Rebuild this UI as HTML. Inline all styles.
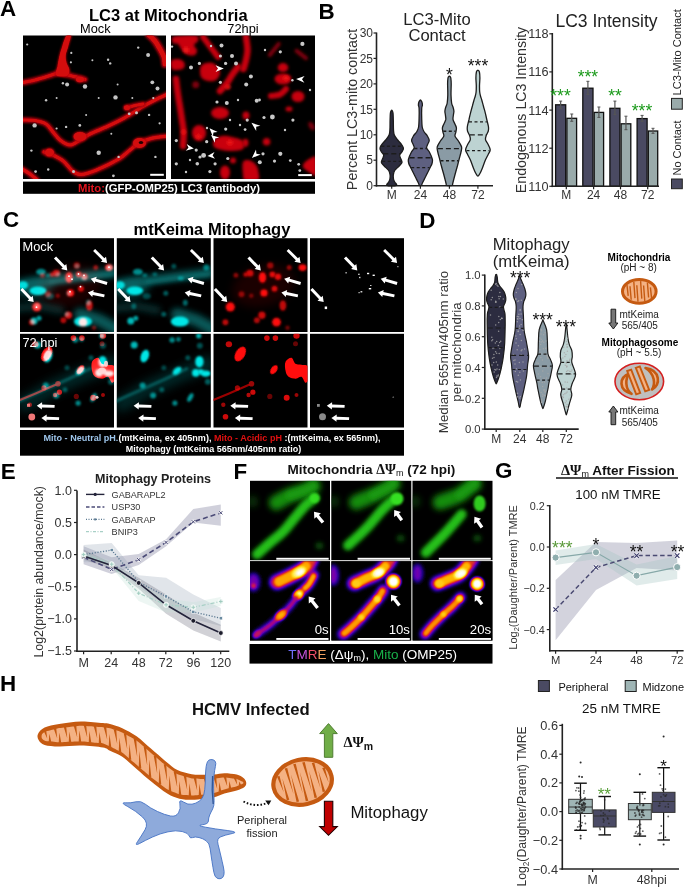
<!DOCTYPE html>
<html><head><meta charset="utf-8">
<style>
html,body{margin:0;padding:0;background:#fff;width:685px;height:888px;overflow:hidden}
svg{display:block;font-family:"Liberation Sans",sans-serif;will-change:transform}
</style></head><body>
<svg width="685" height="888" viewBox="0 0 685 888">
<defs>
<filter id="bl05" filterUnits="userSpaceOnUse" x="0" y="0" width="685" height="888"><feGaussianBlur stdDeviation="0.5"/></filter>
<filter id="bl1" filterUnits="userSpaceOnUse" x="0" y="0" width="685" height="888"><feGaussianBlur stdDeviation="1"/></filter>
<filter id="bl15" filterUnits="userSpaceOnUse" x="0" y="0" width="685" height="888"><feGaussianBlur stdDeviation="1.4"/></filter>
<filter id="bl2" filterUnits="userSpaceOnUse" x="0" y="0" width="685" height="888"><feGaussianBlur stdDeviation="2"/></filter>
<filter id="bl3" filterUnits="userSpaceOnUse" x="0" y="0" width="685" height="888"><feGaussianBlur stdDeviation="3"/></filter>
<filter id="bl5" filterUnits="userSpaceOnUse" x="0" y="0" width="685" height="888"><feGaussianBlur stdDeviation="5"/></filter>
<clipPath id="cA1"><rect x="23" y="35.5" width="143" height="143.5"/></clipPath>
<clipPath id="cA2"><rect x="171" y="35.5" width="144" height="143.5"/></clipPath>
</defs>
<text x="0" y="15.8" font-size="22.4" text-anchor="start" fill="#000" font-weight="bold">A</text>
<text x="89" y="20.5" font-size="16.5" text-anchor="start" fill="#000" font-weight="bold">LC3 at Mitochondria</text>
<text x="95.3" y="33.4" font-size="12.8" text-anchor="middle" fill="#000">Mock</text>
<text x="243" y="33.4" font-size="12.8" text-anchor="middle" fill="#000">72hpi</text>
<rect x="23" y="35.5" width="143" height="143.5" fill="#000"/>
<rect x="171" y="35.5" width="144" height="143.5" fill="#000"/>
<g clip-path="url(#cA1)">
<path d="M23.0,82.5 C25.0,82.1 31.0,81.0 35.0,80.0 C39.0,79.0 43.5,77.6 47.0,76.5 C50.5,75.4 54.5,74.0 56.0,73.5" fill="none" stroke="#a0000a" stroke-width="6.0" stroke-linecap="round" filter="url(#bl1)"/>
<path d="M23.0,82.5 C25.0,82.1 31.0,81.0 35.0,80.0 C39.0,79.0 43.5,77.6 47.0,76.5 C50.5,75.4 54.5,74.0 56.0,73.5" fill="none" stroke="#d40c0c" stroke-width="3.3" stroke-linecap="round" filter="url(#bl05)"/>
<path d="M64.0,74.0 C65.3,74.3 69.3,75.3 72.0,76.0 C74.7,76.7 77.8,77.4 80.0,78.0 C82.2,78.6 84.2,79.2 85.0,79.5" fill="none" stroke="#a0000a" stroke-width="6.0" stroke-linecap="round" filter="url(#bl1)"/>
<path d="M64.0,74.0 C65.3,74.3 69.3,75.3 72.0,76.0 C74.7,76.7 77.8,77.4 80.0,78.0 C82.2,78.6 84.2,79.2 85.0,79.5" fill="none" stroke="#d40c0c" stroke-width="3.3" stroke-linecap="round" filter="url(#bl05)"/>
<path d="M149.0,35.0 C150.0,36.0 153.2,38.7 155.0,41.0 C156.8,43.3 158.5,46.3 160.0,49.0 C161.5,51.7 163.2,54.5 164.0,57.0 C164.8,59.5 164.8,62.8 165.0,64.0" fill="none" stroke="#a0000a" stroke-width="7.9" stroke-linecap="round" filter="url(#bl1)"/>
<path d="M149.0,35.0 C150.0,36.0 153.2,38.7 155.0,41.0 C156.8,43.3 158.5,46.3 160.0,49.0 C161.5,51.7 163.2,54.5 164.0,57.0 C164.8,59.5 164.8,62.8 165.0,64.0" fill="none" stroke="#d40c0c" stroke-width="4.7" stroke-linecap="round" filter="url(#bl05)"/>
<path d="M22.0,120.0 C24.2,120.1 31.0,119.8 35.0,120.5 C39.0,121.2 43.0,122.1 46.0,124.0 C49.0,125.9 50.7,129.3 53.0,132.0 C55.3,134.7 57.2,137.8 60.0,140.0 C62.8,142.2 66.7,145.0 70.0,145.0 C73.3,145.0 76.7,141.8 80.0,140.0 C83.3,138.2 85.4,136.3 90.0,134.0 C94.6,131.7 101.8,129.0 107.6,126.3 C113.4,123.6 119.2,120.9 125.0,117.6 C130.8,114.3 137.6,109.5 142.6,106.6 C147.6,103.7 150.8,102.1 155.0,100.0 C159.2,97.9 165.8,95.0 168.0,94.0" fill="none" stroke="#a0000a" stroke-width="5.8" stroke-linecap="round" filter="url(#bl1)"/>
<path d="M22.0,120.0 C24.2,120.1 31.0,119.8 35.0,120.5 C39.0,121.2 43.0,122.1 46.0,124.0 C49.0,125.9 50.7,129.3 53.0,132.0 C55.3,134.7 57.2,137.8 60.0,140.0 C62.8,142.2 66.7,145.0 70.0,145.0 C73.3,145.0 76.7,141.8 80.0,140.0 C83.3,138.2 85.4,136.3 90.0,134.0 C94.6,131.7 101.8,129.0 107.6,126.3 C113.4,123.6 119.2,120.9 125.0,117.6 C130.8,114.3 137.6,109.5 142.6,106.6 C147.6,103.7 150.8,102.1 155.0,100.0 C159.2,97.9 165.8,95.0 168.0,94.0" fill="none" stroke="#d40c0c" stroke-width="3.2" stroke-linecap="round" filter="url(#bl05)"/>
<path d="M127.0,107.7 C128.3,107.3 132.3,106.1 135.0,105.5 C137.7,104.9 141.7,104.2 143.0,104.0" fill="none" stroke="#a0000a" stroke-width="5.4" stroke-linecap="round" filter="url(#bl1)"/>
<path d="M127.0,107.7 C128.3,107.3 132.3,106.1 135.0,105.5 C137.7,104.9 141.7,104.2 143.0,104.0" fill="none" stroke="#d40c0c" stroke-width="2.9" stroke-linecap="round" filter="url(#bl05)"/>
<path d="M44.0,152.0 C45.5,152.5 49.7,153.4 53.0,155.0 C56.3,156.6 60.5,158.7 63.8,161.4 C67.0,164.1 69.6,168.8 72.5,171.0 C75.4,173.2 77.3,174.7 81.3,174.5 C85.3,174.3 90.4,172.7 96.6,170.1 C102.8,167.5 112.9,162.5 118.5,159.2 C124.1,155.8 126.6,152.7 130.0,150.0 C133.4,147.3 135.4,144.9 139.0,143.0 C142.6,141.1 146.6,139.6 151.4,138.4 C156.2,137.2 165.2,136.4 168.0,136.0" fill="none" stroke="#a0000a" stroke-width="5.8" stroke-linecap="round" filter="url(#bl1)"/>
<path d="M44.0,152.0 C45.5,152.5 49.7,153.4 53.0,155.0 C56.3,156.6 60.5,158.7 63.8,161.4 C67.0,164.1 69.6,168.8 72.5,171.0 C75.4,173.2 77.3,174.7 81.3,174.5 C85.3,174.3 90.4,172.7 96.6,170.1 C102.8,167.5 112.9,162.5 118.5,159.2 C124.1,155.8 126.6,152.7 130.0,150.0 C133.4,147.3 135.4,144.9 139.0,143.0 C142.6,141.1 146.6,139.6 151.4,138.4 C156.2,137.2 165.2,136.4 168.0,136.0" fill="none" stroke="#d40c0c" stroke-width="3.2" stroke-linecap="round" filter="url(#bl05)"/>
<path d="M22.0,169.0 C23.3,169.8 27.5,172.2 30.0,174.0 C32.5,175.8 35.8,179.0 37.0,180.0" fill="none" stroke="#a0000a" stroke-width="6.0" stroke-linecap="round" filter="url(#bl1)"/>
<path d="M22.0,169.0 C23.3,169.8 27.5,172.2 30.0,174.0 C32.5,175.8 35.8,179.0 37.0,180.0" fill="none" stroke="#d40c0c" stroke-width="3.3" stroke-linecap="round" filter="url(#bl05)"/>
<path d="M66.5,35.0 C68.1,33.2 71.1,33.3 71.5,35.0 C71.9,36.7 69.9,41.7 69.0,45.0 C68.1,48.3 66.3,52.0 66.0,55.0 C65.7,58.0 66.3,60.5 67.0,63.0 C67.7,65.5 69.8,67.8 70.0,70.0 C70.2,72.2 69.7,74.8 68.0,76.0 C66.3,77.2 62.2,77.2 60.0,77.0 C57.8,76.8 55.5,76.8 55.0,75.0 C54.5,73.2 56.3,69.2 57.0,66.0 C57.7,62.8 58.2,59.3 59.0,56.0 C59.8,52.7 60.8,49.5 62.0,46.0 C63.2,42.5 64.9,36.8 66.5,35.0Z" fill="#b8000c" filter="url(#bl1)"/>
<path d="M66.2,36.1 C67.6,34.3 70.3,34.5 70.7,36.1 C71.0,37.7 69.2,42.5 68.4,45.7 C67.6,48.9 66.0,52.4 65.7,55.3 C65.4,58.2 66.0,60.6 66.6,63.0 C67.2,65.4 69.2,67.6 69.3,69.7 C69.4,71.8 69.0,74.3 67.5,75.5 C66.0,76.6 62.2,76.6 60.3,76.4 C58.3,76.3 56.2,76.3 55.8,74.5 C55.3,72.7 57.0,68.9 57.6,65.9 C58.2,62.8 58.6,59.5 59.4,56.3 C60.1,53.1 61.0,50.0 62.1,46.7 C63.2,43.3 64.7,37.9 66.2,36.1Z" fill="#d40c0c" filter="url(#bl05)"/>
<ellipse cx="80" cy="79.5" rx="4.8" ry="3.5999999999999996" fill="#b0000c" filter="url(#bl1)"/>
<ellipse cx="80" cy="79.5" rx="4" ry="2.8" fill="#d40c0c" filter="url(#bl05)"/>
<ellipse cx="49.5" cy="152.5" rx="5.3" ry="4.8" fill="#b0000c" filter="url(#bl1)"/>
<ellipse cx="49.5" cy="152.5" rx="4.5" ry="4" fill="#d40c0c" filter="url(#bl05)"/>
<ellipse cx="80" cy="136.5" rx="7.3" ry="5.3" fill="#b0000c" filter="url(#bl1)"/>
<ellipse cx="80" cy="136.5" rx="6.5" ry="4.5" fill="#d40c0c" filter="url(#bl05)"/>
<ellipse cx="139.5" cy="143" rx="7.3" ry="5.8" fill="#b0000c" filter="url(#bl1)"/>
<ellipse cx="139.5" cy="143" rx="6.5" ry="5" fill="#d40c0c" filter="url(#bl05)"/>
<ellipse cx="127" cy="107.7" rx="3.8" ry="3.2" fill="#b0000c" filter="url(#bl1)"/>
<ellipse cx="127" cy="107.7" rx="3" ry="2.4" fill="#d40c0c" filter="url(#bl05)"/>
<ellipse cx="141" cy="142.5" rx="2.2" ry="1.6" fill="#200" filter="url(#bl05)"/>
<circle cx="148.1" cy="55.0" r="2.0" fill="#c4c4c4" filter="url(#bl05)"/>
<circle cx="115.5" cy="97.4" r="2.2" fill="#c4c4c4" filter="url(#bl05)"/>
<circle cx="34.6" cy="125.4" r="2.2" fill="#c4c4c4" filter="url(#bl05)"/>
<circle cx="98.7" cy="152.7" r="2.2" fill="#c4c4c4" filter="url(#bl05)"/>
<circle cx="67.1" cy="84.4" r="2.0" fill="#c4c4c4" filter="url(#bl05)"/>
<circle cx="85.0" cy="86.5" r="2.2" fill="#c4c4c4" filter="url(#bl05)"/>
<circle cx="152.3" cy="82.3" r="1.9" fill="#c4c4c4" filter="url(#bl05)"/>
<circle cx="157.5" cy="88.6" r="2.0" fill="#c4c4c4" filter="url(#bl05)"/>
<circle cx="108.1" cy="59.8" r="1.2" fill="#c4c4c4" filter="url(#bl05)"/>
<circle cx="110.2" cy="63.4" r="1.2" fill="#c4c4c4" filter="url(#bl05)"/>
<circle cx="71.3" cy="52.9" r="1.1" fill="#c4c4c4" filter="url(#bl05)"/>
<circle cx="70.9" cy="62.3" r="1.1" fill="#c4c4c4" filter="url(#bl05)"/>
<circle cx="117.6" cy="84.4" r="1.0" fill="#c4c4c4" filter="url(#bl05)"/>
<circle cx="46.1" cy="100.2" r="1.2" fill="#c4c4c4" filter="url(#bl05)"/>
<circle cx="56.6" cy="98.1" r="1.0" fill="#c4c4c4" filter="url(#bl05)"/>
<circle cx="79.8" cy="125.4" r="1.4" fill="#c4c4c4" filter="url(#bl05)"/>
<circle cx="66.1" cy="126.9" r="1.2" fill="#c4c4c4" filter="url(#bl05)"/>
<circle cx="149.1" cy="114.9" r="1.2" fill="#c4c4c4" filter="url(#bl05)"/>
<circle cx="129.2" cy="113.8" r="1.4" fill="#c4c4c4" filter="url(#bl05)"/>
<circle cx="136.5" cy="112.8" r="1.5" fill="#c4c4c4" filter="url(#bl05)"/>
<circle cx="56.6" cy="128.5" r="1.1" fill="#c4c4c4" filter="url(#bl05)"/>
<circle cx="31.4" cy="150.6" r="1.2" fill="#c4c4c4" filter="url(#bl05)"/>
<circle cx="118.6" cy="156.9" r="1.2" fill="#c4c4c4" filter="url(#bl05)"/>
<circle cx="155.4" cy="156.9" r="1.2" fill="#c4c4c4" filter="url(#bl05)"/>
<circle cx="35.6" cy="171.6" r="1.4" fill="#c4c4c4" filter="url(#bl05)"/>
<circle cx="48.2" cy="169.5" r="1.2" fill="#c4c4c4" filter="url(#bl05)"/>
<circle cx="73.5" cy="171.6" r="1.5" fill="#c4c4c4" filter="url(#bl05)"/>
<circle cx="113.4" cy="175.8" r="1.4" fill="#c4c4c4" filter="url(#bl05)"/>
<circle cx="138.2" cy="47.6" r="1.2" fill="#c4c4c4" filter="url(#bl05)"/>
<circle cx="27.2" cy="44.5" r="1.1" fill="#c4c4c4" filter="url(#bl05)"/>
<circle cx="92.4" cy="60.2" r="1.0" fill="#c4c4c4" filter="url(#bl05)"/>
<circle cx="98.7" cy="98.1" r="1.0" fill="#c4c4c4" filter="url(#bl05)"/>
<circle cx="153.3" cy="98.1" r="1.1" fill="#c4c4c4" filter="url(#bl05)"/>
<circle cx="159.6" cy="123.3" r="1.1" fill="#c4c4c4" filter="url(#bl05)"/>
<circle cx="86.1" cy="114.9" r="1.0" fill="#c4c4c4" filter="url(#bl05)"/>
<circle cx="62.9" cy="83.3" r="1.2" fill="#c4c4c4" filter="url(#bl05)"/>
<circle cx="111.3" cy="133.8" r="1.0" fill="#c4c4c4" filter="url(#bl05)"/>
<circle cx="132.3" cy="98.1" r="1.0" fill="#c4c4c4" filter="url(#bl05)"/>
<rect x="150.2" y="173.8" width="13.6" height="2" fill="#fff"/>
</g>
<g clip-path="url(#cA2)">
<path d="M173.0,37.0 C175.0,35.8 181.0,35.7 185.0,35.5 C189.0,35.3 194.8,35.1 197.0,36.0 C199.2,36.9 198.5,39.5 198.0,41.0 C197.5,42.5 194.2,43.5 194.0,45.0 C193.8,46.5 196.8,48.3 197.0,50.0 C197.2,51.7 196.5,54.2 195.0,55.0 C193.5,55.8 190.2,55.8 188.0,55.0 C185.8,54.2 183.7,51.8 182.0,50.0 C180.3,48.2 179.5,45.2 178.0,44.0 C176.5,42.8 173.8,44.2 173.0,43.0 C172.2,41.8 171.0,38.2 173.0,37.0Z" fill="#c8000e" filter="url(#bl15)"/>
<path d="M171.0,61.0 C172.0,59.3 175.8,58.8 178.0,59.0 C180.2,59.2 183.0,60.5 184.0,62.0 C185.0,63.5 185.0,66.7 184.0,68.0 C183.0,69.3 180.0,69.8 178.0,70.0 C176.0,70.2 173.2,70.5 172.0,69.0 C170.8,67.5 170.0,62.7 171.0,61.0Z" fill="#c8000e" filter="url(#bl15)"/>
<path d="M214.0,140.0 C215.3,138.2 219.0,136.5 222.0,136.0 C225.0,135.5 228.5,136.2 232.0,137.0 C235.5,137.8 241.2,139.0 243.0,141.0 C244.8,143.0 244.8,147.3 243.0,149.0 C241.2,150.7 235.5,150.8 232.0,151.0 C228.5,151.2 225.0,150.7 222.0,150.0 C219.0,149.3 215.3,148.7 214.0,147.0 C212.7,145.3 212.7,141.8 214.0,140.0Z" fill="#c8000e" filter="url(#bl15)"/>
<path d="M243.0,162.0 C244.2,159.6 247.8,160.0 250.0,160.5 C252.2,161.0 254.6,163.1 256.0,165.0 C257.4,166.9 258.2,169.5 258.5,172.0 C258.8,174.5 260.2,178.7 258.0,180.0 C255.8,181.3 247.5,180.8 245.0,180.0 C242.5,179.2 243.3,178.0 243.0,175.0 C242.7,172.0 241.8,164.4 243.0,162.0Z" fill="#c8000e" filter="url(#bl15)"/>
<path d="M305.0,162.0 C306.5,160.4 310.2,158.2 312.0,157.5 C313.8,156.8 315.3,155.1 316.0,158.0 C316.7,160.9 317.2,172.7 316.0,175.0 C314.8,177.3 311.2,173.3 309.0,172.0 C306.8,170.7 303.7,168.7 303.0,167.0 C302.3,165.3 303.5,163.6 305.0,162.0Z" fill="#c8000e" filter="url(#bl15)"/>
<path d="M201.0,66.0 C202.5,63.6 207.3,62.5 210.0,62.5 C212.7,62.5 215.3,64.2 217.0,66.0 C218.7,67.8 220.2,70.7 220.0,73.0 C219.8,75.3 218.0,78.7 216.0,80.0 C214.0,81.3 210.5,81.5 208.0,81.0 C205.5,80.5 202.2,79.5 201.0,77.0 C199.8,74.5 199.5,68.4 201.0,66.0Z" fill="#c8000e" filter="url(#bl15)"/>
<path d="M203.0,37.0 C204.0,38.3 207.0,42.3 209.0,45.0 C211.0,47.7 213.5,51.0 215.0,53.0 C216.5,55.0 217.5,56.3 218.0,57.0" fill="none" stroke="#c8000e" stroke-width="6" stroke-linecap="round" stroke-linejoin="round" filter="url(#bl15)"/>
<path d="M176.0,79.0 C176.3,81.7 177.3,90.3 178.0,95.0 C178.7,99.7 179.3,102.8 180.0,107.0 C180.7,111.2 181.4,115.8 182.0,120.0 C182.6,124.2 183.4,127.7 183.6,132.0 C183.8,136.3 183.1,143.7 183.0,146.0" fill="none" stroke="#c8000e" stroke-width="6.5" stroke-linecap="round" stroke-linejoin="round" filter="url(#bl15)"/>
<path d="M238.0,67.0 C237.0,68.3 233.8,72.3 232.0,75.0 C230.2,77.7 229.0,80.3 227.0,83.0 C225.0,85.7 221.2,89.7 220.0,91.0" fill="none" stroke="#c8000e" stroke-width="6.5" stroke-linecap="round" stroke-linejoin="round" filter="url(#bl15)"/>
<path d="M246.0,37.0 C246.2,39.2 247.5,46.2 247.5,50.0 C247.5,53.8 246.7,56.8 246.0,60.0 C245.3,63.2 243.9,67.5 243.5,69.0" fill="none" stroke="#c8000e" stroke-width="6.5" stroke-linecap="round" stroke-linejoin="round" filter="url(#bl15)"/>
<path d="M278.7,43.9 L269.8,55" fill="none" stroke="#80000a" stroke-width="4" stroke-linecap="round" stroke-linejoin="round" filter="url(#bl15)"/>
<path d="M296.6,50.8 L306,58.1" fill="none" stroke="#80000a" stroke-width="4" stroke-linecap="round" stroke-linejoin="round" filter="url(#bl15)"/>
<path d="M271.0,96.0 C272.5,95.8 277.5,95.7 280.0,94.5 C282.5,93.3 285.0,89.9 286.0,89.0" fill="none" stroke="#c8000e" stroke-width="6" stroke-linecap="round" stroke-linejoin="round" filter="url(#bl15)"/>
<ellipse cx="220" cy="113" rx="9" ry="6" fill="#c8000e" filter="url(#bl15)"/>
<ellipse cx="199" cy="133" rx="7" ry="8" fill="#c8000e" filter="url(#bl15)"/>
<ellipse cx="233" cy="160.5" rx="3" ry="3" fill="#c8000e" filter="url(#bl15)"/>
<ellipse cx="225" cy="172.5" rx="5" ry="7" fill="#c8000e" filter="url(#bl15)"/>
<ellipse cx="246" cy="115.4" rx="3.5" ry="4" fill="#c8000e" filter="url(#bl15)"/>
<ellipse cx="245.5" cy="142.7" rx="3" ry="4" fill="#c8000e" filter="url(#bl15)"/>
<ellipse cx="266.6" cy="141.7" rx="3.8" ry="3.8" fill="#c8000e" filter="url(#bl15)"/>
<ellipse cx="289" cy="109" rx="3.5" ry="2.5" fill="#c8000e" filter="url(#bl15)"/>
<ellipse cx="311.5" cy="126" rx="2.5" ry="4.5" fill="#80000a" transform="rotate(-30 311.5 126)" filter="url(#bl15)"/>
<ellipse cx="283" cy="67.6" rx="5.3" ry="4.5" fill="#c8000e" filter="url(#bl15)"/>
<ellipse cx="283" cy="79" rx="8.5" ry="5.5" fill="#c8000e" filter="url(#bl15)"/>
<ellipse cx="298" cy="96.5" rx="6.5" ry="5.5" fill="#c8000e" filter="url(#bl15)"/>
<ellipse cx="195.7" cy="84.8" rx="3.5" ry="3.5" fill="#80000a" filter="url(#bl15)"/>
<ellipse cx="228" cy="87" rx="2.5" ry="2.5" fill="#f01212" filter="url(#bl15)"/>
<ellipse cx="286" cy="78" rx="3" ry="2.5" fill="#f01212" filter="url(#bl15)"/>
<ellipse cx="198.3" cy="136.4" rx="2.5" ry="2.5" fill="#f01212" filter="url(#bl15)"/>
<ellipse cx="229.9" cy="142.7" rx="3" ry="2.5" fill="#f01212" filter="url(#bl15)"/>
<ellipse cx="183.6" cy="132" rx="2" ry="3" fill="#f01212" filter="url(#bl15)"/>
<ellipse cx="186" cy="50" rx="3" ry="3" fill="#f01212" filter="url(#bl15)"/>
<circle cx="221.5" cy="45.5" r="2.0" fill="#c8c8c8" filter="url(#bl05)"/>
<circle cx="220.4" cy="56" r="1.6" fill="#c8c8c8" filter="url(#bl05)"/>
<circle cx="232" cy="56" r="2.0" fill="#c8c8c8" filter="url(#bl05)"/>
<circle cx="236" cy="63.4" r="2.0" fill="#c8c8c8" filter="url(#bl05)"/>
<circle cx="225.6" cy="63.4" r="1.6" fill="#c8c8c8" filter="url(#bl05)"/>
<circle cx="199.4" cy="63.4" r="1.6" fill="#c8c8c8" filter="url(#bl05)"/>
<circle cx="191" cy="67.6" r="2.0" fill="#c8c8c8" filter="url(#bl05)"/>
<circle cx="220.4" cy="82.3" r="1.6" fill="#c8c8c8" filter="url(#bl05)"/>
<circle cx="217" cy="102" r="1.6" fill="#c8c8c8" filter="url(#bl05)"/>
<circle cx="226.8" cy="103" r="2.0" fill="#c8c8c8" filter="url(#bl05)"/>
<circle cx="172" cy="46.6" r="1.2" fill="#c8c8c8" filter="url(#bl05)"/>
<circle cx="302.4" cy="43.9" r="2.1" fill="#c8c8c8" filter="url(#bl05)"/>
<circle cx="280.3" cy="51.8" r="1.6" fill="#c8c8c8" filter="url(#bl05)"/>
<circle cx="250.9" cy="76.5" r="2.0" fill="#c8c8c8" filter="url(#bl05)"/>
<circle cx="246.2" cy="84.4" r="2.0" fill="#c8c8c8" filter="url(#bl05)"/>
<circle cx="256.7" cy="100.7" r="2.0" fill="#c8c8c8" filter="url(#bl05)"/>
<circle cx="259.5" cy="100" r="1.4" fill="#c8c8c8" filter="url(#bl05)"/>
<circle cx="292.4" cy="80.2" r="1.2" fill="#c8c8c8" filter="url(#bl05)"/>
<circle cx="176.3" cy="140.6" r="1.6" fill="#c8c8c8" filter="url(#bl05)"/>
<circle cx="196.2" cy="150.1" r="1.6" fill="#c8c8c8" filter="url(#bl05)"/>
<circle cx="203.6" cy="155.4" r="2.4" fill="#c8c8c8" filter="url(#bl05)"/>
<circle cx="197.3" cy="163.8" r="1.8" fill="#c8c8c8" filter="url(#bl05)"/>
<circle cx="176.3" cy="163.8" r="1.6" fill="#c8c8c8" filter="url(#bl05)"/>
<circle cx="209.9" cy="171.6" r="1.6" fill="#c8c8c8" filter="url(#bl05)"/>
<circle cx="215.1" cy="163.8" r="1.6" fill="#c8c8c8" filter="url(#bl05)"/>
<circle cx="225.7" cy="129.1" r="1.6" fill="#c8c8c8" filter="url(#bl05)"/>
<circle cx="206.7" cy="141.7" r="1.6" fill="#c8c8c8" filter="url(#bl05)"/>
<circle cx="227.8" cy="158.5" r="1.6" fill="#c8c8c8" filter="url(#bl05)"/>
<circle cx="247.2" cy="120.1" r="1.6" fill="#c8c8c8" filter="url(#bl05)"/>
<circle cx="272.4" cy="117" r="2.4" fill="#c8c8c8" filter="url(#bl05)"/>
<circle cx="264" cy="117.5" r="1.6" fill="#c8c8c8" filter="url(#bl05)"/>
<circle cx="292.9" cy="120.1" r="1.6" fill="#c8c8c8" filter="url(#bl05)"/>
<circle cx="280.3" cy="153.8" r="2.1" fill="#c8c8c8" filter="url(#bl05)"/>
<circle cx="259.8" cy="162.2" r="2.0" fill="#c8c8c8" filter="url(#bl05)"/>
<circle cx="263" cy="153.8" r="1.6" fill="#c8c8c8" filter="url(#bl05)"/>
<circle cx="274.5" cy="161.1" r="1.6" fill="#c8c8c8" filter="url(#bl05)"/>
<circle cx="290.3" cy="160.6" r="1.4" fill="#c8c8c8" filter="url(#bl05)"/>
<circle cx="298.7" cy="164.3" r="1.4" fill="#c8c8c8" filter="url(#bl05)"/>
<circle cx="299.8" cy="170.6" r="1.4" fill="#c8c8c8" filter="url(#bl05)"/>
<circle cx="245.1" cy="129.6" r="1.4" fill="#c8c8c8" filter="url(#bl05)"/>
<circle cx="186" cy="172" r="1.2" fill="#c8c8c8" filter="url(#bl05)"/>
<circle cx="230" cy="120" r="1.2" fill="#c8c8c8" filter="url(#bl05)"/>
<circle cx="211" cy="46" r="1.2" fill="#c8c8c8" filter="url(#bl05)"/>
<circle cx="207" cy="128" r="1.2" fill="#c8c8c8" filter="url(#bl05)"/>
<circle cx="200" cy="157" r="1.6" fill="#c8c8c8" filter="url(#bl05)"/>
<circle cx="190" cy="160" r="1.2" fill="#c8c8c8" filter="url(#bl05)"/>
<circle cx="238" cy="100" r="1.2" fill="#c8c8c8" filter="url(#bl05)"/>
<circle cx="265" cy="50" r="1.2" fill="#c8c8c8" filter="url(#bl05)"/>
<circle cx="310" cy="90" r="1.2" fill="#c8c8c8" filter="url(#bl05)"/>
<circle cx="285" cy="130" r="1.2" fill="#c8c8c8" filter="url(#bl05)"/>
<circle cx="240" cy="125" r="1.2" fill="#c8c8c8" filter="url(#bl05)"/>
<path d="M223.8,68.6 L215.5,72.0 L218.0,68.6 L215.5,65.2Z" fill="#fff"/>
<path d="M296.1,79.1 L304.6,76.0 L302.0,79.3 L304.4,82.8Z" fill="#fff"/>
<path d="M193.8,148.5 L185.7,150.7 L188.5,147.7 L186.7,144.0Z" fill="#fff"/>
<path d="M209.5,128.3 L217.7,131.9 L213.5,132.5 L212.8,136.6Z" fill="#fff"/>
<path d="M211.0,135.0 L219.2,137.6 L215.2,138.6 L214.8,142.7Z" fill="#fff"/>
<path d="M207.5,155.9 L214.5,152.0 L212.6,155.6 L215.0,158.8Z" fill="#fff"/>
<path d="M251.4,122.8 L260.4,125.7 L256.2,126.7 L256.2,131.0Z" fill="#fff"/>
<path d="M251.9,158.0 L256.0,149.5 L256.4,153.8 L260.7,154.5Z" fill="#fff"/>
<rect x="298.2" y="174.1" width="13.6" height="2" fill="#fff"/>
</g>
<rect x="23" y="181.6" width="292" height="12.2" fill="#000"/>
<text x="169" y="191.6" font-size="11.3" font-weight="bold" text-anchor="middle" fill="#fff"><tspan fill="#e0141e">Mito:</tspan>(GFP-OMP25) LC3 (antibody)</text>
<text x="318.4" y="19.3" font-size="22.4" text-anchor="start" fill="#000" font-weight="bold">B</text>
<text x="437" y="24.8" font-size="16.6" text-anchor="middle" fill="#222">LC3-Mito</text>
<text x="437" y="40.9" font-size="16.6" text-anchor="middle" fill="#222">Contact</text>
<line x1="376.5" y1="32.5" x2="376.5" y2="186.5" stroke="#222" stroke-width="1.6"/>
<line x1="375.7" y1="185.7" x2="493" y2="185.7" stroke="#222" stroke-width="1.6"/>
<line x1="373.5" y1="185.7" x2="376.5" y2="185.7" stroke="#222" stroke-width="1.2"/>
<text x="373" y="189.9" font-size="12" text-anchor="end" fill="#333">0</text>
<line x1="373.5" y1="160.2" x2="376.5" y2="160.2" stroke="#222" stroke-width="1.2"/>
<text x="373" y="164.4" font-size="12" text-anchor="end" fill="#333">5</text>
<line x1="373.5" y1="134.8" x2="376.5" y2="134.8" stroke="#222" stroke-width="1.2"/>
<text x="373" y="139.0" font-size="12" text-anchor="end" fill="#333">10</text>
<line x1="373.5" y1="109.3" x2="376.5" y2="109.3" stroke="#222" stroke-width="1.2"/>
<text x="373" y="113.5" font-size="12" text-anchor="end" fill="#333">15</text>
<line x1="373.5" y1="83.9" x2="376.5" y2="83.9" stroke="#222" stroke-width="1.2"/>
<text x="373" y="88.1" font-size="12" text-anchor="end" fill="#333">20</text>
<line x1="373.5" y1="58.4" x2="376.5" y2="58.4" stroke="#222" stroke-width="1.2"/>
<text x="373" y="62.6" font-size="12" text-anchor="end" fill="#333">25</text>
<line x1="373.5" y1="33.0" x2="376.5" y2="33.0" stroke="#222" stroke-width="1.2"/>
<text x="373" y="37.2" font-size="12" text-anchor="end" fill="#333">30</text>
<line x1="391.7" y1="185.7" x2="391.7" y2="188.7" stroke="#222" stroke-width="1.2"/>
<text x="391.7" y="198.5" font-size="12" text-anchor="middle" fill="#333">M</text>
<line x1="420.4" y1="185.7" x2="420.4" y2="188.7" stroke="#222" stroke-width="1.2"/>
<text x="420.4" y="198.5" font-size="12" text-anchor="middle" fill="#333">24</text>
<line x1="449.4" y1="185.7" x2="449.4" y2="188.7" stroke="#222" stroke-width="1.2"/>
<text x="449.4" y="198.5" font-size="12" text-anchor="middle" fill="#333">48</text>
<line x1="477.9" y1="185.7" x2="477.9" y2="188.7" stroke="#222" stroke-width="1.2"/>
<text x="477.9" y="198.5" font-size="12" text-anchor="middle" fill="#333">72</text>
<text transform="translate(357.4,109.5) rotate(-90)" font-size="14.3" text-anchor="middle" fill="#333">Percent LC3-mito contact</text>
<path d="M392.1,110.5 C392.4,110.9 392.8,111.4 393.0,113.0 C393.2,114.6 393.2,117.2 393.3,120.0 C393.4,122.8 393.3,127.5 393.5,130.0 C393.7,132.5 393.6,133.3 394.3,135.0 C395.0,136.7 396.6,138.5 397.7,140.0 C398.8,141.5 400.2,142.7 401.2,144.0 C402.1,145.3 403.2,146.8 403.4,148.0 C403.6,149.2 402.8,150.3 402.2,151.5 C401.6,152.7 399.9,153.8 399.7,155.0 C399.4,156.2 400.3,157.3 400.7,158.5 C401.1,159.7 402.2,161.2 402.0,162.4 C401.8,163.7 400.4,164.7 399.2,166.0 C398.0,167.3 395.7,169.0 394.7,170.5 C393.7,172.0 393.5,173.6 393.3,175.0 C393.1,176.4 393.3,177.8 393.5,179.0 C393.7,180.2 394.2,180.9 394.7,182.0 C395.2,183.1 397.6,184.8 396.3,185.3 C395.0,185.9 388.4,185.9 387.1,185.3 C385.8,184.8 388.2,183.1 388.7,182.0 C389.2,180.9 389.7,180.2 389.9,179.0 C390.1,177.8 390.3,176.4 390.1,175.0 C389.9,173.6 389.7,172.0 388.7,170.5 C387.7,169.0 385.4,167.3 384.2,166.0 C383.0,164.7 381.6,163.7 381.4,162.4 C381.1,161.2 382.3,159.7 382.7,158.5 C383.1,157.3 383.9,156.2 383.7,155.0 C383.4,153.8 381.8,152.7 381.2,151.5 C380.6,150.3 379.8,149.2 380.0,148.0 C380.2,146.8 381.2,145.3 382.2,144.0 C383.1,142.7 384.6,141.5 385.7,140.0 C386.8,138.5 388.4,136.7 389.1,135.0 C389.8,133.3 389.7,132.5 389.9,130.0 C390.1,127.5 390.0,122.8 390.1,120.0 C390.2,117.2 390.2,114.6 390.4,113.0 C390.6,111.4 391.0,110.9 391.3,110.5 C391.6,110.1 391.8,110.1 392.1,110.5Z" fill="#2c2c3e" stroke="#1c1c1c" stroke-width="1.3"/>
<line x1="381.4" y1="146.3" x2="402.0" y2="146.3" stroke="#1c1c1c" stroke-width="1.4" stroke-dasharray="3,2.5"/>
<line x1="383.3" y1="153.7" x2="400.1" y2="153.7" stroke="#1c1c1c" stroke-width="1.4" stroke-dasharray="5,3"/>
<line x1="382.2" y1="161.4" x2="401.2" y2="161.4" stroke="#1c1c1c" stroke-width="1.4" stroke-dasharray="3,2.5"/>
<path d="M420.8,100.2 C421.1,100.5 421.6,101.2 421.9,102.0 C422.2,102.8 422.4,103.9 422.4,105.0 C422.4,106.1 421.8,106.3 421.7,108.5 C421.6,110.7 421.6,114.9 421.7,118.0 C421.8,121.1 421.8,124.8 422.2,127.0 C422.6,129.2 423.0,130.0 423.9,131.5 C424.8,133.0 426.5,134.5 427.4,136.0 C428.3,137.5 429.2,139.1 429.2,140.5 C429.2,141.9 428.0,143.2 427.6,144.5 C427.2,145.8 426.3,146.7 426.6,148.0 C426.9,149.3 428.6,150.6 429.6,152.5 C430.6,154.4 432.0,157.7 432.4,159.5 C432.8,161.3 432.3,162.2 432.0,163.5 C431.7,164.8 431.1,165.6 430.4,167.0 C429.7,168.4 428.8,170.2 427.9,172.0 C427.0,173.8 425.8,176.2 424.9,178.0 C424.0,179.8 423.0,181.8 422.4,183.0 C421.8,184.2 421.9,184.9 421.4,185.3 C420.9,185.7 419.9,185.7 419.4,185.3 C418.9,184.9 419.0,184.2 418.4,183.0 C417.8,181.8 416.8,179.8 415.9,178.0 C415.0,176.2 413.8,173.8 412.9,172.0 C412.0,170.2 411.1,168.4 410.4,167.0 C409.7,165.6 409.1,164.8 408.8,163.5 C408.5,162.2 408.0,161.3 408.4,159.5 C408.8,157.7 410.2,154.4 411.2,152.5 C412.2,150.6 413.9,149.3 414.2,148.0 C414.5,146.7 413.6,145.8 413.2,144.5 C412.8,143.2 411.6,141.9 411.6,140.5 C411.6,139.1 412.5,137.5 413.4,136.0 C414.3,134.5 416.0,133.0 416.9,131.5 C417.8,130.0 418.2,129.2 418.6,127.0 C419.0,124.8 419.0,121.1 419.1,118.0 C419.2,114.9 419.2,110.7 419.1,108.5 C419.0,106.3 418.4,106.1 418.4,105.0 C418.4,103.9 418.6,102.8 418.9,102.0 C419.2,101.2 419.7,100.5 420.0,100.2 C420.3,99.9 420.5,99.9 420.8,100.2Z" fill="#5e6080" stroke="#1c1c1c" stroke-width="1.3"/>
<line x1="414.4" y1="148.5" x2="426.4" y2="148.5" stroke="#1c1c1c" stroke-width="1.4" stroke-dasharray="3,2.5"/>
<line x1="409.6" y1="157.8" x2="431.2" y2="157.8" stroke="#1c1c1c" stroke-width="1.4" stroke-dasharray="5,3"/>
<line x1="411.2" y1="167.6" x2="429.6" y2="167.6" stroke="#1c1c1c" stroke-width="1.4" stroke-dasharray="3,2.5"/>
<path d="M449.8,76.3 C450.1,76.6 450.6,76.7 450.8,78.0 C451.0,79.3 451.2,81.2 451.2,84.0 C451.2,86.8 450.9,91.8 451.0,95.0 C451.1,98.2 451.3,101.0 451.6,103.0 C451.9,105.0 452.6,105.7 453.0,107.0 C453.4,108.3 453.8,109.7 453.9,111.0 C454.0,112.3 453.5,113.6 453.4,115.0 C453.2,116.4 452.8,117.9 453.0,119.4 C453.2,120.9 454.3,122.6 454.9,124.0 C455.5,125.4 456.2,126.5 456.4,127.8 C456.6,129.1 456.1,130.6 455.9,132.0 C455.7,133.4 454.6,134.7 455.0,136.2 C455.4,137.7 457.3,139.2 458.4,141.0 C459.5,142.8 461.2,145.2 461.6,147.0 C462.0,148.8 461.4,150.1 461.0,152.0 C460.6,153.9 460.0,155.9 459.4,158.2 C458.8,160.5 458.1,163.2 457.4,166.0 C456.6,168.8 455.7,172.0 454.9,175.0 C454.1,178.0 453.0,182.3 452.6,184.0 C452.2,185.7 453.4,185.1 452.4,185.3 C451.4,185.5 447.4,185.5 446.4,185.3 C445.4,185.1 446.6,185.7 446.2,184.0 C445.8,182.3 444.7,178.0 443.9,175.0 C443.1,172.0 442.1,168.8 441.4,166.0 C440.6,163.2 440.0,160.5 439.4,158.2 C438.8,155.9 438.2,153.9 437.8,152.0 C437.4,150.1 436.8,148.8 437.2,147.0 C437.6,145.2 439.3,142.8 440.4,141.0 C441.5,139.2 443.4,137.7 443.8,136.2 C444.2,134.7 443.1,133.4 442.9,132.0 C442.7,130.6 442.2,129.1 442.4,127.8 C442.6,126.5 443.3,125.4 443.9,124.0 C444.5,122.6 445.5,120.9 445.8,119.4 C446.0,117.9 445.5,116.4 445.4,115.0 C445.2,113.6 444.8,112.3 444.9,111.0 C445.0,109.7 445.4,108.3 445.8,107.0 C446.2,105.7 446.9,105.0 447.2,103.0 C447.5,101.0 447.7,98.2 447.8,95.0 C447.9,91.8 447.6,86.8 447.6,84.0 C447.6,81.2 447.8,79.3 448.0,78.0 C448.2,76.7 448.7,76.6 449.0,76.3 C449.3,76.0 449.5,76.0 449.8,76.3Z" fill="#8a9ba5" stroke="#1c1c1c" stroke-width="1.3"/>
<line x1="443.3" y1="131.2" x2="455.5" y2="131.2" stroke="#1c1c1c" stroke-width="1.4" stroke-dasharray="3,2.5"/>
<line x1="437.9" y1="148.6" x2="460.9" y2="148.6" stroke="#1c1c1c" stroke-width="1.4" stroke-dasharray="5,3"/>
<line x1="440.5" y1="160.7" x2="458.3" y2="160.7" stroke="#1c1c1c" stroke-width="1.4" stroke-dasharray="3,2.5"/>
<path d="M478.3,70.4 C478.6,70.7 479.1,70.7 479.4,72.0 C479.7,73.3 479.9,75.7 479.9,78.0 C479.9,80.3 479.5,83.7 479.5,86.0 C479.5,88.3 479.5,90.3 479.7,92.0 C479.9,93.7 480.1,94.6 480.5,96.0 C480.9,97.4 481.4,98.8 481.9,100.5 C482.4,102.2 482.8,104.0 483.4,106.0 C483.9,108.0 484.6,110.3 485.2,112.6 C485.8,114.9 486.3,117.6 486.9,120.0 C487.4,122.4 488.3,125.2 488.5,127.0 C488.7,128.8 488.7,129.6 488.3,131.0 C487.9,132.4 486.7,134.1 486.2,135.5 C485.7,136.9 485.2,138.2 485.5,139.6 C485.8,141.0 487.1,142.3 487.9,144.0 C488.7,145.7 490.1,148.0 490.2,149.7 C490.3,151.4 489.2,152.3 488.4,154.0 C487.6,155.7 486.4,157.7 485.4,160.0 C484.4,162.3 483.3,165.8 482.4,168.0 C481.5,170.2 480.9,171.7 480.2,173.0 C479.5,174.3 478.9,175.4 478.4,175.9 C477.9,176.4 477.9,176.4 477.4,175.9 C476.9,175.4 476.3,174.3 475.6,173.0 C474.9,171.7 474.3,170.2 473.4,168.0 C472.5,165.8 471.4,162.3 470.4,160.0 C469.4,157.7 468.2,155.7 467.4,154.0 C466.6,152.3 465.5,151.4 465.6,149.7 C465.7,148.0 467.1,145.7 467.9,144.0 C468.7,142.3 470.0,141.0 470.3,139.6 C470.6,138.2 470.1,136.9 469.6,135.5 C469.1,134.1 467.9,132.4 467.5,131.0 C467.1,129.6 467.1,128.8 467.3,127.0 C467.5,125.2 468.3,122.4 468.9,120.0 C469.4,117.6 470.0,114.9 470.6,112.6 C471.2,110.3 471.8,108.0 472.4,106.0 C472.9,104.0 473.4,102.2 473.9,100.5 C474.4,98.8 474.9,97.4 475.3,96.0 C475.7,94.6 475.9,93.7 476.1,92.0 C476.3,90.3 476.3,88.3 476.3,86.0 C476.3,83.7 475.9,80.3 475.9,78.0 C475.9,75.7 476.1,73.3 476.4,72.0 C476.7,70.7 477.2,70.7 477.5,70.4 C477.8,70.1 478.0,70.1 478.3,70.4Z" fill="#bdd3d2" stroke="#1c1c1c" stroke-width="1.3"/>
<line x1="469.0" y1="121.9" x2="486.8" y2="121.9" stroke="#1c1c1c" stroke-width="1.4" stroke-dasharray="3,2.5"/>
<line x1="469.8" y1="134.9" x2="486.0" y2="134.9" stroke="#1c1c1c" stroke-width="1.4" stroke-dasharray="5,3"/>
<line x1="466.5" y1="150.6" x2="489.3" y2="150.6" stroke="#1c1c1c" stroke-width="1.4" stroke-dasharray="3,2.5"/>
<text x="449.4" y="80.5" font-size="17.5" text-anchor="middle" fill="#111">*</text>
<text x="478" y="71.8" font-size="17.5" text-anchor="middle" fill="#111">***</text>
<text x="606.5" y="27" font-size="17.5" text-anchor="middle" fill="#222">LC3 Intensity</text>
<line x1="552.3" y1="33" x2="552.3" y2="187.10000000000002" stroke="#222" stroke-width="1.6"/>
<line x1="549.3" y1="186.3" x2="552.3" y2="186.3" stroke="#222" stroke-width="1.2"/>
<text x="548.6" y="190.7" font-size="12.7" text-anchor="end" fill="#333">110</text>
<line x1="549.3" y1="148.2" x2="552.3" y2="148.2" stroke="#222" stroke-width="1.2"/>
<text x="548.6" y="152.6" font-size="12.7" text-anchor="end" fill="#333">112</text>
<line x1="549.3" y1="110.1" x2="552.3" y2="110.1" stroke="#222" stroke-width="1.2"/>
<text x="548.6" y="114.5" font-size="12.7" text-anchor="end" fill="#333">114</text>
<line x1="549.3" y1="71.9" x2="552.3" y2="71.9" stroke="#222" stroke-width="1.2"/>
<text x="548.6" y="76.3" font-size="12.7" text-anchor="end" fill="#333">116</text>
<line x1="549.3" y1="33.8" x2="552.3" y2="33.8" stroke="#222" stroke-width="1.2"/>
<text x="548.6" y="38.2" font-size="12.7" text-anchor="end" fill="#333">118</text>
<rect x="555.6" y="104.8" width="10.099999999999955" height="81.50000000000001" fill="#4a4a62" stroke="#111" stroke-width="1.3"/>
<line x1="560.65" y1="101.1" x2="560.65" y2="108.7" stroke="#555" stroke-width="1.2"/>
<line x1="559.15" y1="101.1" x2="562.15" y2="101.1" stroke="#555" stroke-width="1"/>
<line x1="559.15" y1="108.7" x2="562.15" y2="108.7" stroke="#555" stroke-width="1"/>
<rect x="566.9" y="118.3" width="9.700000000000092" height="68.00000000000001" fill="#9aabab" stroke="#111" stroke-width="1.3"/>
<line x1="571.75" y1="114" x2="571.75" y2="121.3" stroke="#555" stroke-width="1.2"/>
<line x1="570.25" y1="114" x2="573.25" y2="114" stroke="#555" stroke-width="1"/>
<line x1="570.25" y1="121.3" x2="573.25" y2="121.3" stroke="#555" stroke-width="1"/>
<rect x="582.8000000000001" y="88.2" width="10.199999999999978" height="98.10000000000001" fill="#4a4a62" stroke="#111" stroke-width="1.3"/>
<line x1="587.9000000000001" y1="81.3" x2="587.9000000000001" y2="94.4" stroke="#555" stroke-width="1.2"/>
<line x1="586.4000000000001" y1="81.3" x2="589.4000000000001" y2="81.3" stroke="#555" stroke-width="1"/>
<line x1="586.4000000000001" y1="94.4" x2="589.4000000000001" y2="94.4" stroke="#555" stroke-width="1"/>
<rect x="594.2" y="112.4" width="9.400000000000023" height="73.9" fill="#9aabab" stroke="#111" stroke-width="1.3"/>
<line x1="598.9000000000001" y1="107" x2="598.9000000000001" y2="117.4" stroke="#555" stroke-width="1.2"/>
<line x1="597.4000000000001" y1="107" x2="600.4000000000001" y2="107" stroke="#555" stroke-width="1"/>
<line x1="597.4000000000001" y1="117.4" x2="600.4000000000001" y2="117.4" stroke="#555" stroke-width="1"/>
<rect x="609.9" y="108.3" width="10.000000000000046" height="78.00000000000001" fill="#4a4a62" stroke="#111" stroke-width="1.3"/>
<line x1="614.9" y1="101.1" x2="614.9" y2="114.6" stroke="#555" stroke-width="1.2"/>
<line x1="613.4" y1="101.1" x2="616.4" y2="101.1" stroke="#555" stroke-width="1"/>
<line x1="613.4" y1="114.6" x2="616.4" y2="114.6" stroke="#555" stroke-width="1"/>
<rect x="621.1" y="123.8" width="9.699999999999978" height="62.500000000000014" fill="#9aabab" stroke="#111" stroke-width="1.3"/>
<line x1="625.95" y1="116.2" x2="625.95" y2="129.7" stroke="#555" stroke-width="1.2"/>
<line x1="624.45" y1="116.2" x2="627.45" y2="116.2" stroke="#555" stroke-width="1"/>
<line x1="624.45" y1="129.7" x2="627.45" y2="129.7" stroke="#555" stroke-width="1"/>
<rect x="637.1" y="118.6" width="10.000000000000046" height="67.70000000000002" fill="#4a4a62" stroke="#111" stroke-width="1.3"/>
<line x1="642.1" y1="115.4" x2="642.1" y2="121.3" stroke="#555" stroke-width="1.2"/>
<line x1="640.6" y1="115.4" x2="643.6" y2="115.4" stroke="#555" stroke-width="1"/>
<line x1="640.6" y1="121.3" x2="643.6" y2="121.3" stroke="#555" stroke-width="1"/>
<rect x="648.3000000000001" y="131" width="9.39999999999991" height="55.30000000000001" fill="#9aabab" stroke="#111" stroke-width="1.3"/>
<line x1="653.0" y1="128.3" x2="653.0" y2="133.4" stroke="#555" stroke-width="1.2"/>
<line x1="651.5" y1="128.3" x2="654.5" y2="128.3" stroke="#555" stroke-width="1"/>
<line x1="651.5" y1="133.4" x2="654.5" y2="133.4" stroke="#555" stroke-width="1"/>
<line x1="551.5" y1="186.3" x2="659" y2="186.3" stroke="#222" stroke-width="1.6"/>
<line x1="566.3" y1="186.3" x2="566.3" y2="189.3" stroke="#222" stroke-width="1.2"/>
<text x="566.3" y="198.5" font-size="12" text-anchor="middle" fill="#333">M</text>
<line x1="593.6" y1="186.3" x2="593.6" y2="189.3" stroke="#222" stroke-width="1.2"/>
<text x="593.6" y="198.5" font-size="12" text-anchor="middle" fill="#333">24</text>
<line x1="620.5" y1="186.3" x2="620.5" y2="189.3" stroke="#222" stroke-width="1.2"/>
<text x="620.5" y="198.5" font-size="12" text-anchor="middle" fill="#333">48</text>
<line x1="647.7" y1="186.3" x2="647.7" y2="189.3" stroke="#222" stroke-width="1.2"/>
<text x="647.7" y="198.5" font-size="12" text-anchor="middle" fill="#333">72</text>
<text x="560.5" y="102.4" font-size="17.5" text-anchor="middle" fill="#1a9a1a">***</text>
<text x="587.9" y="82.6" font-size="17.5" text-anchor="middle" fill="#1a9a1a">***</text>
<text x="615.0" y="102.4" font-size="17.5" text-anchor="middle" fill="#1a9a1a">**</text>
<text x="642.0" y="116.7" font-size="17.5" text-anchor="middle" fill="#1a9a1a">***</text>
<text transform="translate(526.3,110) rotate(-90)" font-size="14.2" text-anchor="middle" fill="#333">Endogenous LC3 Intensity</text>
<rect x="671.5" y="98.4" width="10.8" height="10.8" fill="#9aabab" stroke="#222" stroke-width="1"/>
<rect x="671.5" y="179" width="10.8" height="9.7" fill="#4a4a62" stroke="#222" stroke-width="1"/>
<text transform="translate(681,52.3) rotate(-90)" font-size="11.1" text-anchor="middle" fill="#222">LC3-Mito Contact</text>
<text transform="translate(681,148) rotate(-90)" font-size="11" text-anchor="middle" fill="#222">No Contact</text>
<text x="2.9" y="227.3" font-size="22.4" text-anchor="start" fill="#000" font-weight="bold">C</text>
<text x="212" y="234.5" font-size="16.5" text-anchor="middle" fill="#000" font-weight="bold">mtKeima Mitophagy</text>
<rect x="20" y="238.2" width="94" height="93.8" fill="#000"/>
<rect x="116.8" y="238.2" width="94" height="93.8" fill="#000"/>
<rect x="213.5" y="238.2" width="94" height="93.8" fill="#000"/>
<rect x="310" y="238.2" width="94" height="93.8" fill="#000"/>
<rect x="20" y="333.8" width="94" height="93.7" fill="#000"/>
<rect x="116.8" y="333.8" width="94" height="93.7" fill="#000"/>
<rect x="213.5" y="333.8" width="94" height="93.7" fill="#000"/>
<rect x="310" y="333.8" width="94" height="93.7" fill="#000"/>
<defs><clipPath id="cC00"><rect x="20" y="238.2" width="94" height="93.7"/></clipPath><clipPath id="cC01"><rect x="20" y="333.8" width="94" height="93.7"/></clipPath><clipPath id="cC10"><rect x="116.8" y="238.2" width="94" height="93.7"/></clipPath><clipPath id="cC11"><rect x="116.8" y="333.8" width="94" height="93.7"/></clipPath><clipPath id="cC20"><rect x="213.5" y="238.2" width="94" height="93.7"/></clipPath><clipPath id="cC21"><rect x="213.5" y="333.8" width="94" height="93.7"/></clipPath><clipPath id="cC30"><rect x="310" y="238.2" width="94" height="93.7"/></clipPath><clipPath id="cC31"><rect x="310" y="333.8" width="94" height="93.7"/></clipPath></defs>
<g clip-path="url(#cC00)"><ellipse cx="34.0" cy="288.2" rx="18" ry="9" fill="#0a8a8a" opacity="0.55" transform="rotate(-8 34.0 288.2)" filter="url(#bl5)"/><path d="M15.0,285.2 L50.0,280.2 L80.0,276.2 L116.0,272.2" fill="none" stroke="#0b8080" stroke-width="9" stroke-linecap="round" opacity="0.65" filter="url(#bl3)"/><path d="M50.0,282.2 L80.0,278.2 L112.0,274.2" fill="none" stroke="#10a0a0" stroke-width="4" stroke-linecap="round" opacity="0.5" filter="url(#bl2)"/><path d="M80.0,314.2 L100.0,320.2 L118.0,330.2" fill="none" stroke="#0a8080" stroke-width="12" stroke-linecap="round" opacity="0.7" filter="url(#bl3)"/><path d="M15.0,308.2 L40.0,306.2 L60.0,310.2" fill="none" stroke="#084848" stroke-width="8" stroke-linecap="round" opacity="0.6" filter="url(#bl3)"/><ellipse cx="38.0" cy="290.7" rx="8.4" ry="4.2" fill="#00e6e6" opacity="1" filter="url(#bl1)"/><ellipse cx="23.0" cy="285.2" rx="5" ry="4" fill="#00e6e6" opacity="0.95" filter="url(#bl1)"/><ellipse cx="41.0" cy="271.8" rx="5" ry="3" fill="#00e6e6" opacity="0.6" filter="url(#bl1)"/><ellipse cx="83.0" cy="321.6" rx="9" ry="5" fill="#00e6e6" opacity="1" filter="url(#bl1)"/><ellipse cx="34.0" cy="320.9" rx="3.5" ry="3.5" fill="#00e6e6" opacity="0.8" filter="url(#bl1)"/><ellipse cx="39.0" cy="318.2" rx="2.5" ry="2.5" fill="#00e6e6" opacity="0.7" filter="url(#bl1)"/><ellipse cx="109.5" cy="267.6" rx="3" ry="3" fill="#00e6e6" opacity="0.5" filter="url(#bl1)"/><ellipse cx="88.5" cy="302.7" rx="2.5" ry="3" fill="#00e6e6" opacity="0.45" filter="url(#bl1)"/><ellipse cx="69.0" cy="293.2" rx="2.5" ry="2.5" fill="#00e6e6" opacity="0.4" filter="url(#bl1)"/><ellipse cx="67.0" cy="314.2" rx="2.5" ry="2.5" fill="#00e6e6" opacity="0.4" filter="url(#bl1)"/><ellipse cx="77.0" cy="266.2" rx="2.5" ry="2.5" fill="#00e6e6" opacity="0.35" filter="url(#bl1)"/><ellipse cx="48.0" cy="275.2" rx="2.5" ry="2" fill="#00e6e6" opacity="0.4" filter="url(#bl1)"/><ellipse cx="58.0" cy="274.2" rx="2.5" ry="2" fill="#00e6e6" opacity="0.35" filter="url(#bl1)"/><ellipse cx="84.0" cy="278.2" rx="3" ry="2" fill="#00e6e6" opacity="0.45" filter="url(#bl1)"/><ellipse cx="37.0" cy="306.2" rx="2.5" ry="3" fill="#00e6e6" opacity="0.35" filter="url(#bl1)"/><ellipse cx="50.0" cy="296.2" rx="4" ry="3" fill="#00e6e6" opacity="0.3" filter="url(#bl1)"/><g style="mix-blend-mode:screen"><ellipse cx="70.0" cy="286.2" rx="32" ry="20" fill="#500000" opacity="0.35" transform="rotate(-15 70.0 286.2)" filter="url(#bl5)"/><ellipse cx="109.0" cy="267.6" rx="4.0" ry="3.4" fill="#ff0a0a" opacity="1" filter="url(#bl1)"/><ellipse cx="95.7" cy="267.6" rx="2.5" ry="2.5" fill="#ff0a0a" opacity="0.6" filter="url(#bl1)"/><ellipse cx="76.8" cy="265.5" rx="3.2" ry="3.2" fill="#ff0a0a" opacity="0.6" filter="url(#bl1)"/><ellipse cx="69.0" cy="277.4" rx="3.7" ry="5.5" fill="#ff0a0a" opacity="1" filter="url(#bl1)"/><ellipse cx="78.9" cy="274.6" rx="3.0" ry="3.0" fill="#ff0a0a" opacity="0.9" filter="url(#bl1)"/><ellipse cx="84.5" cy="276.7" rx="3.2" ry="3.2" fill="#ff0a0a" opacity="0.9" filter="url(#bl1)"/><ellipse cx="56.4" cy="273.2" rx="3.7" ry="3.4" fill="#ff0a0a" opacity="0.8" filter="url(#bl1)"/><ellipse cx="52.0" cy="274.6" rx="2.3" ry="2.3" fill="#ff0a0a" opacity="0.7" filter="url(#bl1)"/><ellipse cx="42.4" cy="275.3" rx="2.5" ry="2.5" fill="#ff0a0a" opacity="0.55" filter="url(#bl1)"/><ellipse cx="81.0" cy="288.7" rx="3.0" ry="3.0" fill="#ff0a0a" opacity="0.85" filter="url(#bl1)"/><ellipse cx="70.5" cy="292.9" rx="3.7" ry="3.7" fill="#ff0a0a" opacity="1" filter="url(#bl1)"/><ellipse cx="48.0" cy="294.2" rx="3.0" ry="3.0" fill="#ff0a0a" opacity="0.55" filter="url(#bl1)"/><ellipse cx="57.8" cy="295.7" rx="2.3" ry="2.3" fill="#ff0a0a" opacity="0.45" filter="url(#bl1)"/><ellipse cx="36.8" cy="306.9" rx="4.6" ry="4.6" fill="#ff0a0a" opacity="1" filter="url(#bl1)"/><ellipse cx="89.4" cy="305.5" rx="3.4" ry="5.2" fill="#ff0a0a" opacity="0.75" filter="url(#bl1)"/><ellipse cx="68.4" cy="315.2" rx="3.7" ry="3.7" fill="#ff0a0a" opacity="0.8" filter="url(#bl1)"/><ellipse cx="63.4" cy="320.2" rx="3.0" ry="3.0" fill="#ff0a0a" opacity="0.7" filter="url(#bl1)"/><ellipse cx="83.0" cy="322.2" rx="4.4" ry="4.4" fill="#ff0a0a" opacity="1" filter="url(#bl1)"/><ellipse cx="31.9" cy="322.2" rx="3.0" ry="3.0" fill="#ff0a0a" opacity="0.75" filter="url(#bl1)"/><ellipse cx="94.0" cy="327.7" rx="2.3" ry="2.3" fill="#ff0a0a" opacity="0.45" filter="url(#bl1)"/></g>
<circle cx="69" cy="276.2" r="0.9" fill="#fff"/>
<circle cx="72" cy="279.2" r="0.9" fill="#fff"/>
<circle cx="78.5" cy="274.0" r="0.9" fill="#fff"/>
<circle cx="84" cy="275.4" r="0.9" fill="#fff"/>
<circle cx="80.5" cy="286.7" r="0.9" fill="#fff"/>
<circle cx="70" cy="291.7" r="0.9" fill="#fff"/>
<circle cx="36.5" cy="307.2" r="0.9" fill="#fff"/>
<circle cx="109" cy="267.2" r="0.9" fill="#fff"/>
</g>
<g clip-path="url(#cC10)"><ellipse cx="130.8" cy="288.2" rx="18" ry="9" fill="#0a8a8a" opacity="0.55" transform="rotate(-8 130.8 288.2)" filter="url(#bl5)"/><path d="M111.8,285.2 L146.8,280.2 L176.8,276.2 L212.8,272.2" fill="none" stroke="#0b8080" stroke-width="9" stroke-linecap="round" opacity="0.65" filter="url(#bl3)"/><path d="M146.8,282.2 L176.8,278.2 L208.8,274.2" fill="none" stroke="#10a0a0" stroke-width="4" stroke-linecap="round" opacity="0.5" filter="url(#bl2)"/><path d="M176.8,314.2 L196.8,320.2 L214.8,330.2" fill="none" stroke="#0a8080" stroke-width="12" stroke-linecap="round" opacity="0.7" filter="url(#bl3)"/><path d="M111.8,308.2 L136.8,306.2 L156.8,310.2" fill="none" stroke="#084848" stroke-width="8" stroke-linecap="round" opacity="0.6" filter="url(#bl3)"/><ellipse cx="134.8" cy="290.7" rx="8.4" ry="4.2" fill="#00e6e6" opacity="1" filter="url(#bl1)"/><ellipse cx="119.8" cy="285.2" rx="5" ry="4" fill="#00e6e6" opacity="0.95" filter="url(#bl1)"/><ellipse cx="137.8" cy="271.8" rx="5" ry="3" fill="#00e6e6" opacity="0.6" filter="url(#bl1)"/><ellipse cx="179.8" cy="321.6" rx="9" ry="5" fill="#00e6e6" opacity="1" filter="url(#bl1)"/><ellipse cx="130.8" cy="320.9" rx="3.5" ry="3.5" fill="#00e6e6" opacity="0.8" filter="url(#bl1)"/><ellipse cx="135.8" cy="318.2" rx="2.5" ry="2.5" fill="#00e6e6" opacity="0.7" filter="url(#bl1)"/><ellipse cx="206.3" cy="267.6" rx="3" ry="3" fill="#00e6e6" opacity="0.5" filter="url(#bl1)"/><ellipse cx="185.3" cy="302.7" rx="2.5" ry="3" fill="#00e6e6" opacity="0.45" filter="url(#bl1)"/><ellipse cx="165.8" cy="293.2" rx="2.5" ry="2.5" fill="#00e6e6" opacity="0.4" filter="url(#bl1)"/><ellipse cx="163.8" cy="314.2" rx="2.5" ry="2.5" fill="#00e6e6" opacity="0.4" filter="url(#bl1)"/><ellipse cx="173.8" cy="266.2" rx="2.5" ry="2.5" fill="#00e6e6" opacity="0.35" filter="url(#bl1)"/><ellipse cx="144.8" cy="275.2" rx="2.5" ry="2" fill="#00e6e6" opacity="0.4" filter="url(#bl1)"/><ellipse cx="154.8" cy="274.2" rx="2.5" ry="2" fill="#00e6e6" opacity="0.35" filter="url(#bl1)"/><ellipse cx="180.8" cy="278.2" rx="3" ry="2" fill="#00e6e6" opacity="0.45" filter="url(#bl1)"/><ellipse cx="133.8" cy="306.2" rx="2.5" ry="3" fill="#00e6e6" opacity="0.35" filter="url(#bl1)"/><ellipse cx="146.8" cy="296.2" rx="4" ry="3" fill="#00e6e6" opacity="0.3" filter="url(#bl1)"/></g>
<g clip-path="url(#cC20)"><ellipse cx="263.5" cy="286.2" rx="32" ry="20" fill="#500000" opacity="0.35" transform="rotate(-15 263.5 286.2)" filter="url(#bl5)"/><ellipse cx="302.5" cy="267.6" rx="4.0" ry="3.4" fill="#ff0a0a" opacity="1" filter="url(#bl1)"/><ellipse cx="289.2" cy="267.6" rx="2.5" ry="2.5" fill="#ff0a0a" opacity="0.6" filter="url(#bl1)"/><ellipse cx="270.3" cy="265.5" rx="3.2" ry="3.2" fill="#ff0a0a" opacity="0.6" filter="url(#bl1)"/><ellipse cx="262.5" cy="277.4" rx="3.7" ry="5.5" fill="#ff0a0a" opacity="1" filter="url(#bl1)"/><ellipse cx="272.4" cy="274.6" rx="3.0" ry="3.0" fill="#ff0a0a" opacity="0.9" filter="url(#bl1)"/><ellipse cx="278.0" cy="276.7" rx="3.2" ry="3.2" fill="#ff0a0a" opacity="0.9" filter="url(#bl1)"/><ellipse cx="249.9" cy="273.2" rx="3.7" ry="3.4" fill="#ff0a0a" opacity="0.8" filter="url(#bl1)"/><ellipse cx="245.5" cy="274.6" rx="2.3" ry="2.3" fill="#ff0a0a" opacity="0.7" filter="url(#bl1)"/><ellipse cx="235.9" cy="275.3" rx="2.5" ry="2.5" fill="#ff0a0a" opacity="0.55" filter="url(#bl1)"/><ellipse cx="274.5" cy="288.7" rx="3.0" ry="3.0" fill="#ff0a0a" opacity="0.85" filter="url(#bl1)"/><ellipse cx="264.0" cy="292.9" rx="3.7" ry="3.7" fill="#ff0a0a" opacity="1" filter="url(#bl1)"/><ellipse cx="241.5" cy="294.2" rx="3.0" ry="3.0" fill="#ff0a0a" opacity="0.55" filter="url(#bl1)"/><ellipse cx="251.3" cy="295.7" rx="2.3" ry="2.3" fill="#ff0a0a" opacity="0.45" filter="url(#bl1)"/><ellipse cx="230.3" cy="306.9" rx="4.6" ry="4.6" fill="#ff0a0a" opacity="1" filter="url(#bl1)"/><ellipse cx="282.9" cy="305.5" rx="3.4" ry="5.2" fill="#ff0a0a" opacity="0.75" filter="url(#bl1)"/><ellipse cx="261.9" cy="315.2" rx="3.7" ry="3.7" fill="#ff0a0a" opacity="0.8" filter="url(#bl1)"/><ellipse cx="256.9" cy="320.2" rx="3.0" ry="3.0" fill="#ff0a0a" opacity="0.7" filter="url(#bl1)"/><ellipse cx="276.5" cy="322.2" rx="4.4" ry="4.4" fill="#ff0a0a" opacity="1" filter="url(#bl1)"/><ellipse cx="225.4" cy="322.2" rx="3.0" ry="3.0" fill="#ff0a0a" opacity="0.75" filter="url(#bl1)"/><ellipse cx="287.5" cy="327.7" rx="2.3" ry="2.3" fill="#ff0a0a" opacity="0.45" filter="url(#bl1)"/></g>
<rect x="345.5" y="272.2" width="1.2" height="1.2" fill="#fff"/>
<rect x="358.2" y="273.7" width="1.4" height="1.2" fill="#fff"/>
<rect x="359.2" y="276.8" width="1.2" height="1.4" fill="#fff"/>
<rect x="367" y="272.8" width="2.2" height="1.4" fill="#fff"/>
<rect x="372.6" y="274.59999999999997" width="2.2" height="1.4" fill="#fff"/>
<rect x="370.2" y="285.0" width="1.2" height="1" fill="#fff"/>
<rect x="368.8" y="288.0" width="2.4" height="1.4" fill="#fff"/>
<rect x="360.5" y="291.2" width="1.8" height="1.2" fill="#fff"/>
<rect x="358.5" y="292.2" width="1.2" height="1" fill="#fff"/>
<rect x="324.7" y="306.5" width="2.4" height="2.6" fill="#fff"/>
<rect x="397.4" y="266.2" width="1" height="1" fill="#fff"/>
<path d="M53.9,258.4 L62.7,267.6 L61.1,269.1 L67.3,270.4 L66.3,264.1 L64.8,265.6 L56.1,256.4Z" fill="#fff"/>
<path d="M93.1,250.9 L102.4,260.2 L100.9,261.8 L107.1,262.9 L106.0,256.7 L104.4,258.2 L95.1,248.9Z" fill="#fff"/>
<path d="M107.5,282.1 L96.1,278.8 L96.7,276.7 L90.7,278.7 L94.7,283.6 L95.3,281.6 L106.7,284.9Z" fill="#fff"/>
<path d="M104.7,294.4 L93.3,292.0 L93.7,289.9 L87.9,292.4 L92.3,297.0 L92.7,294.9 L104.1,297.2Z" fill="#fff"/>
<path d="M20.3,290.0 L29.1,299.2 L27.5,300.7 L33.7,302.0 L32.7,295.7 L31.2,297.2 L22.5,288.0Z" fill="#fff"/>
<path d="M150.7,258.4 L159.5,267.6 L157.9,269.1 L164.1,270.4 L163.1,264.1 L161.6,265.6 L152.9,256.4Z" fill="#fff"/>
<path d="M189.9,250.9 L199.2,260.2 L197.7,261.8 L203.9,262.9 L202.8,256.7 L201.2,258.2 L191.9,248.9Z" fill="#fff"/>
<path d="M204.3,282.1 L192.9,278.8 L193.5,276.7 L187.5,278.7 L191.5,283.6 L192.1,281.6 L203.5,284.9Z" fill="#fff"/>
<path d="M201.5,294.4 L190.1,292.0 L190.5,289.9 L184.7,292.4 L189.1,297.0 L189.5,294.9 L200.9,297.2Z" fill="#fff"/>
<path d="M117.1,290.0 L125.9,299.2 L124.3,300.7 L130.5,302.0 L129.5,295.7 L128.0,297.2 L119.3,288.0Z" fill="#fff"/>
<path d="M247.4,258.4 L256.2,267.6 L254.6,269.1 L260.8,270.4 L259.8,264.1 L258.3,265.6 L249.6,256.4Z" fill="#fff"/>
<path d="M286.6,250.9 L295.9,260.2 L294.4,261.8 L300.6,262.9 L299.5,256.7 L297.9,258.2 L288.6,248.9Z" fill="#fff"/>
<path d="M301.0,282.1 L289.6,278.8 L290.2,276.7 L284.2,278.7 L288.2,283.6 L288.8,281.6 L300.2,284.9Z" fill="#fff"/>
<path d="M298.2,294.4 L286.8,292.0 L287.2,289.9 L281.4,292.4 L285.8,297.0 L286.2,294.9 L297.6,297.2Z" fill="#fff"/>
<path d="M213.8,290.0 L222.6,299.2 L221.0,300.7 L227.2,302.0 L226.2,295.7 L224.7,297.2 L216.0,288.0Z" fill="#fff"/>
<path d="M343.9,258.4 L352.7,267.6 L351.1,269.1 L357.3,270.4 L356.3,264.1 L354.8,265.6 L346.1,256.4Z" fill="#fff"/>
<path d="M383.1,250.9 L392.4,260.2 L390.9,261.8 L397.1,262.9 L396.0,256.7 L394.4,258.2 L385.1,248.9Z" fill="#fff"/>
<path d="M397.5,282.1 L386.1,278.8 L386.7,276.7 L380.7,278.7 L384.7,283.6 L385.3,281.6 L396.7,284.9Z" fill="#fff"/>
<path d="M394.7,294.4 L383.3,292.0 L383.7,289.9 L377.9,292.4 L382.3,297.0 L382.7,294.9 L394.1,297.2Z" fill="#fff"/>
<path d="M310.3,290.0 L319.1,299.2 L317.5,300.7 L323.7,302.0 L322.7,295.7 L321.2,297.2 L312.5,288.0Z" fill="#fff"/>
<g clip-path="url(#cC01)"><path d="M18.0,401.8 L40.0,391.8 L68.0,379.3 L90.0,368.8" fill="none" stroke="#0a8a8a" stroke-width="3.2" stroke-linecap="round" opacity="0.7" filter="url(#bl1)"/><path d="M25.0,403.8 L50.0,388.8 L80.0,375.8 L112.0,363.8" fill="none" stroke="#064848" stroke-width="16" stroke-linecap="round" opacity="0.5" filter="url(#bl5)"/><ellipse cx="37.4" cy="344.9" rx="3.5" ry="3.5" fill="#00e6e6" opacity="0.8" filter="url(#bl1)"/><ellipse cx="48.0" cy="356.1" rx="3.8" ry="6.5" fill="#00e6e6" opacity="1" transform="rotate(20 48.0 356.1)" filter="url(#bl1)"/><ellipse cx="48.0" cy="356.1" rx="2.5" ry="4.5" fill="#00e6e6" opacity="1" transform="rotate(20 48.0 356.1)" filter="url(#bl1)"/><ellipse cx="75.3" cy="340.0" rx="2.8" ry="2.8" fill="#00e6e6" opacity="0.6" filter="url(#bl1)"/><ellipse cx="81.6" cy="339.3" rx="2.4" ry="2.4" fill="#00e6e6" opacity="0.55" filter="url(#bl1)"/><ellipse cx="101.9" cy="335.8" rx="2.6" ry="2.6" fill="#00e6e6" opacity="0.8" filter="url(#bl1)"/><ellipse cx="103.0" cy="345.8" rx="3" ry="3" fill="#00e6e6" opacity="0.35" filter="url(#bl1)"/><ellipse cx="91.0" cy="357.8" rx="2.5" ry="2.5" fill="#00e6e6" opacity="0.35" filter="url(#bl1)"/><ellipse cx="102.6" cy="361.7" rx="4.2" ry="5.8" fill="#00e6e6" opacity="1" filter="url(#bl1)"/><ellipse cx="80.2" cy="370.8" rx="5.2" ry="3" fill="#00e6e6" opacity="1" transform="rotate(-40 80.2 370.8)" filter="url(#bl1)"/><ellipse cx="99.0" cy="372.9" rx="3.8" ry="3.8" fill="#00e6e6" opacity="1" filter="url(#bl1)"/><ellipse cx="108.9" cy="373.6" rx="5" ry="3.2" fill="#00e6e6" opacity="1" filter="url(#bl1)"/><ellipse cx="104.0" cy="371.8" rx="3" ry="2.5" fill="#00e6e6" opacity="1" filter="url(#bl1)"/><ellipse cx="111.0" cy="381.8" rx="3" ry="3" fill="#00e6e6" opacity="0.4" filter="url(#bl1)"/><ellipse cx="45.8" cy="385.6" rx="3" ry="3" fill="#00e6e6" opacity="0.6" filter="url(#bl1)"/><ellipse cx="56.3" cy="395.4" rx="3" ry="3" fill="#00e6e6" opacity="0.6" filter="url(#bl1)"/><ellipse cx="65.0" cy="389.8" rx="2.5" ry="2.5" fill="#00e6e6" opacity="0.35" filter="url(#bl1)"/><ellipse cx="93.5" cy="397.5" rx="2.2" ry="4.8" fill="#00e6e6" opacity="0.7" transform="rotate(30 93.5 397.5)" filter="url(#bl1)"/><ellipse cx="78.1" cy="403.1" rx="2.6" ry="2.6" fill="#00e6e6" opacity="0.6" filter="url(#bl1)"/><ellipse cx="67.0" cy="367.8" rx="2.5" ry="2.5" fill="#00e6e6" opacity="0.3" filter="url(#bl1)"/><g style="mix-blend-mode:screen"><path d="M18.0,400.8 L35.0,393.8 L55.0,385.1" fill="none" stroke="#c00000" stroke-width="2.2" stroke-linecap="round" opacity="0.8" filter="url(#bl05)"/><ellipse cx="46.7" cy="354.1" rx="4.8" ry="8" fill="#ff0a0a" opacity="1" transform="rotate(30 46.7 354.1)" filter="url(#bl05)"/><ellipse cx="35.4" cy="344.3" rx="3.2" ry="3" fill="#ff0a0a" opacity="0.75" filter="url(#bl05)"/><ellipse cx="73.4" cy="338.1" rx="2.8" ry="2.8" fill="#ff0a0a" opacity="0.8" filter="url(#bl05)"/><ellipse cx="81.9" cy="338.1" rx="2.8" ry="2.8" fill="#ff0a0a" opacity="0.8" filter="url(#bl05)"/><ellipse cx="103.0" cy="335.8" rx="3.2" ry="3" fill="#ff0a0a" opacity="0.8" filter="url(#bl05)"/><ellipse cx="102.0" cy="343.8" rx="2.5" ry="2.5" fill="#ff0a0a" opacity="0.4" filter="url(#bl05)"/><ellipse cx="80.5" cy="369.6" rx="3" ry="5.2" fill="#ff0a0a" opacity="1" transform="rotate(35 80.5 369.6)" filter="url(#bl05)"/><ellipse cx="58.0" cy="383.7" rx="2.8" ry="2.8" fill="#ff0a0a" opacity="0.6" filter="url(#bl05)"/><ellipse cx="43.9" cy="387.9" rx="2.6" ry="2.6" fill="#ff0a0a" opacity="0.6" filter="url(#bl05)"/><ellipse cx="59.4" cy="392.2" rx="2.6" ry="2.6" fill="#ff0a0a" opacity="0.8" filter="url(#bl05)"/><ellipse cx="55.1" cy="395.0" rx="2.2" ry="2.2" fill="#ff0a0a" opacity="0.7" filter="url(#bl05)"/><ellipse cx="76.3" cy="396.4" rx="2.6" ry="2.6" fill="#ff0a0a" opacity="0.4" filter="url(#bl05)"/><ellipse cx="93.2" cy="397.8" rx="3" ry="3" fill="#ff0a0a" opacity="0.85" filter="url(#bl05)"/><ellipse cx="103.0" cy="395.0" rx="2" ry="2" fill="#ff0a0a" opacity="0.6" filter="url(#bl05)"/><ellipse cx="29.8" cy="404.8" rx="2.2" ry="2.2" fill="#ff0a0a" opacity="0.6" filter="url(#bl05)"/><ellipse cx="32.0" cy="416.7" rx="2.8" ry="2.8" fill="#ff0a0a" opacity="0.8" filter="url(#bl05)"/><path d="M92.0,361.8 C93.0,359.6 96.3,357.5 98.0,357.8 C99.7,358.1 100.3,362.6 102.0,363.8 C103.7,365.0 105.8,364.3 108.0,364.8 C110.2,365.3 113.7,364.6 115.0,366.8 C116.3,369.0 116.5,375.1 116.0,377.8 C115.5,380.5 113.3,383.0 112.0,382.8 C110.7,382.6 109.7,377.5 108.0,376.8 C106.3,376.1 104.2,378.8 102.0,378.8 C99.8,378.8 96.7,378.1 95.0,376.8 C93.3,375.5 92.5,373.3 92.0,370.8 C91.5,368.3 91.0,364.0 92.0,361.8Z" fill="#ff0a0a" filter="url(#bl05)"/></g>
<ellipse cx="46.7" cy="354.8" rx="2" ry="4.5" fill="#ffd8d8" opacity="0.9" transform="rotate(30 46.7 354.8)" filter="url(#bl05)"/>
<ellipse cx="102.0" cy="370.8" rx="4" ry="3" fill="#ffd8d8" opacity="0.9" filter="url(#bl05)"/>
<ellipse cx="106.0" cy="363.8" rx="2" ry="3" fill="#ffd8d8" opacity="0.9" filter="url(#bl05)"/>
<ellipse cx="80.5" cy="369.8" rx="1.5" ry="3" fill="#ffd8d8" opacity="0.9" transform="rotate(35 80.5 369.8)" filter="url(#bl05)"/>
<ellipse cx="97.0" cy="397.3" rx="1.5" ry="1.5" fill="#ffd8d8" opacity="0.9" filter="url(#bl05)"/>
</g>
<g clip-path="url(#cC11)"><path d="M114.8,401.8 L136.8,391.8 L164.8,379.3 L186.8,368.8" fill="none" stroke="#0a8a8a" stroke-width="3.2" stroke-linecap="round" opacity="0.7" filter="url(#bl1)"/><path d="M121.8,403.8 L146.8,388.8 L176.8,375.8 L208.8,363.8" fill="none" stroke="#064848" stroke-width="16" stroke-linecap="round" opacity="0.5" filter="url(#bl5)"/><ellipse cx="134.2" cy="344.9" rx="3.5" ry="3.5" fill="#00e6e6" opacity="0.8" filter="url(#bl1)"/><ellipse cx="144.8" cy="356.1" rx="3.8" ry="6.5" fill="#00e6e6" opacity="1" transform="rotate(20 144.8 356.1)" filter="url(#bl1)"/><ellipse cx="144.8" cy="356.1" rx="2.5" ry="4.5" fill="#00e6e6" opacity="1" transform="rotate(20 144.8 356.1)" filter="url(#bl1)"/><ellipse cx="172.1" cy="340.0" rx="2.8" ry="2.8" fill="#00e6e6" opacity="0.6" filter="url(#bl1)"/><ellipse cx="178.4" cy="339.3" rx="2.4" ry="2.4" fill="#00e6e6" opacity="0.55" filter="url(#bl1)"/><ellipse cx="198.7" cy="335.8" rx="2.6" ry="2.6" fill="#00e6e6" opacity="0.8" filter="url(#bl1)"/><ellipse cx="199.8" cy="345.8" rx="3" ry="3" fill="#00e6e6" opacity="0.35" filter="url(#bl1)"/><ellipse cx="187.8" cy="357.8" rx="2.5" ry="2.5" fill="#00e6e6" opacity="0.35" filter="url(#bl1)"/><ellipse cx="199.4" cy="361.7" rx="4.2" ry="5.8" fill="#00e6e6" opacity="1" filter="url(#bl1)"/><ellipse cx="177.0" cy="370.8" rx="5.2" ry="3" fill="#00e6e6" opacity="1" transform="rotate(-40 177.0 370.8)" filter="url(#bl1)"/><ellipse cx="195.8" cy="372.9" rx="3.8" ry="3.8" fill="#00e6e6" opacity="1" filter="url(#bl1)"/><ellipse cx="205.7" cy="373.6" rx="5" ry="3.2" fill="#00e6e6" opacity="1" filter="url(#bl1)"/><ellipse cx="200.8" cy="371.8" rx="3" ry="2.5" fill="#00e6e6" opacity="1" filter="url(#bl1)"/><ellipse cx="207.8" cy="381.8" rx="3" ry="3" fill="#00e6e6" opacity="0.4" filter="url(#bl1)"/><ellipse cx="142.6" cy="385.6" rx="3" ry="3" fill="#00e6e6" opacity="0.6" filter="url(#bl1)"/><ellipse cx="153.1" cy="395.4" rx="3" ry="3" fill="#00e6e6" opacity="0.6" filter="url(#bl1)"/><ellipse cx="161.8" cy="389.8" rx="2.5" ry="2.5" fill="#00e6e6" opacity="0.35" filter="url(#bl1)"/><ellipse cx="190.3" cy="397.5" rx="2.2" ry="4.8" fill="#00e6e6" opacity="0.7" transform="rotate(30 190.3 397.5)" filter="url(#bl1)"/><ellipse cx="174.9" cy="403.1" rx="2.6" ry="2.6" fill="#00e6e6" opacity="0.6" filter="url(#bl1)"/><ellipse cx="163.8" cy="367.8" rx="2.5" ry="2.5" fill="#00e6e6" opacity="0.3" filter="url(#bl1)"/></g>
<g clip-path="url(#cC21)"><path d="M211.5,400.8 L228.5,393.8 L248.5,385.1" fill="none" stroke="#c00000" stroke-width="2.2" stroke-linecap="round" opacity="0.8" filter="url(#bl05)"/><ellipse cx="240.2" cy="354.1" rx="4.8" ry="8" fill="#ff0a0a" opacity="1" transform="rotate(30 240.2 354.1)" filter="url(#bl05)"/><ellipse cx="228.9" cy="344.3" rx="3.2" ry="3" fill="#ff0a0a" opacity="0.75" filter="url(#bl05)"/><ellipse cx="266.9" cy="338.1" rx="2.8" ry="2.8" fill="#ff0a0a" opacity="0.8" filter="url(#bl05)"/><ellipse cx="275.4" cy="338.1" rx="2.8" ry="2.8" fill="#ff0a0a" opacity="0.8" filter="url(#bl05)"/><ellipse cx="296.5" cy="335.8" rx="3.2" ry="3" fill="#ff0a0a" opacity="0.8" filter="url(#bl05)"/><ellipse cx="295.5" cy="343.8" rx="2.5" ry="2.5" fill="#ff0a0a" opacity="0.4" filter="url(#bl05)"/><ellipse cx="274.0" cy="369.6" rx="3" ry="5.2" fill="#ff0a0a" opacity="1" transform="rotate(35 274.0 369.6)" filter="url(#bl05)"/><ellipse cx="251.5" cy="383.7" rx="2.8" ry="2.8" fill="#ff0a0a" opacity="0.6" filter="url(#bl05)"/><ellipse cx="237.4" cy="387.9" rx="2.6" ry="2.6" fill="#ff0a0a" opacity="0.6" filter="url(#bl05)"/><ellipse cx="252.9" cy="392.2" rx="2.6" ry="2.6" fill="#ff0a0a" opacity="0.8" filter="url(#bl05)"/><ellipse cx="248.6" cy="395.0" rx="2.2" ry="2.2" fill="#ff0a0a" opacity="0.7" filter="url(#bl05)"/><ellipse cx="269.8" cy="396.4" rx="2.6" ry="2.6" fill="#ff0a0a" opacity="0.4" filter="url(#bl05)"/><ellipse cx="286.7" cy="397.8" rx="3" ry="3" fill="#ff0a0a" opacity="0.85" filter="url(#bl05)"/><ellipse cx="296.5" cy="395.0" rx="2" ry="2" fill="#ff0a0a" opacity="0.6" filter="url(#bl05)"/><ellipse cx="223.3" cy="404.8" rx="2.2" ry="2.2" fill="#ff0a0a" opacity="0.6" filter="url(#bl05)"/><ellipse cx="225.5" cy="416.7" rx="2.8" ry="2.8" fill="#ff0a0a" opacity="0.8" filter="url(#bl05)"/><path d="M285.5,361.8 C286.5,359.6 289.8,357.5 291.5,357.8 C293.2,358.1 293.8,362.6 295.5,363.8 C297.2,365.0 299.3,364.3 301.5,364.8 C303.7,365.3 307.2,364.6 308.5,366.8 C309.8,369.0 310.0,375.1 309.5,377.8 C309.0,380.5 306.8,383.0 305.5,382.8 C304.2,382.6 303.2,377.5 301.5,376.8 C299.8,376.1 297.7,378.8 295.5,378.8 C293.3,378.8 290.2,378.1 288.5,376.8 C286.8,375.5 286.0,373.3 285.5,370.8 C285.0,368.3 284.5,364.0 285.5,361.8Z" fill="#ff0a0a" filter="url(#bl05)"/></g>
<rect x="27" y="403.8" width="3" height="3" fill="#f07878"/>
<circle cx="31.8" cy="417.0" r="3.4" fill="#f07878"/>
<rect x="317" y="404.0" width="2.8" height="2.8" fill="#8a8a8a"/>
<circle cx="322.5" cy="416.8" r="3.5" fill="#8a8a8a"/>
<path d="M392.2,397.8 l1,-1.8 l1,1.8z" fill="#777"/>
<path d="M54.7,405.0 L42.1,404.5 L42.1,402.3 L36.8,405.7 L41.9,409.5 L41.9,407.4 L54.5,407.8Z" fill="#fff"/>
<path d="M59.2,417.3 L46.7,416.8 L46.7,414.6 L41.4,418.0 L46.5,421.8 L46.5,419.7 L59.0,420.1Z" fill="#fff"/>
<path d="M151.5,405.0 L138.9,404.5 L138.9,402.3 L133.6,405.7 L138.7,409.5 L138.7,407.4 L151.3,407.8Z" fill="#fff"/>
<path d="M156.0,417.3 L143.5,416.8 L143.5,414.6 L138.2,418.0 L143.3,421.8 L143.3,419.7 L155.8,420.1Z" fill="#fff"/>
<path d="M248.2,405.0 L235.6,404.5 L235.6,402.3 L230.3,405.7 L235.4,409.5 L235.4,407.4 L248.0,407.8Z" fill="#fff"/>
<path d="M252.7,417.3 L240.2,416.8 L240.2,414.6 L234.9,418.0 L240.0,421.8 L240.0,419.7 L252.5,420.1Z" fill="#fff"/>
<path d="M344.7,405.0 L332.1,404.5 L332.1,402.3 L326.8,405.7 L331.9,409.5 L331.9,407.4 L344.5,407.8Z" fill="#fff"/>
<path d="M349.2,417.3 L336.7,416.8 L336.7,414.6 L331.4,418.0 L336.5,421.8 L336.5,419.7 L349.0,420.1Z" fill="#fff"/>
<text x="22.5" y="251.3" font-size="12.8" text-anchor="start" fill="#fff">Mock</text>
<text x="22.5" y="347" font-size="12.8" text-anchor="start" fill="#fff">72 hpi</text>
<rect x="20" y="430" width="384" height="25.7" fill="#000"/>
<text x="212" y="441" font-size="9.05" font-weight="bold" text-anchor="middle" fill="#fff"><tspan fill="#9cc4ea">Mito - Neutral pH.</tspan>(mtKeima, ex 405nm), <tspan fill="#e01010">Mito - Acidic pH </tspan>:(mtKeima, ex 565nm),</text>
<text x="213.5" y="451.5" font-size="9" font-weight="bold" text-anchor="middle" fill="#fff">Mitophagy (mtKeima 565nm/405nm ratio)</text>
<text x="419.3" y="227.6" font-size="22.4" text-anchor="start" fill="#000" font-weight="bold">D</text>
<text x="531.2" y="250.3" font-size="16.7" text-anchor="middle" fill="#222">Mitophagy</text>
<text x="531.2" y="267.3" font-size="16.7" text-anchor="middle" fill="#222">(mtKeima)</text>
<line x1="484.8" y1="274.5" x2="484.8" y2="429.90000000000003" stroke="#222" stroke-width="1.6"/>
<line x1="484" y1="429.1" x2="578.7" y2="429.1" stroke="#222" stroke-width="1.6"/>
<line x1="481.8" y1="429.1" x2="484.8" y2="429.1" stroke="#222" stroke-width="1.2"/>
<text x="480.6" y="433.3" font-size="11.3" text-anchor="end" fill="#333">0.0</text>
<line x1="481.8" y1="398.3" x2="484.8" y2="398.3" stroke="#222" stroke-width="1.2"/>
<text x="480.6" y="402.5" font-size="11.3" text-anchor="end" fill="#333">0.2</text>
<line x1="481.8" y1="367.5" x2="484.8" y2="367.5" stroke="#222" stroke-width="1.2"/>
<text x="480.6" y="371.7" font-size="11.3" text-anchor="end" fill="#333">0.4</text>
<line x1="481.8" y1="336.7" x2="484.8" y2="336.7" stroke="#222" stroke-width="1.2"/>
<text x="480.6" y="340.9" font-size="11.3" text-anchor="end" fill="#333">0.6</text>
<line x1="481.8" y1="305.9" x2="484.8" y2="305.9" stroke="#222" stroke-width="1.2"/>
<text x="480.6" y="310.1" font-size="11.3" text-anchor="end" fill="#333">0.8</text>
<line x1="481.8" y1="275.1" x2="484.8" y2="275.1" stroke="#222" stroke-width="1.2"/>
<text x="480.6" y="279.3" font-size="11.3" text-anchor="end" fill="#333">1.0</text>
<line x1="496.2" y1="429.1" x2="496.2" y2="432.1" stroke="#222" stroke-width="1.2"/>
<text x="496.2" y="442.5" font-size="12" text-anchor="middle" fill="#333">M</text>
<line x1="519.8" y1="429.1" x2="519.8" y2="432.1" stroke="#222" stroke-width="1.2"/>
<text x="519.8" y="442.5" font-size="12" text-anchor="middle" fill="#333">24</text>
<line x1="542.8" y1="429.1" x2="542.8" y2="432.1" stroke="#222" stroke-width="1.2"/>
<text x="542.8" y="442.5" font-size="12" text-anchor="middle" fill="#333">48</text>
<line x1="566.3" y1="429.1" x2="566.3" y2="432.1" stroke="#222" stroke-width="1.2"/>
<text x="566.3" y="442.5" font-size="12" text-anchor="middle" fill="#333">72</text>
<text transform="translate(448,352) rotate(-90)" font-size="13.35" text-anchor="middle" fill="#333">Median 565nm/405nm ratio</text>
<text transform="translate(461.3,352) rotate(-90)" font-size="13.35" text-anchor="middle" fill="#333">per mitochondria</text>
<path d="M496.6,274.6 C496.8,275.0 497.0,276.1 497.2,277.0 C497.4,277.9 497.4,279.0 497.5,280.0 C497.6,281.0 497.6,282.0 498.0,283.0 C498.4,284.0 499.0,285.0 499.7,286.0 C500.4,287.0 501.4,288.0 502.2,289.0 C502.9,290.0 503.6,290.8 504.2,292.0 C504.8,293.2 505.2,294.7 505.5,296.0 C505.8,297.3 505.9,298.8 505.8,300.0 C505.7,301.2 505.4,301.9 505.0,303.0 C504.6,304.1 503.7,305.3 503.5,306.5 C503.3,307.7 503.8,308.8 504.0,310.0 C504.2,311.2 504.8,311.6 505.0,314.0 C505.2,316.4 505.2,319.9 505.2,324.7 C505.1,329.5 505.0,337.5 504.7,343.0 C504.4,348.5 503.8,353.4 503.2,357.6 C502.6,361.9 501.9,365.1 501.2,368.5 C500.4,371.9 499.5,375.3 498.7,377.7 C497.9,380.1 497.1,382.2 496.6,383.1 C496.1,384.0 496.3,384.0 495.8,383.1 C495.3,382.2 494.5,380.1 493.7,377.7 C492.9,375.3 491.9,371.9 491.2,368.5 C490.4,365.1 489.8,361.9 489.2,357.6 C488.6,353.4 488.0,348.5 487.7,343.0 C487.4,337.5 487.2,329.5 487.2,324.7 C487.1,319.9 487.2,316.4 487.4,314.0 C487.6,311.6 488.1,311.2 488.4,310.0 C488.6,308.8 489.1,307.7 488.9,306.5 C488.7,305.3 487.8,304.1 487.4,303.0 C487.0,301.9 486.7,301.2 486.6,300.0 C486.5,298.8 486.6,297.3 486.9,296.0 C487.2,294.7 487.6,293.2 488.2,292.0 C488.8,290.8 489.4,290.0 490.2,289.0 C490.9,288.0 492.0,287.0 492.7,286.0 C493.4,285.0 494.0,284.0 494.4,283.0 C494.8,282.0 494.8,281.0 494.9,280.0 C495.0,279.0 495.0,277.9 495.2,277.0 C495.4,276.1 495.6,275.0 495.8,274.6 C496.0,274.2 496.4,274.2 496.6,274.6Z" fill="#2c2c40" stroke="#1c1c1c" stroke-width="1.2"/>
<circle cx="495.6" cy="351.8" r="0.75" fill="#a8a8a8" fill-opacity="0.8"/><circle cx="499.8" cy="292.4" r="0.75" fill="#a8a8a8" fill-opacity="0.8"/><circle cx="499.6" cy="342.6" r="0.75" fill="#a8a8a8" fill-opacity="0.8"/><circle cx="494.2" cy="371.9" r="0.75" fill="#a8a8a8" fill-opacity="0.8"/><circle cx="492.6" cy="339.7" r="0.75" fill="#a8a8a8" fill-opacity="0.8"/><circle cx="496.3" cy="362.0" r="0.75" fill="#a8a8a8" fill-opacity="0.8"/><circle cx="494.9" cy="369.4" r="0.75" fill="#a8a8a8" fill-opacity="0.8"/><circle cx="498.7" cy="322.5" r="0.75" fill="#a8a8a8" fill-opacity="0.8"/><circle cx="493.7" cy="362.6" r="0.75" fill="#a8a8a8" fill-opacity="0.8"/><circle cx="493.9" cy="354.6" r="0.75" fill="#a8a8a8" fill-opacity="0.8"/><circle cx="492.3" cy="297.6" r="0.75" fill="#a8a8a8" fill-opacity="0.8"/><circle cx="500.4" cy="296.4" r="0.75" fill="#a8a8a8" fill-opacity="0.8"/><circle cx="499.9" cy="348.5" r="0.75" fill="#a8a8a8" fill-opacity="0.8"/><circle cx="496.6" cy="353.3" r="0.75" fill="#a8a8a8" fill-opacity="0.8"/><circle cx="503.3" cy="298.9" r="0.75" fill="#a8a8a8" fill-opacity="0.8"/><circle cx="495.6" cy="302.2" r="0.75" fill="#a8a8a8" fill-opacity="0.8"/><circle cx="501.8" cy="318.6" r="0.75" fill="#a8a8a8" fill-opacity="0.8"/><circle cx="500.3" cy="319.6" r="0.75" fill="#a8a8a8" fill-opacity="0.8"/><circle cx="496.1" cy="302.0" r="0.75" fill="#a8a8a8" fill-opacity="0.8"/><circle cx="492.5" cy="358.2" r="0.75" fill="#a8a8a8" fill-opacity="0.8"/><circle cx="498.0" cy="376.0" r="0.75" fill="#a8a8a8" fill-opacity="0.8"/><circle cx="496.7" cy="341.5" r="0.75" fill="#a8a8a8" fill-opacity="0.8"/><circle cx="495.3" cy="343.1" r="0.75" fill="#a8a8a8" fill-opacity="0.8"/><circle cx="497.7" cy="365.0" r="0.75" fill="#a8a8a8" fill-opacity="0.8"/><circle cx="495.7" cy="301.2" r="0.75" fill="#a8a8a8" fill-opacity="0.8"/><circle cx="499.2" cy="353.4" r="0.75" fill="#a8a8a8" fill-opacity="0.8"/><circle cx="498.8" cy="316.6" r="0.75" fill="#a8a8a8" fill-opacity="0.8"/><circle cx="501.9" cy="318.3" r="0.75" fill="#a8a8a8" fill-opacity="0.8"/><circle cx="499.3" cy="369.5" r="0.75" fill="#a8a8a8" fill-opacity="0.8"/><circle cx="496.9" cy="376.0" r="0.75" fill="#a8a8a8" fill-opacity="0.8"/><circle cx="495.7" cy="284.2" r="0.75" fill="#a8a8a8" fill-opacity="0.8"/><circle cx="490.5" cy="314.9" r="0.75" fill="#a8a8a8" fill-opacity="0.8"/><circle cx="494.5" cy="347.7" r="0.75" fill="#a8a8a8" fill-opacity="0.8"/><circle cx="498.8" cy="296.6" r="0.75" fill="#a8a8a8" fill-opacity="0.8"/><circle cx="495.7" cy="325.1" r="0.75" fill="#a8a8a8" fill-opacity="0.8"/><circle cx="499.1" cy="298.8" r="0.75" fill="#a8a8a8" fill-opacity="0.8"/><circle cx="492.0" cy="365.1" r="0.75" fill="#a8a8a8" fill-opacity="0.8"/><circle cx="495.8" cy="370.0" r="0.75" fill="#a8a8a8" fill-opacity="0.8"/><circle cx="498.3" cy="375.0" r="0.75" fill="#a8a8a8" fill-opacity="0.8"/><circle cx="498.6" cy="331.2" r="0.75" fill="#a8a8a8" fill-opacity="0.8"/><circle cx="497.1" cy="285.3" r="0.75" fill="#a8a8a8" fill-opacity="0.8"/><circle cx="497.0" cy="368.9" r="0.75" fill="#a8a8a8" fill-opacity="0.8"/><circle cx="491.8" cy="337.3" r="0.75" fill="#a8a8a8" fill-opacity="0.8"/><circle cx="498.0" cy="286.3" r="0.75" fill="#a8a8a8" fill-opacity="0.8"/><circle cx="500.7" cy="341.2" r="0.75" fill="#a8a8a8" fill-opacity="0.8"/><circle cx="496.2" cy="283.6" r="0.75" fill="#a8a8a8" fill-opacity="0.8"/><circle cx="491.8" cy="340.8" r="0.75" fill="#a8a8a8" fill-opacity="0.8"/><circle cx="493.0" cy="348.6" r="0.75" fill="#a8a8a8" fill-opacity="0.8"/><circle cx="491.2" cy="299.7" r="0.75" fill="#a8a8a8" fill-opacity="0.8"/><circle cx="498.4" cy="345.6" r="0.75" fill="#a8a8a8" fill-opacity="0.8"/><circle cx="501.8" cy="318.3" r="0.75" fill="#a8a8a8" fill-opacity="0.8"/><circle cx="491.2" cy="290.2" r="0.75" fill="#a8a8a8" fill-opacity="0.8"/><circle cx="500.0" cy="306.8" r="0.75" fill="#a8a8a8" fill-opacity="0.8"/><circle cx="496.5" cy="377.4" r="0.75" fill="#a8a8a8" fill-opacity="0.8"/><circle cx="494.0" cy="357.5" r="0.75" fill="#a8a8a8" fill-opacity="0.8"/>
<line x1="489.2" y1="307.4" x2="503.2" y2="307.4" stroke="#1c1c1c" stroke-width="1.2" stroke-dasharray="3,2.5"/>
<line x1="487.7" y1="328.0" x2="504.7" y2="328.0" stroke="#1c1c1c" stroke-width="1.2" stroke-dasharray="5,3"/>
<line x1="488.6" y1="347.6" x2="503.8" y2="347.6" stroke="#1c1c1c" stroke-width="1.2" stroke-dasharray="3,2.5"/>
<path d="M520.0,276.2 C520.3,276.7 520.5,278.0 520.8,279.0 C521.2,280.0 521.7,281.0 522.1,282.0 C522.5,283.0 522.9,283.8 523.4,285.0 C523.9,286.2 524.5,287.5 524.9,289.0 C525.3,290.5 525.8,292.5 525.9,294.0 C526.0,295.5 525.6,296.8 525.2,298.0 C524.9,299.2 524.2,300.0 523.8,301.4 C523.4,302.8 523.1,304.1 523.0,306.5 C522.9,308.9 523.2,311.7 523.4,315.6 C523.6,319.6 523.6,325.6 524.1,330.2 C524.6,334.8 525.9,338.7 526.6,343.0 C527.4,347.3 528.4,352.2 528.6,355.8 C528.8,359.4 527.9,361.6 527.6,364.9 C527.3,368.2 527.2,371.9 526.6,375.8 C526.0,379.8 525.0,384.3 524.1,388.6 C523.2,392.9 521.8,398.3 521.1,401.4 C520.4,404.4 520.3,406.0 520.0,406.9 C519.7,407.8 519.5,407.8 519.2,406.9 C518.9,406.0 518.8,404.4 518.1,401.4 C517.4,398.3 516.0,392.9 515.1,388.6 C514.2,384.3 513.2,379.8 512.6,375.8 C512.0,371.9 511.9,368.2 511.6,364.9 C511.3,361.6 510.4,359.4 510.6,355.8 C510.8,352.2 511.9,347.3 512.6,343.0 C513.4,338.7 514.6,334.8 515.1,330.2 C515.6,325.6 515.6,319.6 515.8,315.6 C516.0,311.7 516.3,308.9 516.2,306.5 C516.1,304.1 515.8,302.8 515.4,301.4 C515.0,300.0 514.4,299.2 514.0,298.0 C513.6,296.8 513.2,295.5 513.3,294.0 C513.4,292.5 513.9,290.5 514.3,289.0 C514.7,287.5 515.3,286.2 515.8,285.0 C516.3,283.8 516.7,283.0 517.1,282.0 C517.5,281.0 518.0,280.0 518.4,279.0 C518.8,278.0 518.9,276.7 519.2,276.2 C519.5,275.7 519.7,275.7 520.0,276.2Z" fill="#5e6080" stroke="#1c1c1c" stroke-width="1.2"/>
<circle cx="513.4" cy="354.4" r="0.75" fill="#a8a8a8" fill-opacity="0.8"/><circle cx="517.3" cy="321.7" r="0.75" fill="#a8a8a8" fill-opacity="0.8"/><circle cx="519.8" cy="398.1" r="0.75" fill="#a8a8a8" fill-opacity="0.8"/><circle cx="521.1" cy="354.7" r="0.75" fill="#a8a8a8" fill-opacity="0.8"/><circle cx="515.0" cy="360.1" r="0.75" fill="#a8a8a8" fill-opacity="0.8"/><circle cx="523.4" cy="371.1" r="0.75" fill="#a8a8a8" fill-opacity="0.8"/><circle cx="521.7" cy="284.5" r="0.75" fill="#a8a8a8" fill-opacity="0.8"/><circle cx="518.2" cy="331.4" r="0.75" fill="#a8a8a8" fill-opacity="0.8"/><circle cx="522.0" cy="349.7" r="0.75" fill="#a8a8a8" fill-opacity="0.8"/><circle cx="517.5" cy="393.3" r="0.75" fill="#a8a8a8" fill-opacity="0.8"/><circle cx="518.5" cy="328.6" r="0.75" fill="#a8a8a8" fill-opacity="0.8"/><circle cx="518.9" cy="314.2" r="0.75" fill="#a8a8a8" fill-opacity="0.8"/><circle cx="517.5" cy="318.7" r="0.75" fill="#a8a8a8" fill-opacity="0.8"/><circle cx="520.0" cy="318.4" r="0.75" fill="#a8a8a8" fill-opacity="0.8"/><circle cx="518.2" cy="330.9" r="0.75" fill="#a8a8a8" fill-opacity="0.8"/><circle cx="517.7" cy="382.0" r="0.75" fill="#a8a8a8" fill-opacity="0.8"/><circle cx="516.3" cy="292.6" r="0.75" fill="#a8a8a8" fill-opacity="0.8"/><circle cx="513.8" cy="360.5" r="0.75" fill="#a8a8a8" fill-opacity="0.8"/><circle cx="516.0" cy="343.0" r="0.75" fill="#a8a8a8" fill-opacity="0.8"/><circle cx="516.4" cy="338.7" r="0.75" fill="#a8a8a8" fill-opacity="0.8"/><circle cx="520.3" cy="396.5" r="0.75" fill="#a8a8a8" fill-opacity="0.8"/><circle cx="521.2" cy="350.7" r="0.75" fill="#a8a8a8" fill-opacity="0.8"/><circle cx="515.0" cy="363.9" r="0.75" fill="#a8a8a8" fill-opacity="0.8"/><circle cx="519.8" cy="372.2" r="0.75" fill="#a8a8a8" fill-opacity="0.8"/><circle cx="520.4" cy="380.0" r="0.75" fill="#a8a8a8" fill-opacity="0.8"/><circle cx="523.0" cy="361.9" r="0.75" fill="#a8a8a8" fill-opacity="0.8"/><circle cx="518.6" cy="316.8" r="0.75" fill="#a8a8a8" fill-opacity="0.8"/><circle cx="521.3" cy="300.3" r="0.75" fill="#a8a8a8" fill-opacity="0.8"/><circle cx="517.9" cy="301.6" r="0.75" fill="#a8a8a8" fill-opacity="0.8"/><circle cx="521.2" cy="324.6" r="0.75" fill="#a8a8a8" fill-opacity="0.8"/><circle cx="523.0" cy="330.6" r="0.75" fill="#a8a8a8" fill-opacity="0.8"/><circle cx="517.2" cy="349.7" r="0.75" fill="#a8a8a8" fill-opacity="0.8"/><circle cx="515.9" cy="299.4" r="0.75" fill="#a8a8a8" fill-opacity="0.8"/><circle cx="520.2" cy="309.4" r="0.75" fill="#a8a8a8" fill-opacity="0.8"/><circle cx="519.2" cy="328.2" r="0.75" fill="#a8a8a8" fill-opacity="0.8"/><circle cx="518.4" cy="345.8" r="0.75" fill="#a8a8a8" fill-opacity="0.8"/><circle cx="515.8" cy="298.6" r="0.75" fill="#a8a8a8" fill-opacity="0.8"/><circle cx="517.9" cy="319.1" r="0.75" fill="#a8a8a8" fill-opacity="0.8"/><circle cx="516.4" cy="368.8" r="0.75" fill="#a8a8a8" fill-opacity="0.8"/><circle cx="519.4" cy="362.4" r="0.75" fill="#a8a8a8" fill-opacity="0.8"/><circle cx="518.3" cy="375.3" r="0.75" fill="#a8a8a8" fill-opacity="0.8"/><circle cx="521.4" cy="340.6" r="0.75" fill="#a8a8a8" fill-opacity="0.8"/><circle cx="515.8" cy="336.0" r="0.75" fill="#a8a8a8" fill-opacity="0.8"/><circle cx="520.1" cy="334.4" r="0.75" fill="#a8a8a8" fill-opacity="0.8"/><circle cx="519.6" cy="325.9" r="0.75" fill="#a8a8a8" fill-opacity="0.8"/><circle cx="517.7" cy="396.8" r="0.75" fill="#a8a8a8" fill-opacity="0.8"/><circle cx="518.7" cy="300.8" r="0.75" fill="#a8a8a8" fill-opacity="0.8"/><circle cx="515.4" cy="371.5" r="0.75" fill="#a8a8a8" fill-opacity="0.8"/><circle cx="521.1" cy="314.0" r="0.75" fill="#a8a8a8" fill-opacity="0.8"/><circle cx="524.6" cy="349.0" r="0.75" fill="#a8a8a8" fill-opacity="0.8"/><circle cx="517.4" cy="316.6" r="0.75" fill="#a8a8a8" fill-opacity="0.8"/><circle cx="518.0" cy="288.6" r="0.75" fill="#a8a8a8" fill-opacity="0.8"/><circle cx="522.3" cy="319.7" r="0.75" fill="#a8a8a8" fill-opacity="0.8"/><circle cx="516.4" cy="381.5" r="0.75" fill="#a8a8a8" fill-opacity="0.8"/><circle cx="520.1" cy="310.4" r="0.75" fill="#a8a8a8" fill-opacity="0.8"/>
<line x1="515.6" y1="328.4" x2="523.6" y2="328.4" stroke="#1c1c1c" stroke-width="1.2" stroke-dasharray="3,2.5"/>
<line x1="511.1" y1="355.4" x2="528.1" y2="355.4" stroke="#1c1c1c" stroke-width="1.2" stroke-dasharray="5,3"/>
<line x1="512.4" y1="369.5" x2="526.8" y2="369.5" stroke="#1c1c1c" stroke-width="1.2" stroke-dasharray="3,2.5"/>
<path d="M543.3,320.8 C544.0,322.3 545.9,326.2 546.6,329.7 C547.3,333.2 547.2,337.6 547.4,341.6 C547.6,345.6 547.4,350.5 547.9,353.5 C548.4,356.5 549.6,357.4 550.4,359.4 C551.1,361.4 552.3,362.9 552.4,365.4 C552.5,367.9 551.5,371.3 550.9,374.3 C550.3,377.3 549.4,380.7 548.9,383.2 C548.4,385.7 548.5,386.1 547.9,389.1 C547.3,392.1 546.2,397.9 545.4,401.0 C544.6,404.1 543.8,406.6 543.3,407.7 C542.8,408.8 543.0,408.8 542.5,407.7 C542.0,406.6 541.2,404.1 540.4,401.0 C539.6,397.9 538.5,392.1 537.9,389.1 C537.3,386.1 537.4,385.7 536.9,383.2 C536.4,380.7 535.5,377.3 534.9,374.3 C534.3,371.3 533.3,367.9 533.4,365.4 C533.5,362.9 534.6,361.4 535.4,359.4 C536.1,357.4 537.4,356.5 537.9,353.5 C538.4,350.5 538.2,345.6 538.4,341.6 C538.6,337.6 538.5,333.2 539.2,329.7 C539.9,326.2 541.8,322.3 542.5,320.8 C543.2,319.3 542.6,319.3 543.3,320.8Z" fill="#8a9ba5" stroke="#1c1c1c" stroke-width="1.2"/>
<circle cx="538.4" cy="363.3" r="0.75" fill="#a8a8a8" fill-opacity="0.8"/><circle cx="542.6" cy="341.1" r="0.75" fill="#a8a8a8" fill-opacity="0.8"/><circle cx="546.2" cy="354.5" r="0.75" fill="#a8a8a8" fill-opacity="0.8"/><circle cx="539.6" cy="341.6" r="0.75" fill="#a8a8a8" fill-opacity="0.8"/><circle cx="545.0" cy="395.7" r="0.75" fill="#a8a8a8" fill-opacity="0.8"/><circle cx="546.0" cy="340.9" r="0.75" fill="#a8a8a8" fill-opacity="0.8"/><circle cx="543.6" cy="334.7" r="0.75" fill="#a8a8a8" fill-opacity="0.8"/><circle cx="544.9" cy="392.0" r="0.75" fill="#a8a8a8" fill-opacity="0.8"/><circle cx="542.4" cy="360.1" r="0.75" fill="#a8a8a8" fill-opacity="0.8"/><circle cx="547.4" cy="356.5" r="0.75" fill="#a8a8a8" fill-opacity="0.8"/><circle cx="544.8" cy="390.0" r="0.75" fill="#a8a8a8" fill-opacity="0.8"/><circle cx="541.6" cy="402.2" r="0.75" fill="#a8a8a8" fill-opacity="0.8"/><circle cx="540.8" cy="357.5" r="0.75" fill="#a8a8a8" fill-opacity="0.8"/><circle cx="540.9" cy="353.2" r="0.75" fill="#a8a8a8" fill-opacity="0.8"/><circle cx="545.6" cy="348.6" r="0.75" fill="#a8a8a8" fill-opacity="0.8"/><circle cx="540.0" cy="338.0" r="0.75" fill="#a8a8a8" fill-opacity="0.8"/><circle cx="542.8" cy="394.2" r="0.75" fill="#a8a8a8" fill-opacity="0.8"/><circle cx="541.2" cy="342.1" r="0.75" fill="#a8a8a8" fill-opacity="0.8"/><circle cx="542.5" cy="396.2" r="0.75" fill="#a8a8a8" fill-opacity="0.8"/><circle cx="538.3" cy="374.0" r="0.75" fill="#a8a8a8" fill-opacity="0.8"/><circle cx="544.0" cy="378.3" r="0.75" fill="#a8a8a8" fill-opacity="0.8"/><circle cx="541.5" cy="330.8" r="0.75" fill="#a8a8a8" fill-opacity="0.8"/><circle cx="541.7" cy="402.0" r="0.75" fill="#a8a8a8" fill-opacity="0.8"/><circle cx="545.3" cy="391.7" r="0.75" fill="#a8a8a8" fill-opacity="0.8"/><circle cx="541.1" cy="339.3" r="0.75" fill="#a8a8a8" fill-opacity="0.8"/><circle cx="543.8" cy="389.9" r="0.75" fill="#a8a8a8" fill-opacity="0.8"/><circle cx="547.5" cy="357.5" r="0.75" fill="#a8a8a8" fill-opacity="0.8"/><circle cx="543.4" cy="348.7" r="0.75" fill="#a8a8a8" fill-opacity="0.8"/><circle cx="543.8" cy="342.3" r="0.75" fill="#a8a8a8" fill-opacity="0.8"/><circle cx="548.0" cy="373.8" r="0.75" fill="#a8a8a8" fill-opacity="0.8"/><circle cx="541.4" cy="329.4" r="0.75" fill="#a8a8a8" fill-opacity="0.8"/><circle cx="542.8" cy="371.0" r="0.75" fill="#a8a8a8" fill-opacity="0.8"/><circle cx="539.2" cy="381.6" r="0.75" fill="#a8a8a8" fill-opacity="0.8"/><circle cx="545.0" cy="332.8" r="0.75" fill="#a8a8a8" fill-opacity="0.8"/><circle cx="544.1" cy="366.9" r="0.75" fill="#a8a8a8" fill-opacity="0.8"/><circle cx="541.0" cy="333.9" r="0.75" fill="#a8a8a8" fill-opacity="0.8"/><circle cx="540.5" cy="376.7" r="0.75" fill="#a8a8a8" fill-opacity="0.8"/><circle cx="542.7" cy="386.4" r="0.75" fill="#a8a8a8" fill-opacity="0.8"/><circle cx="546.4" cy="378.1" r="0.75" fill="#a8a8a8" fill-opacity="0.8"/><circle cx="539.8" cy="349.7" r="0.75" fill="#a8a8a8" fill-opacity="0.8"/><circle cx="536.9" cy="362.9" r="0.75" fill="#a8a8a8" fill-opacity="0.8"/><circle cx="547.9" cy="358.4" r="0.75" fill="#a8a8a8" fill-opacity="0.8"/><circle cx="546.0" cy="347.9" r="0.75" fill="#a8a8a8" fill-opacity="0.8"/><circle cx="548.0" cy="367.8" r="0.75" fill="#a8a8a8" fill-opacity="0.8"/><circle cx="541.1" cy="392.6" r="0.75" fill="#a8a8a8" fill-opacity="0.8"/><circle cx="540.6" cy="366.7" r="0.75" fill="#a8a8a8" fill-opacity="0.8"/><circle cx="539.3" cy="353.6" r="0.75" fill="#a8a8a8" fill-opacity="0.8"/><circle cx="544.6" cy="353.8" r="0.75" fill="#a8a8a8" fill-opacity="0.8"/><circle cx="541.4" cy="401.0" r="0.75" fill="#a8a8a8" fill-opacity="0.8"/><circle cx="541.5" cy="399.3" r="0.75" fill="#a8a8a8" fill-opacity="0.8"/><circle cx="542.3" cy="382.6" r="0.75" fill="#a8a8a8" fill-opacity="0.8"/><circle cx="540.6" cy="344.5" r="0.75" fill="#a8a8a8" fill-opacity="0.8"/><circle cx="547.0" cy="355.5" r="0.75" fill="#a8a8a8" fill-opacity="0.8"/><circle cx="544.5" cy="381.9" r="0.75" fill="#a8a8a8" fill-opacity="0.8"/><circle cx="544.2" cy="395.3" r="0.75" fill="#a8a8a8" fill-opacity="0.8"/>
<line x1="538.0" y1="354.2" x2="547.8" y2="354.2" stroke="#1c1c1c" stroke-width="1.2" stroke-dasharray="3,2.5"/>
<line x1="533.9" y1="366.1" x2="551.9" y2="366.1" stroke="#1c1c1c" stroke-width="1.2" stroke-dasharray="5,3"/>
<line x1="536.6" y1="380.2" x2="549.2" y2="380.2" stroke="#1c1c1c" stroke-width="1.2" stroke-dasharray="3,2.5"/>
<path d="M566.7,326.0 C567.0,327.9 567.4,334.0 567.8,337.1 C568.2,340.2 568.6,342.4 569.3,344.6 C570.0,346.8 571.3,348.5 571.8,350.5 C572.3,352.5 572.3,354.5 572.3,356.5 C572.3,358.5 571.2,359.4 571.8,362.4 C572.3,365.4 575.5,370.8 575.6,374.3 C575.7,377.8 573.1,380.7 572.3,383.2 C571.5,385.7 570.9,387.1 570.8,389.1 C570.7,391.1 572.0,392.6 571.8,395.1 C571.5,397.6 570.1,400.9 569.3,404.0 C568.4,407.1 567.3,412.1 566.7,413.7 C566.1,415.3 566.5,415.3 565.9,413.7 C565.3,412.1 564.1,407.1 563.3,404.0 C562.4,400.9 561.0,397.6 560.8,395.1 C560.5,392.6 561.9,391.1 561.8,389.1 C561.7,387.1 561.1,385.7 560.3,383.2 C559.5,380.7 556.9,377.8 557.0,374.3 C557.1,370.8 560.2,365.4 560.8,362.4 C561.3,359.4 560.3,358.5 560.3,356.5 C560.3,354.5 560.3,352.5 560.8,350.5 C561.3,348.5 562.6,346.8 563.3,344.6 C564.0,342.4 564.4,340.2 564.8,337.1 C565.2,334.0 565.6,327.9 565.9,326.0 C566.2,324.1 566.4,324.1 566.7,326.0Z" fill="#bdd3d2" stroke="#1c1c1c" stroke-width="1.2"/>
<circle cx="566.2" cy="393.1" r="0.75" fill="#a8a8a8" fill-opacity="0.8"/><circle cx="565.3" cy="402.7" r="0.75" fill="#a8a8a8" fill-opacity="0.8"/><circle cx="567.5" cy="407.8" r="0.75" fill="#a8a8a8" fill-opacity="0.8"/><circle cx="565.3" cy="365.2" r="0.75" fill="#a8a8a8" fill-opacity="0.8"/><circle cx="569.6" cy="371.2" r="0.75" fill="#a8a8a8" fill-opacity="0.8"/><circle cx="562.8" cy="358.1" r="0.75" fill="#a8a8a8" fill-opacity="0.8"/><circle cx="567.2" cy="347.2" r="0.75" fill="#a8a8a8" fill-opacity="0.8"/><circle cx="565.9" cy="354.5" r="0.75" fill="#a8a8a8" fill-opacity="0.8"/><circle cx="563.4" cy="394.7" r="0.75" fill="#a8a8a8" fill-opacity="0.8"/><circle cx="565.1" cy="382.0" r="0.75" fill="#a8a8a8" fill-opacity="0.8"/><circle cx="564.9" cy="393.8" r="0.75" fill="#a8a8a8" fill-opacity="0.8"/><circle cx="567.4" cy="382.3" r="0.75" fill="#a8a8a8" fill-opacity="0.8"/><circle cx="567.2" cy="346.7" r="0.75" fill="#a8a8a8" fill-opacity="0.8"/><circle cx="563.3" cy="397.6" r="0.75" fill="#a8a8a8" fill-opacity="0.8"/><circle cx="569.5" cy="360.6" r="0.75" fill="#a8a8a8" fill-opacity="0.8"/><circle cx="566.4" cy="363.3" r="0.75" fill="#a8a8a8" fill-opacity="0.8"/><circle cx="569.2" cy="388.9" r="0.75" fill="#a8a8a8" fill-opacity="0.8"/><circle cx="567.1" cy="404.6" r="0.75" fill="#a8a8a8" fill-opacity="0.8"/><circle cx="567.0" cy="360.7" r="0.75" fill="#a8a8a8" fill-opacity="0.8"/><circle cx="570.4" cy="395.0" r="0.75" fill="#a8a8a8" fill-opacity="0.8"/><circle cx="569.0" cy="399.3" r="0.75" fill="#a8a8a8" fill-opacity="0.8"/><circle cx="565.4" cy="339.7" r="0.75" fill="#a8a8a8" fill-opacity="0.8"/><circle cx="566.5" cy="341.4" r="0.75" fill="#a8a8a8" fill-opacity="0.8"/><circle cx="566.7" cy="344.5" r="0.75" fill="#a8a8a8" fill-opacity="0.8"/><circle cx="567.1" cy="392.0" r="0.75" fill="#a8a8a8" fill-opacity="0.8"/><circle cx="570.9" cy="371.4" r="0.75" fill="#a8a8a8" fill-opacity="0.8"/><circle cx="567.4" cy="338.2" r="0.75" fill="#a8a8a8" fill-opacity="0.8"/><circle cx="571.8" cy="369.9" r="0.75" fill="#a8a8a8" fill-opacity="0.8"/><circle cx="566.8" cy="336.0" r="0.75" fill="#a8a8a8" fill-opacity="0.8"/><circle cx="570.6" cy="365.0" r="0.75" fill="#a8a8a8" fill-opacity="0.8"/><circle cx="571.4" cy="374.3" r="0.75" fill="#a8a8a8" fill-opacity="0.8"/><circle cx="567.9" cy="370.6" r="0.75" fill="#a8a8a8" fill-opacity="0.8"/><circle cx="566.1" cy="406.6" r="0.75" fill="#a8a8a8" fill-opacity="0.8"/><circle cx="564.9" cy="356.6" r="0.75" fill="#a8a8a8" fill-opacity="0.8"/><circle cx="569.9" cy="359.3" r="0.75" fill="#a8a8a8" fill-opacity="0.8"/><circle cx="567.1" cy="406.7" r="0.75" fill="#a8a8a8" fill-opacity="0.8"/><circle cx="562.5" cy="385.1" r="0.75" fill="#a8a8a8" fill-opacity="0.8"/><circle cx="566.1" cy="362.5" r="0.75" fill="#a8a8a8" fill-opacity="0.8"/><circle cx="563.7" cy="347.3" r="0.75" fill="#a8a8a8" fill-opacity="0.8"/><circle cx="566.8" cy="366.5" r="0.75" fill="#a8a8a8" fill-opacity="0.8"/><circle cx="566.6" cy="388.0" r="0.75" fill="#a8a8a8" fill-opacity="0.8"/><circle cx="566.6" cy="371.4" r="0.75" fill="#a8a8a8" fill-opacity="0.8"/><circle cx="562.6" cy="396.7" r="0.75" fill="#a8a8a8" fill-opacity="0.8"/><circle cx="566.9" cy="366.1" r="0.75" fill="#a8a8a8" fill-opacity="0.8"/><circle cx="566.6" cy="367.1" r="0.75" fill="#a8a8a8" fill-opacity="0.8"/><circle cx="564.3" cy="352.7" r="0.75" fill="#a8a8a8" fill-opacity="0.8"/><circle cx="567.4" cy="351.2" r="0.75" fill="#a8a8a8" fill-opacity="0.8"/><circle cx="567.6" cy="408.6" r="0.75" fill="#a8a8a8" fill-opacity="0.8"/><circle cx="563.7" cy="388.4" r="0.75" fill="#a8a8a8" fill-opacity="0.8"/><circle cx="566.3" cy="400.9" r="0.75" fill="#a8a8a8" fill-opacity="0.8"/><circle cx="567.8" cy="344.3" r="0.75" fill="#a8a8a8" fill-opacity="0.8"/><circle cx="567.0" cy="406.8" r="0.75" fill="#a8a8a8" fill-opacity="0.8"/>
<line x1="561.2" y1="362.4" x2="571.4" y2="362.4" stroke="#1c1c1c" stroke-width="1.2" stroke-dasharray="3,2.5"/>
<line x1="557.6" y1="373.8" x2="575.0" y2="373.8" stroke="#1c1c1c" stroke-width="1.2" stroke-dasharray="5,3"/>
<line x1="562.2" y1="389.1" x2="570.4" y2="389.1" stroke="#1c1c1c" stroke-width="1.2" stroke-dasharray="3,2.5"/>
<text x="520.1" y="284.1" font-size="17.5" text-anchor="middle" fill="#111">***</text>
<text x="542.7" y="326.4" font-size="17.5" text-anchor="middle" fill="#111">***</text>
<text x="565.9" y="333" font-size="17.5" text-anchor="middle" fill="#111">***</text>
<text x="639" y="260.9" font-size="10" text-anchor="middle" fill="#000" font-weight="bold">Mitochondria</text>
<text x="638.6" y="271" font-size="10" text-anchor="middle" fill="#222">(pH ~ 8)</text>
<text x="639.9" y="346.2" font-size="10" text-anchor="middle" fill="#000" font-weight="bold">Mitophagosome</text>
<text x="639" y="356" font-size="10" text-anchor="middle" fill="#222">(pH ~ 5.5)</text>
<text x="639.2" y="318" font-size="10" text-anchor="middle" fill="#222">mtKeima</text>
<text x="639.8" y="328.5" font-size="10" text-anchor="middle" fill="#222">565/405</text>
<text x="639.2" y="414" font-size="10" text-anchor="middle" fill="#222">mtKeima</text>
<text x="639.8" y="425.5" font-size="10" text-anchor="middle" fill="#222">565/405</text>
<text x="0.7" y="478.9" font-size="22.4" text-anchor="start" fill="#000" font-weight="bold">E</text>
<text x="95" y="483" font-size="12.5" text-anchor="start" fill="#222" font-weight="bold">Mitophagy Proteins</text>
<line x1="77" y1="490.5" x2="77" y2="652" stroke="#222" stroke-width="1.6"/>
<line x1="76.2" y1="651.3" x2="229.3" y2="651.3" stroke="#222" stroke-width="1.6"/>
<line x1="74" y1="490.3" x2="77" y2="490.3" stroke="#222" stroke-width="1.2"/>
<text x="72" y="494.7" font-size="12.5" text-anchor="end" fill="#333">1.0</text>
<line x1="74" y1="522.5" x2="77" y2="522.5" stroke="#222" stroke-width="1.2"/>
<text x="72" y="526.9" font-size="12.5" text-anchor="end" fill="#333">0.5</text>
<line x1="74" y1="554.6" x2="77" y2="554.6" stroke="#222" stroke-width="1.2"/>
<text x="72" y="559.0" font-size="12.5" text-anchor="end" fill="#333">0.0</text>
<line x1="74" y1="586.8" x2="77" y2="586.8" stroke="#222" stroke-width="1.2"/>
<text x="72" y="591.1" font-size="12.5" text-anchor="end" fill="#333">−0.5</text>
<line x1="74" y1="618.9" x2="77" y2="618.9" stroke="#222" stroke-width="1.2"/>
<text x="72" y="623.3" font-size="12.5" text-anchor="end" fill="#333">−1.0</text>
<line x1="74" y1="651.0" x2="77" y2="651.0" stroke="#222" stroke-width="1.2"/>
<text x="72" y="655.4" font-size="12.5" text-anchor="end" fill="#333">−1.5</text>
<line x1="83.6" y1="651.3" x2="83.6" y2="654.3" stroke="#222" stroke-width="1.2"/>
<text x="83.6" y="667" font-size="12.5" text-anchor="middle" fill="#333">M</text>
<line x1="111.2" y1="651.3" x2="111.2" y2="654.3" stroke="#222" stroke-width="1.2"/>
<text x="111.2" y="667" font-size="12.5" text-anchor="middle" fill="#333">24</text>
<line x1="138.8" y1="651.3" x2="138.8" y2="654.3" stroke="#222" stroke-width="1.2"/>
<text x="138.8" y="667" font-size="12.5" text-anchor="middle" fill="#333">48</text>
<line x1="165.8" y1="651.3" x2="165.8" y2="654.3" stroke="#222" stroke-width="1.2"/>
<text x="165.8" y="667" font-size="12.5" text-anchor="middle" fill="#333">72</text>
<line x1="193.4" y1="651.3" x2="193.4" y2="654.3" stroke="#222" stroke-width="1.2"/>
<text x="193.4" y="667" font-size="12.5" text-anchor="middle" fill="#333">96</text>
<line x1="220.7" y1="651.3" x2="220.7" y2="654.3" stroke="#222" stroke-width="1.2"/>
<text x="220.7" y="667" font-size="12.5" text-anchor="middle" fill="#333">120</text>
<polygon points="83.6,546.2 111.7,557.2 138.7,554.0 166.1,539.2 193.3,508.9 220.8,504.4 220.8,525.7 193.3,522.5 166.1,546.2 138.7,564.9 111.7,573.9 83.6,564.2" fill="#9090aa" fill-opacity="0.42"/>
<polygon points="83.6,545.0 111.7,543.0 138.7,575.2 166.1,577.7 193.3,594.5 220.8,608.0 220.8,626.0 193.3,618.9 166.1,606.0 138.7,586.8 111.7,562.3 83.6,562.3" fill="#9aaab8" fill-opacity="0.3"/>
<polygon points="83.6,549.5 111.7,563.0 138.7,577.7 166.1,594.5 193.3,612.5 220.8,624.7 220.8,641.4 193.3,630.5 166.1,613.8 138.7,588.7 111.7,568.7 83.6,559.7" fill="#7a7a8a" fill-opacity="0.35"/>
<polygon points="83.6,552.0 111.7,561.0 138.7,582.9 166.1,598.3 193.3,602.2 220.8,597.0 220.8,606.0 193.3,612.5 166.1,612.5 138.7,600.9 111.7,567.5 83.6,557.2" fill="#c2e0d8" fill-opacity="0.3"/>
<polyline points="83.6,554.6 111.7,564.2 138.7,593.2 166.1,604.8 193.3,607.3 220.8,601.5" fill="none" stroke="#a8d0c6" stroke-width="1.3" stroke-dasharray="4,2,1,2"/>
<polyline points="83.6,554.6 111.7,550.1 138.7,582.2 166.1,596.4 193.3,611.8 220.8,618.3" fill="none" stroke="#5a7890" stroke-width="1.3" stroke-dasharray="1.2,1.6"/>
<polyline points="83.6,557.2 111.7,569.4 138.7,559.7 166.1,542.4 193.3,521.8 220.8,512.8" fill="none" stroke="#4c4c78" stroke-width="1.6" stroke-dasharray="5,3"/>
<polyline points="83.6,555.9 111.7,565.5 138.7,582.9 166.1,604.8 193.3,620.8 220.8,633.0" fill="none" stroke="#23233a" stroke-width="1.6"/>
<rect x="82.0" y="553.0" width="3.2" height="3.2" fill="#6a8aa0" stroke="#fff" stroke-width="0.6"/>
<rect x="110.1" y="548.5" width="3.2" height="3.2" fill="#6a8aa0" stroke="#fff" stroke-width="0.6"/>
<rect x="137.1" y="580.6" width="3.2" height="3.2" fill="#6a8aa0" stroke="#fff" stroke-width="0.6"/>
<rect x="164.5" y="594.8" width="3.2" height="3.2" fill="#6a8aa0" stroke="#fff" stroke-width="0.6"/>
<rect x="191.7" y="610.2" width="3.2" height="3.2" fill="#6a8aa0" stroke="#fff" stroke-width="0.6"/>
<rect x="219.2" y="616.7" width="3.2" height="3.2" fill="#6a8aa0" stroke="#fff" stroke-width="0.6"/>
<circle cx="83.6" cy="557.2" r="2.3" fill="#fff" fill-opacity="0.8"/><path d="M82.0,555.6l3.2,3.2M82.0,558.8l3.2,-3.2" stroke="#4c4c78" stroke-width="1"/>
<circle cx="111.7" cy="569.4" r="2.3" fill="#fff" fill-opacity="0.8"/><path d="M110.1,567.8l3.2,3.2M110.1,571.0l3.2,-3.2" stroke="#4c4c78" stroke-width="1"/>
<circle cx="138.7" cy="559.7" r="2.3" fill="#fff" fill-opacity="0.8"/><path d="M137.1,558.1l3.2,3.2M137.1,561.3l3.2,-3.2" stroke="#4c4c78" stroke-width="1"/>
<circle cx="166.1" cy="542.4" r="2.3" fill="#fff" fill-opacity="0.8"/><path d="M164.5,540.8l3.2,3.2M164.5,544.0l3.2,-3.2" stroke="#4c4c78" stroke-width="1"/>
<circle cx="193.3" cy="521.8" r="2.3" fill="#fff" fill-opacity="0.8"/><path d="M191.7,520.2l3.2,3.2M191.7,523.4l3.2,-3.2" stroke="#4c4c78" stroke-width="1"/>
<circle cx="220.8" cy="512.8" r="2.3" fill="#fff" fill-opacity="0.8"/><path d="M219.2,511.2l3.2,3.2M219.2,514.4l3.2,-3.2" stroke="#4c4c78" stroke-width="1"/>
<circle cx="83.6" cy="555.9" r="2.4" fill="#1c1c2c" stroke="#fff" stroke-width="0.7"/>
<circle cx="111.7" cy="565.5" r="2.4" fill="#1c1c2c" stroke="#fff" stroke-width="0.7"/>
<circle cx="138.7" cy="582.9" r="2.4" fill="#1c1c2c" stroke="#fff" stroke-width="0.7"/>
<circle cx="166.1" cy="604.8" r="2.4" fill="#1c1c2c" stroke="#fff" stroke-width="0.7"/>
<circle cx="193.3" cy="620.8" r="2.4" fill="#1c1c2c" stroke="#fff" stroke-width="0.7"/>
<circle cx="220.8" cy="633.0" r="2.4" fill="#1c1c2c" stroke="#fff" stroke-width="0.7"/>
<circle cx="83.6" cy="554.6" r="2.6" fill="#e8f4f0" stroke="#fff" stroke-width="0.5"/><path d="M81.8,554.6h3.6M83.6,552.8v3.6" stroke="#9cc8bc" stroke-width="0.9"/>
<circle cx="111.7" cy="564.2" r="2.6" fill="#e8f4f0" stroke="#fff" stroke-width="0.5"/><path d="M109.9,564.2h3.6M111.7,562.4v3.6" stroke="#9cc8bc" stroke-width="0.9"/>
<circle cx="138.7" cy="593.2" r="2.6" fill="#e8f4f0" stroke="#fff" stroke-width="0.5"/><path d="M136.9,593.2h3.6M138.7,591.4v3.6" stroke="#9cc8bc" stroke-width="0.9"/>
<circle cx="166.1" cy="604.8" r="2.6" fill="#e8f4f0" stroke="#fff" stroke-width="0.5"/><path d="M164.3,604.8h3.6M166.1,603.0v3.6" stroke="#9cc8bc" stroke-width="0.9"/>
<circle cx="193.3" cy="607.3" r="2.6" fill="#e8f4f0" stroke="#fff" stroke-width="0.5"/><path d="M191.5,607.3h3.6M193.3,605.5v3.6" stroke="#9cc8bc" stroke-width="0.9"/>
<circle cx="220.8" cy="601.5" r="2.6" fill="#e8f4f0" stroke="#fff" stroke-width="0.5"/><path d="M219.0,601.5h3.6M220.8,599.7v3.6" stroke="#9cc8bc" stroke-width="0.9"/>
<line x1="86" y1="494.4" x2="104.4" y2="494.4" stroke="#23233a" stroke-width="1.4"/><circle cx="95.2" cy="494.4" r="1.6" fill="#23233a"/>
<line x1="86" y1="507" x2="104.4" y2="507" stroke="#4c4c78" stroke-width="1.3" stroke-dasharray="3.5,2"/>
<line x1="86" y1="519.4" x2="104.4" y2="519.4" stroke="#5a7890" stroke-width="1.1" stroke-dasharray="1,1.5"/><rect x="94.2" y="518.4" width="2" height="2" fill="#5a7890"/>
<line x1="86" y1="531.6" x2="104.4" y2="531.6" stroke="#a8d0c6" stroke-width="1.1" stroke-dasharray="3,1.5,1,1.5"/>
<text x="111.6" y="497.7" font-size="9.1" text-anchor="start" fill="#333">GABARAPL2</text>
<text x="111.6" y="510.3" font-size="9.1" text-anchor="start" fill="#333">USP30</text>
<text x="111.6" y="522.7" font-size="9.1" text-anchor="start" fill="#333">GABARAP</text>
<text x="111.6" y="534.9" font-size="9.1" text-anchor="start" fill="#333">BNIP3</text>
<text transform="translate(42.7,571.8) rotate(-90)" font-size="12.4" text-anchor="middle" fill="#333">Log2(protein abundance/mock)</text>
<text x="233.4" y="478.7" font-size="22.4" text-anchor="start" fill="#000" font-weight="bold">F</text>
<text x="287.4" y="474" font-size="13.55" font-weight="bold" fill="#111">Mitochondria <tspan font-family="Liberation Serif" font-size="14">ΔΨ</tspan><tspan font-size="9" font-weight="normal" dy="2">m</tspan><tspan dy="-2"> (72 hpi)</tspan></text>
<rect x="250" y="480.8" width="80" height="79.4" fill="#000"/>
<rect x="331.3" y="480.8" width="80" height="79.4" fill="#000"/>
<rect x="412.5" y="480.8" width="80" height="79.4" fill="#000"/>
<rect x="250" y="561.2" width="80" height="79.4" fill="#000"/>
<rect x="331.3" y="561.2" width="80" height="79.4" fill="#000"/>
<rect x="412.5" y="561.2" width="80" height="79.4" fill="#000"/>
<defs><clipPath id="cF00"><rect x="250" y="480.8" width="80" height="79.4"/></clipPath><clipPath id="cF01"><rect x="250" y="561.2" width="80" height="79.4"/></clipPath><clipPath id="cF10"><rect x="331.3" y="480.8" width="80" height="79.4"/></clipPath><clipPath id="cF11"><rect x="331.3" y="561.2" width="80" height="79.4"/></clipPath><clipPath id="cF20"><rect x="412.5" y="480.8" width="80" height="79.4"/></clipPath><clipPath id="cF21"><rect x="412.5" y="561.2" width="80" height="79.4"/></clipPath></defs>
<g clip-path="url(#cF00)"><ellipse cx="252.4" cy="501.4" rx="6" ry="6" fill="#0d4a08" opacity="0.6" filter="url(#bl3)"/><path d="M276.3,502.7 C278.5,501.5 284.9,497.6 289.5,495.6 C294.1,493.6 299.9,492.4 303.9,490.8 C307.9,489.2 311.8,486.8 313.4,486.0" fill="none" stroke="#189610" stroke-width="15" stroke-linecap="round" stroke-linejoin="round" opacity="0.95" filter="url(#bl3)"/><path d="M289.5,495.6 C291.9,494.8 299.9,492.4 303.9,490.8 C307.9,489.2 311.8,486.8 313.4,486.0" fill="none" stroke="#1c9c12" stroke-width="8" stroke-linecap="round" stroke-linejoin="round" opacity="0.8" filter="url(#bl2)"/><path d="M257.0,554.3 C259.2,552.4 265.7,546.5 270.0,542.8 C274.3,539.0 279.0,535.8 283.0,531.8 C287.0,527.8 290.3,523.1 294.0,518.8 C297.7,514.5 301.6,509.3 305.0,505.8 C308.4,502.3 313.0,499.3 314.6,498.0" fill="none" stroke="#1aa812" stroke-width="10" stroke-linecap="round" stroke-linejoin="round" opacity="1" filter="url(#bl2)"/><path d="M257.0,554.3 C259.2,552.4 265.7,546.5 270.0,542.8 C274.3,539.0 279.0,535.8 283.0,531.8 C287.0,527.8 290.3,523.1 294.0,518.8 C297.7,514.5 301.6,509.3 305.0,505.8 C308.4,502.3 313.0,499.3 314.6,498.0" fill="none" stroke="#2ccc1e" stroke-width="5.5" stroke-linecap="round" stroke-linejoin="round" opacity="0.8" filter="url(#bl2)"/><ellipse cx="314.6" cy="498.3" rx="5.0" ry="5.0" fill="#34e022" opacity="0.9" filter="url(#bl1)"/><ellipse cx="319.4" cy="545.7" rx="4" ry="3.5" fill="#0f5a0a" opacity="0.8" filter="url(#bl2)"/></g><path d="M324.3,521.4 L318.9,514.9 L320.9,513.2 L314.0,511.7 L314.3,518.8 L316.3,517.1 L321.7,523.6Z" fill="#fff"/><rect x="276.3" y="557.8" width="52.4" height="1.9" fill="#fff"/>
<g clip-path="url(#cF10)"><ellipse cx="333.7" cy="501.4" rx="6" ry="6" fill="#0d4a08" opacity="0.6" filter="url(#bl3)"/><path d="M356.3,502.3 C359.1,501.1 367.9,497.6 373.1,495.2 C378.3,492.8 384.1,489.9 387.5,488.0 C390.9,486.1 392.3,484.5 393.3,483.8" fill="none" stroke="#189610" stroke-width="15" stroke-linecap="round" stroke-linejoin="round" opacity="0.95" filter="url(#bl3)"/><path d="M373.1,495.2 C375.5,494.0 384.1,489.9 387.5,488.0 C390.9,486.1 392.3,484.5 393.3,483.8" fill="none" stroke="#1c9c12" stroke-width="8" stroke-linecap="round" stroke-linejoin="round" opacity="0.8" filter="url(#bl2)"/><path d="M348.0,545.4 C351.0,542.6 360.1,534.7 365.9,528.7 C371.7,522.7 378.3,514.1 382.7,509.5 C387.1,504.9 390.7,502.2 392.3,500.8" fill="none" stroke="#1aa812" stroke-width="10" stroke-linecap="round" stroke-linejoin="round" opacity="1" filter="url(#bl2)"/><path d="M348.0,545.4 C351.0,542.6 360.1,534.7 365.9,528.7 C371.7,522.7 378.3,514.1 382.7,509.5 C387.1,504.9 390.7,502.2 392.3,500.8" fill="none" stroke="#2ccc1e" stroke-width="5.5" stroke-linecap="round" stroke-linejoin="round" opacity="0.8" filter="url(#bl2)"/><ellipse cx="397.0" cy="498.7" rx="6.5" ry="6.5" fill="#34e022" opacity="1" filter="url(#bl1)"/><ellipse cx="400.6" cy="538.3" rx="4" ry="3.5" fill="#0f5a0a" opacity="0.8" filter="url(#bl2)"/></g><path d="M403.1,519.3 L398.9,513.5 L401.0,512.0 L394.2,510.0 L394.1,517.1 L396.2,515.5 L400.5,521.3Z" fill="#fff"/><rect x="357.6" y="557.8" width="52.4" height="1.9" fill="#fff"/>
<g clip-path="url(#cF20)"><ellipse cx="414.9" cy="501.4" rx="6" ry="6" fill="#0d4a08" opacity="0.6" filter="url(#bl3)"/><path d="M440.1,502.3 C443.3,501.1 454.4,497.6 459.2,495.2 C464.0,492.8 466.2,489.9 468.8,488.0 C471.4,486.1 473.6,484.5 474.5,483.8" fill="none" stroke="#189610" stroke-width="15" stroke-linecap="round" stroke-linejoin="round" opacity="0.95" filter="url(#bl3)"/><path d="M459.2,495.2 C460.8,494.0 466.2,489.9 468.8,488.0 C471.4,486.1 473.6,484.5 474.5,483.8" fill="none" stroke="#1c9c12" stroke-width="8" stroke-linecap="round" stroke-linejoin="round" opacity="0.8" filter="url(#bl2)"/><path d="M425.8,552.6 C429.0,549.4 438.9,539.9 444.9,533.5 C450.9,527.1 458.9,517.5 461.7,514.3" fill="none" stroke="#1aa812" stroke-width="10" stroke-linecap="round" stroke-linejoin="round" opacity="1" filter="url(#bl2)"/><path d="M425.8,552.6 C429.0,549.4 438.9,539.9 444.9,533.5 C450.9,527.1 458.9,517.5 461.7,514.3" fill="none" stroke="#2ccc1e" stroke-width="5.5" stroke-linecap="round" stroke-linejoin="round" opacity="0.8" filter="url(#bl2)"/><ellipse cx="479.6" cy="503.5" rx="6.0" ry="8.0" fill="#34e022" opacity="0.9" filter="url(#bl1)"/><ellipse cx="477.3" cy="538.3" rx="4" ry="3.5" fill="#0f5a0a" opacity="0.8" filter="url(#bl2)"/></g><path d="M483.3,526.6 L479.0,520.3 L481.1,518.8 L474.4,516.7 L474.1,523.8 L476.3,522.2 L480.7,528.4Z" fill="#fff"/><rect x="438.8" y="557.8" width="52" height="1.9" fill="#fff"/>
<defs><filter id="fireLUT" x="0" y="0" width="100%" height="100%" color-interpolation-filters="sRGB">
<feComponentTransfer>
<feFuncR type="table" tableValues="0 0.12 0.38 0.68 0.88 0.98 1 1 1"/>
<feFuncG type="table" tableValues="0 0 0 0.03 0.22 0.48 0.72 0.92 1"/>
<feFuncB type="table" tableValues="0 0.5 0.72 0.5 0.12 0 0 0.25 1"/>
</feComponentTransfer></filter></defs>
<g clip-path="url(#cF01)"><g filter="url(#fireLUT)"><rect x="250" y="561.2" width="80" height="79.4" fill="#000"/><path d="M277.0,582.2 C278.8,581.4 284.5,578.9 288.0,577.2 C291.5,575.5 294.8,574.0 298.0,572.2 C301.2,570.4 304.8,568.4 307.0,566.2 C309.2,564.0 310.3,560.4 311.0,559.2" fill="none" stroke="#808080" stroke-width="14" stroke-linecap="round" stroke-linejoin="round" filter="url(#bl2)"/><path d="M279.0,581.7 C280.5,581.0 284.8,578.8 288.0,577.2 C291.2,575.6 295.0,574.0 298.0,572.2 C301.0,570.4 304.7,567.2 306.0,566.2" fill="none" stroke="#b8b8b8" stroke-width="9" stroke-linecap="round" stroke-linejoin="round" filter="url(#bl1)"/><ellipse cx="299.0" cy="572.2" rx="8" ry="5" fill="#e6e6e6" transform="rotate(-30 299.0 572.2)" filter="url(#bl1)"/><ellipse cx="300.0" cy="572.2" rx="4.5" ry="2.8" fill="#ffffff" transform="rotate(-30 300.0 572.2)" filter="url(#bl1)"/><path d="M314.0,575.2 C313.2,576.7 310.8,581.7 309.0,584.2 C307.2,586.7 304.0,589.2 303.0,590.2" fill="none" stroke="#808080" stroke-width="8" stroke-linecap="round" stroke-linejoin="round" filter="url(#bl2)"/><path d="M313.5,576.2 C312.8,577.5 310.4,582.2 309.0,584.2 C307.6,586.2 305.7,587.5 305.0,588.2" fill="none" stroke="#b8b8b8" stroke-width="4.5" stroke-linecap="round" stroke-linejoin="round" filter="url(#bl1)"/><ellipse cx="298.5" cy="594.7" rx="6" ry="4.8" fill="#b8b8b8" transform="rotate(-45 298.5 594.7)" filter="url(#bl1)"/><ellipse cx="298.5" cy="594.7" rx="3.8" ry="2.8" fill="#ffffff" transform="rotate(-45 298.5 594.7)" filter="url(#bl1)"/><path d="M296.0,598.2 C295.0,599.5 292.5,603.4 290.0,606.2 C287.5,609.0 284.3,612.0 281.0,615.2 C277.7,618.4 274.0,622.0 270.0,625.2 C266.0,628.4 259.2,632.7 257.0,634.2" fill="none" stroke="#525252" stroke-width="6" stroke-linecap="round" stroke-linejoin="round" filter="url(#bl2)"/><path d="M296.0,598.2 C295.0,599.5 292.5,603.4 290.0,606.2 C287.5,609.0 284.3,612.0 281.0,615.2 C277.7,618.4 273.8,622.2 270.0,625.2 C266.2,628.2 260.0,631.9 258.0,633.2" fill="none" stroke="#666666" stroke-width="2.5" stroke-linecap="round" stroke-linejoin="round" filter="url(#bl1)"/><ellipse cx="281.0" cy="615.1" rx="7" ry="4.2" fill="#9e9e9e" transform="rotate(-40 281.0 615.1)" filter="url(#bl1)"/><ellipse cx="281.0" cy="615.1" rx="4" ry="2.2" fill="#bfbfbf" transform="rotate(-40 281.0 615.1)" filter="url(#bl1)"/><ellipse cx="257.0" cy="634.2" rx="4.5" ry="3" fill="#6b6b6b" transform="rotate(-40 257.0 634.2)" filter="url(#bl1)"/><ellipse cx="253.5" cy="582.2" rx="6" ry="9" fill="#474747" filter="url(#bl2)"/><ellipse cx="253.5" cy="585.7" rx="2.5" ry="2.5" fill="#737373" filter="url(#bl1)"/></g></g>
<g clip-path="url(#cF11)"><g filter="url(#fireLUT)"><rect x="331.3" y="561.2" width="80" height="79.4" fill="#000"/><path d="M354.3,583.5 C356.3,582.6 362.4,579.9 366.3,578.2 C370.2,576.5 374.6,575.4 377.9,573.2 C381.2,571.0 384.2,567.5 386.3,565.2 C388.4,562.9 389.6,560.2 390.3,559.2" fill="none" stroke="#808080" stroke-width="13" stroke-linecap="round" stroke-linejoin="round" filter="url(#bl2)"/><path d="M356.3,583.5 C358.0,582.6 362.7,579.9 366.3,578.2 C369.9,576.5 374.7,575.2 377.9,573.2 C381.1,571.2 384.1,567.4 385.3,566.2" fill="none" stroke="#bfbfbf" stroke-width="8" stroke-linecap="round" stroke-linejoin="round" filter="url(#bl1)"/><ellipse cx="378.3" cy="572.7" rx="7" ry="4.6" fill="#f2f2f2" transform="rotate(-25 378.3 572.7)" filter="url(#bl1)"/><ellipse cx="378.8" cy="572.7" rx="4" ry="2.6" fill="#ffffff" transform="rotate(-25 378.8 572.7)" filter="url(#bl1)"/><ellipse cx="356.3" cy="583.5" rx="4.5" ry="4" fill="#cccccc" filter="url(#bl1)"/><ellipse cx="393.4" cy="581.5" rx="7.5" ry="7.5" fill="#adadad" filter="url(#bl1)"/><ellipse cx="393.4" cy="581.5" rx="5.2" ry="5.2" fill="#ffffff" filter="url(#bl1)"/><path d="M383.3,590.2 C382.4,591.6 380.2,595.3 377.9,598.3 C375.6,601.3 372.1,605.0 369.3,608.2 C366.5,611.4 364.1,614.3 361.1,617.5 C358.1,620.7 354.3,624.4 351.3,627.2 C348.3,630.0 344.6,633.0 343.3,634.2" fill="none" stroke="#737373" stroke-width="10" stroke-linecap="round" stroke-linejoin="round" filter="url(#bl2)"/><path d="M382.3,591.2 C381.6,592.4 380.1,595.5 377.9,598.3 C375.7,601.1 372.1,605.0 369.3,608.2 C366.5,611.4 364.1,614.3 361.1,617.5 C358.1,620.7 354.1,624.6 351.3,627.2 C348.5,629.8 345.5,632.2 344.3,633.2" fill="none" stroke="#b2b2b2" stroke-width="5.5" stroke-linecap="round" stroke-linejoin="round" filter="url(#bl1)"/><ellipse cx="377.3" cy="599.2" rx="3.5" ry="3.5" fill="#d9d9d9" filter="url(#bl1)"/><ellipse cx="361.3" cy="617.2" rx="3" ry="3" fill="#d1d1d1" filter="url(#bl1)"/><ellipse cx="333.3" cy="575.2" rx="5" ry="10" fill="#4c4c4c" filter="url(#bl2)"/></g></g>
<g clip-path="url(#cF21)"><g filter="url(#fireLUT)"><rect x="412.5" y="561.2" width="80" height="79.4" fill="#000"/><path d="M437.5,583.5 C439.3,582.8 444.9,580.7 448.5,579.2 C452.1,577.7 456.1,576.7 459.3,574.4 C462.5,572.1 465.5,567.7 467.5,565.2 C469.5,562.7 470.8,560.2 471.5,559.2" fill="none" stroke="#808080" stroke-width="13" stroke-linecap="round" stroke-linejoin="round" filter="url(#bl2)"/><path d="M439.5,583.5 C441.0,582.8 445.2,580.7 448.5,579.2 C451.8,577.7 456.3,576.6 459.3,574.4 C462.3,572.2 465.3,567.6 466.5,566.2" fill="none" stroke="#bfbfbf" stroke-width="8" stroke-linecap="round" stroke-linejoin="round" filter="url(#bl1)"/><ellipse cx="460.5" cy="573.7" rx="7" ry="4.6" fill="#f2f2f2" transform="rotate(-25 460.5 573.7)" filter="url(#bl1)"/><ellipse cx="461.0" cy="573.7" rx="4" ry="2.6" fill="#ffffff" transform="rotate(-25 461.0 573.7)" filter="url(#bl1)"/><ellipse cx="439.5" cy="583.5" rx="4.5" ry="4" fill="#cccccc" filter="url(#bl1)"/><ellipse cx="477.2" cy="583.9" rx="7" ry="7" fill="#adadad" filter="url(#bl1)"/><ellipse cx="477.2" cy="583.9" rx="4.8" ry="4.8" fill="#ffffff" filter="url(#bl1)"/><path d="M460.5,597.2 C459.2,598.7 455.5,603.2 452.5,606.2 C449.5,609.2 445.8,612.0 442.5,615.2 C439.2,618.4 435.4,622.0 432.5,625.2 C429.6,628.4 426.2,632.7 425.0,634.2" fill="none" stroke="#737373" stroke-width="9" stroke-linecap="round" stroke-linejoin="round" filter="url(#bl2)"/><path d="M460.5,598.2 C459.2,599.5 455.5,603.4 452.5,606.2 C449.5,609.0 445.8,612.0 442.5,615.2 C439.2,618.4 435.3,622.2 432.5,625.2 C429.7,628.2 426.9,631.9 425.8,633.2" fill="none" stroke="#adadad" stroke-width="4.8" stroke-linecap="round" stroke-linejoin="round" filter="url(#bl1)"/><ellipse cx="459.5" cy="598.7" rx="3.2" ry="3.2" fill="#d9d9d9" filter="url(#bl1)"/><ellipse cx="443.5" cy="614.2" rx="2.8" ry="2.8" fill="#cccccc" filter="url(#bl1)"/><ellipse cx="417.5" cy="573.2" rx="5" ry="9" fill="#474747" filter="url(#bl2)"/></g></g>
<path d="M318.9,606.9 L313.4,599.9 L315.5,598.3 L308.7,596.5 L308.8,603.6 L310.8,601.9 L316.3,608.9Z" fill="#fff"/>
<rect x="276.3" y="638.0" width="52.2" height="1.9" fill="#fff"/>
<text x="328.6" y="634.2" font-size="13.2" text-anchor="end" fill="#fff">0s</text>
<path d="M400.7,604.5 L395.7,598.1 L397.8,596.5 L391.0,594.7 L391.0,601.8 L393.1,600.1 L398.1,606.5Z" fill="#fff"/>
<rect x="357.6" y="638.0" width="52.2" height="1.9" fill="#fff"/>
<text x="409.9" y="634.2" font-size="13.2" text-anchor="end" fill="#fff">10s</text>
<path d="M483.3,603.3 L479.5,598.2 L481.6,596.6 L474.8,594.7 L474.7,601.8 L476.8,600.2 L480.7,605.3Z" fill="#fff"/>
<rect x="438.8" y="638.0" width="52.2" height="1.9" fill="#fff"/>
<text x="491.1" y="634.2" font-size="13.2" text-anchor="end" fill="#fff">20s</text>
<rect x="249.5" y="644" width="243" height="19.6" fill="#000"/>
<text x="288.3" y="658.5" font-size="13.5" fill="#fff"><tspan fill="#6f6ff8">T</tspan><tspan fill="#c454dc">M</tspan><tspan fill="#f0506a">R</tspan><tspan fill="#f0a060">E</tspan> (Δψ<tspan font-size="9" dy="2">m</tspan><tspan dy="-2">), </tspan><tspan fill="#19b04a">Mito</tspan> (OMP25)</text>
<text x="495.1" y="478.4" font-size="22.4" text-anchor="start" fill="#000" font-weight="bold">G</text>
<text x="561" y="475" font-size="13.5" font-weight="bold" fill="#111"><tspan font-family="Liberation Serif" font-size="14.5">ΔΨ</tspan><tspan font-size="9" font-weight="normal" dy="2">m</tspan><tspan dy="-2"> After Fission</tspan></text>
<line x1="556" y1="478" x2="678" y2="478" stroke="#111" stroke-width="1.3"/>
<text x="618" y="498.5" font-size="13.3" text-anchor="middle" fill="#111">100 nM TMRE</text>
<line x1="549.8" y1="505" x2="549.8" y2="651.6" stroke="#222" stroke-width="1.6"/>
<line x1="549" y1="650.8" x2="683.6" y2="650.8" stroke="#222" stroke-width="1.6"/>
<line x1="546.8" y1="505.7" x2="549.8" y2="505.7" stroke="#222" stroke-width="1.2"/>
<text x="544.8" y="509.6" font-size="10.8" text-anchor="end" fill="#333">0.2</text>
<line x1="546.8" y1="547.0" x2="549.8" y2="547.0" stroke="#222" stroke-width="1.2"/>
<text x="544.8" y="550.9" font-size="10.8" text-anchor="end" fill="#333">0.0</text>
<line x1="546.8" y1="588.3" x2="549.8" y2="588.3" stroke="#222" stroke-width="1.2"/>
<text x="544.8" y="592.2" font-size="10.8" text-anchor="end" fill="#333">−0.2</text>
<line x1="546.8" y1="629.6" x2="549.8" y2="629.6" stroke="#222" stroke-width="1.2"/>
<text x="544.8" y="633.5" font-size="10.8" text-anchor="end" fill="#333">−0.4</text>
<line x1="555.6" y1="650.8" x2="555.6" y2="653.8" stroke="#222" stroke-width="1.2"/>
<text x="555.6" y="663.9" font-size="11.2" text-anchor="middle" fill="#333">M</text>
<line x1="596" y1="650.8" x2="596" y2="653.8" stroke="#222" stroke-width="1.2"/>
<text x="596" y="663.9" font-size="11.2" text-anchor="middle" fill="#333">24</text>
<line x1="636.6" y1="650.8" x2="636.6" y2="653.8" stroke="#222" stroke-width="1.2"/>
<text x="636.6" y="663.9" font-size="11.2" text-anchor="middle" fill="#333">48</text>
<line x1="677.2" y1="650.8" x2="677.2" y2="653.8" stroke="#222" stroke-width="1.2"/>
<text x="677.2" y="663.9" font-size="11.2" text-anchor="middle" fill="#333">72</text>
<text transform="translate(517.3,577.4) rotate(-90)" font-size="11" text-anchor="middle" fill="#333">Log<tspan font-size="7.5" dy="2">2</tspan><tspan dy="-2">(Daughter/Parent) TMRE</tspan></text>
<text x="-0.1" y="690.6" font-size="22.4" text-anchor="start" fill="#000" font-weight="bold">H</text>
<text x="191.9" y="715" font-size="16.7" text-anchor="start" fill="#111" font-weight="bold">HCMV Infected</text>
<text x="350.4" y="818.2" font-size="16.8" text-anchor="start" fill="#111">Mitophagy</text>
<text x="262" y="823.5" font-size="11" text-anchor="middle" fill="#222">Peripheral</text>
<text x="262" y="837" font-size="11" text-anchor="middle" fill="#222">fission</text>
<rect x="538.4" y="680.5" width="11" height="11" fill="#4a4a62" stroke="#222" stroke-width="1"/>
<text x="558.4" y="690.5" font-size="11" text-anchor="start" fill="#111">Peripheral</text>
<rect x="625.2" y="680.5" width="11" height="11" fill="#9fb5b5" stroke="#222" stroke-width="1"/>
<text x="642.5" y="690.5" font-size="11" text-anchor="start" fill="#111">Midzone</text>
<text x="621.4" y="713.4" font-size="13.4" text-anchor="middle" fill="#111">25 nM TMRE</text>
<polygon points="555.6,580.0 596.0,542.1 636.6,543.1 677.2,540.6 677.2,570.5 636.6,568.1 596.0,590.0 555.6,640.2" fill="#8c8ca6" fill-opacity="0.38"/>
<polygon points="555.6,550.5 596.0,543.9 636.6,564.4 677.2,556.0 677.2,579.0 636.6,585.5 596.0,559.1 555.6,565.0" fill="#a6c6c2" fill-opacity="0.35"/>
<polyline points="555.6,557.6 596.0,552.3 636.6,575.7 677.2,567.1" fill="none" stroke="#86a8a8" stroke-width="1.2"/>
<polyline points="555.6,609.5 596.0,567.5 636.6,555.6 677.2,555.6" fill="none" stroke="#4a4a72" stroke-width="1.5" stroke-dasharray="4.5,2.8"/>
<circle cx="555.6" cy="557.6" r="3.6" fill="#8faeae" stroke="#fff" stroke-width="1"/>
<circle cx="596.0" cy="552.3" r="3.6" fill="#8faeae" stroke="#fff" stroke-width="1"/>
<circle cx="636.6" cy="575.7" r="3.6" fill="#8faeae" stroke="#fff" stroke-width="1"/>
<circle cx="677.2" cy="567.1" r="3.6" fill="#8faeae" stroke="#fff" stroke-width="1"/>
<path d="M553.4,607.3l4.4,4.4M553.4,611.7l4.4,-4.4" stroke="#fff" stroke-width="2.4"/><path d="M553.4,607.3l4.4,4.4M553.4,611.7l4.4,-4.4" stroke="#3a3a6a" stroke-width="1.2"/>
<path d="M593.8,565.3l4.4,4.4M593.8,569.7l4.4,-4.4" stroke="#fff" stroke-width="2.4"/><path d="M593.8,565.3l4.4,4.4M593.8,569.7l4.4,-4.4" stroke="#3a3a6a" stroke-width="1.2"/>
<path d="M634.4,553.4l4.4,4.4M634.4,557.8l4.4,-4.4" stroke="#fff" stroke-width="2.4"/><path d="M634.4,553.4l4.4,4.4M634.4,557.8l4.4,-4.4" stroke="#3a3a6a" stroke-width="1.2"/>
<path d="M675.0,553.4l4.4,4.4M675.0,557.8l4.4,-4.4" stroke="#fff" stroke-width="2.4"/><path d="M675.0,553.4l4.4,4.4M675.0,557.8l4.4,-4.4" stroke="#3a3a6a" stroke-width="1.2"/>
<text x="562.3" y="554.1" font-size="17.5" text-anchor="middle" fill="#5a9a3a">***</text>
<text x="596" y="550.5" font-size="17.5" text-anchor="middle" fill="#111">*</text>
<text x="636.6" y="558.1" font-size="17.5" text-anchor="middle" fill="#111">**</text>
<text x="677.5" y="558.1" font-size="17.5" text-anchor="middle" fill="#111">**</text>
<line x1="562.3" y1="723.8" x2="562.3" y2="869.8" stroke="#222" stroke-width="1.6"/>
<line x1="561.5" y1="869" x2="679" y2="869" stroke="#222" stroke-width="1.6"/>
<line x1="559.3" y1="725.4" x2="562.3" y2="725.4" stroke="#222" stroke-width="1.2"/>
<text x="558" y="729.9" font-size="12.8" text-anchor="end" fill="#333">0.6</text>
<line x1="559.3" y1="754.2" x2="562.3" y2="754.2" stroke="#222" stroke-width="1.2"/>
<text x="558" y="758.7" font-size="12.8" text-anchor="end" fill="#333">0.4</text>
<line x1="559.3" y1="782.9" x2="562.3" y2="782.9" stroke="#222" stroke-width="1.2"/>
<text x="558" y="787.4" font-size="12.8" text-anchor="end" fill="#333">0.2</text>
<line x1="559.3" y1="811.6" x2="562.3" y2="811.6" stroke="#222" stroke-width="1.2"/>
<text x="558" y="816.1" font-size="12.8" text-anchor="end" fill="#333">0.0</text>
<line x1="559.3" y1="840.3" x2="562.3" y2="840.3" stroke="#222" stroke-width="1.2"/>
<text x="558" y="844.8" font-size="12.8" text-anchor="end" fill="#333">−0.2</text>
<line x1="559.3" y1="869.0" x2="562.3" y2="869.0" stroke="#222" stroke-width="1.2"/>
<text x="558" y="873.5" font-size="12.8" text-anchor="end" fill="#333">−0.4</text>
<line x1="592.6" y1="869" x2="592.6" y2="872" stroke="#222" stroke-width="1.2"/>
<text x="592.6" y="883.5" font-size="12.3" text-anchor="middle" fill="#333">M</text>
<line x1="651.8" y1="869" x2="651.8" y2="872" stroke="#222" stroke-width="1.2"/>
<text x="651.8" y="883.5" font-size="12.3" text-anchor="middle" fill="#333">48hpi</text>
<text transform="translate(526.3,806.5) rotate(-90)" font-size="12.2" text-anchor="middle" fill="#333">Log<tspan font-size="8.2" dy="2.5">2</tspan><tspan dy="-2.5">(Daughter/Parent) TMRE</tspan></text>
<line x1="580.5" y1="783.2" x2="580.5" y2="830.3" stroke="#111" stroke-width="1.2"/>
<line x1="574.2" y1="783.2" x2="586.8" y2="783.2" stroke="#111" stroke-width="1.4"/>
<line x1="574.2" y1="830.3" x2="586.8" y2="830.3" stroke="#111" stroke-width="1.4"/>
<rect x="568.7" y="799.3" width="23.6" height="14.2" fill="#9fb5b5" stroke="#333" stroke-width="1"/>
<line x1="568.7" y1="807" x2="592.3" y2="807" stroke="#333" stroke-width="1"/>
<circle cx="579.2" cy="807.0" r="0.9" fill="#2a2a2a" fill-opacity="0.75"/><circle cx="576.2" cy="812.7" r="0.9" fill="#2a2a2a" fill-opacity="0.75"/><circle cx="578.1" cy="811.2" r="0.9" fill="#2a2a2a" fill-opacity="0.75"/><circle cx="580.2" cy="813.4" r="0.9" fill="#2a2a2a" fill-opacity="0.75"/><circle cx="581.9" cy="805.6" r="0.9" fill="#2a2a2a" fill-opacity="0.75"/><circle cx="584.2" cy="808.3" r="0.9" fill="#2a2a2a" fill-opacity="0.75"/><circle cx="582.2" cy="809.8" r="0.9" fill="#2a2a2a" fill-opacity="0.75"/><circle cx="581.4" cy="810.1" r="0.9" fill="#2a2a2a" fill-opacity="0.75"/><circle cx="584.2" cy="799.7" r="0.9" fill="#2a2a2a" fill-opacity="0.75"/><circle cx="584.3" cy="809.5" r="0.9" fill="#2a2a2a" fill-opacity="0.75"/><circle cx="579.4" cy="826.6" r="0.9" fill="#2a2a2a" fill-opacity="0.75"/><circle cx="584.9" cy="804.1" r="0.9" fill="#2a2a2a" fill-opacity="0.75"/><circle cx="576.9" cy="787.8" r="0.9" fill="#2a2a2a" fill-opacity="0.75"/><circle cx="579.9" cy="813.0" r="0.9" fill="#2a2a2a" fill-opacity="0.75"/><circle cx="580.6" cy="797.4" r="0.9" fill="#2a2a2a" fill-opacity="0.75"/><circle cx="581.4" cy="804.3" r="0.9" fill="#2a2a2a" fill-opacity="0.75"/><circle cx="582.3" cy="812.1" r="0.9" fill="#2a2a2a" fill-opacity="0.75"/><circle cx="585.4" cy="823.5" r="0.9" fill="#2a2a2a" fill-opacity="0.75"/><circle cx="584.1" cy="790.9" r="0.9" fill="#2a2a2a" fill-opacity="0.75"/><circle cx="581.2" cy="825.8" r="0.9" fill="#2a2a2a" fill-opacity="0.75"/><circle cx="583.8" cy="793.1" r="0.9" fill="#2a2a2a" fill-opacity="0.75"/><circle cx="576.1" cy="803.3" r="0.9" fill="#2a2a2a" fill-opacity="0.75"/><circle cx="576.4" cy="829.8" r="0.9" fill="#2a2a2a" fill-opacity="0.75"/><circle cx="577.0" cy="802.5" r="0.9" fill="#2a2a2a" fill-opacity="0.75"/><circle cx="584.2" cy="810.2" r="0.9" fill="#2a2a2a" fill-opacity="0.75"/><circle cx="575.9" cy="808.0" r="0.9" fill="#2a2a2a" fill-opacity="0.75"/><circle cx="584.3" cy="798.8" r="0.9" fill="#2a2a2a" fill-opacity="0.75"/><circle cx="585.5" cy="807.0" r="0.9" fill="#2a2a2a" fill-opacity="0.75"/><circle cx="581.5" cy="800.4" r="0.9" fill="#2a2a2a" fill-opacity="0.75"/><circle cx="579.6" cy="802.1" r="0.9" fill="#2a2a2a" fill-opacity="0.75"/><circle cx="575.9" cy="790.6" r="0.9" fill="#2a2a2a" fill-opacity="0.75"/><circle cx="585.1" cy="798.0" r="0.9" fill="#2a2a2a" fill-opacity="0.75"/><circle cx="580.1" cy="801.0" r="0.9" fill="#2a2a2a" fill-opacity="0.75"/><circle cx="581.5" cy="808.4" r="0.9" fill="#2a2a2a" fill-opacity="0.75"/><circle cx="584.9" cy="808.1" r="0.9" fill="#2a2a2a" fill-opacity="0.75"/><circle cx="582.7" cy="805.4" r="0.9" fill="#2a2a2a" fill-opacity="0.75"/><circle cx="585.3" cy="803.6" r="0.9" fill="#2a2a2a" fill-opacity="0.75"/><circle cx="575.6" cy="807.1" r="0.9" fill="#2a2a2a" fill-opacity="0.75"/><circle cx="575.7" cy="807.5" r="0.9" fill="#2a2a2a" fill-opacity="0.75"/><circle cx="576.1" cy="813.0" r="0.9" fill="#2a2a2a" fill-opacity="0.75"/><circle cx="582.3" cy="805.2" r="0.9" fill="#2a2a2a" fill-opacity="0.75"/><circle cx="582.9" cy="809.3" r="0.9" fill="#2a2a2a" fill-opacity="0.75"/><circle cx="582.3" cy="800.2" r="0.9" fill="#2a2a2a" fill-opacity="0.75"/><circle cx="580.1" cy="795.0" r="0.9" fill="#2a2a2a" fill-opacity="0.75"/><circle cx="579.1" cy="803.8" r="0.9" fill="#2a2a2a" fill-opacity="0.75"/><circle cx="581.5" cy="804.5" r="0.9" fill="#2a2a2a" fill-opacity="0.75"/><circle cx="583.2" cy="804.7" r="0.9" fill="#2a2a2a" fill-opacity="0.75"/><circle cx="582.9" cy="807.4" r="0.9" fill="#2a2a2a" fill-opacity="0.75"/><circle cx="583.5" cy="802.5" r="0.9" fill="#2a2a2a" fill-opacity="0.75"/><circle cx="579.9" cy="802.0" r="0.9" fill="#2a2a2a" fill-opacity="0.75"/><circle cx="578.7" cy="788.0" r="0.9" fill="#2a2a2a" fill-opacity="0.75"/><circle cx="579.9" cy="811.1" r="0.9" fill="#2a2a2a" fill-opacity="0.75"/><circle cx="578.9" cy="791.2" r="0.9" fill="#2a2a2a" fill-opacity="0.75"/><circle cx="580.0" cy="824.9" r="0.9" fill="#2a2a2a" fill-opacity="0.75"/><circle cx="580.8" cy="801.0" r="0.9" fill="#2a2a2a" fill-opacity="0.75"/><circle cx="583.9" cy="810.8" r="0.9" fill="#2a2a2a" fill-opacity="0.75"/><circle cx="583.6" cy="803.3" r="0.9" fill="#2a2a2a" fill-opacity="0.75"/><circle cx="579.0" cy="821.2" r="0.9" fill="#2a2a2a" fill-opacity="0.75"/><circle cx="583.4" cy="803.4" r="0.9" fill="#2a2a2a" fill-opacity="0.75"/><circle cx="579.7" cy="804.2" r="0.9" fill="#2a2a2a" fill-opacity="0.75"/><circle cx="584.7" cy="805.1" r="0.9" fill="#2a2a2a" fill-opacity="0.75"/><circle cx="584.9" cy="799.4" r="0.9" fill="#2a2a2a" fill-opacity="0.75"/><circle cx="579.8" cy="829.7" r="0.9" fill="#2a2a2a" fill-opacity="0.75"/><circle cx="577.7" cy="826.9" r="0.9" fill="#2a2a2a" fill-opacity="0.75"/><circle cx="582.1" cy="822.6" r="0.9" fill="#2a2a2a" fill-opacity="0.75"/><circle cx="578.9" cy="803.4" r="0.9" fill="#2a2a2a" fill-opacity="0.75"/><circle cx="581.4" cy="800.3" r="0.9" fill="#2a2a2a" fill-opacity="0.75"/><circle cx="576.0" cy="810.8" r="0.9" fill="#2a2a2a" fill-opacity="0.75"/><circle cx="584.7" cy="815.9" r="0.9" fill="#2a2a2a" fill-opacity="0.75"/><circle cx="581.3" cy="825.6" r="0.9" fill="#2a2a2a" fill-opacity="0.75"/><circle cx="577.2" cy="809.9" r="0.9" fill="#2a2a2a" fill-opacity="0.75"/><circle cx="580.7" cy="808.7" r="0.9" fill="#2a2a2a" fill-opacity="0.75"/><circle cx="581.6" cy="812.6" r="0.9" fill="#2a2a2a" fill-opacity="0.75"/><circle cx="584.1" cy="802.9" r="0.9" fill="#2a2a2a" fill-opacity="0.75"/><circle cx="579.0" cy="810.4" r="0.9" fill="#2a2a2a" fill-opacity="0.75"/>
<line x1="604.7" y1="796.5" x2="604.7" y2="834.9" stroke="#111" stroke-width="1.2"/>
<line x1="598.4" y1="796.5" x2="611.0" y2="796.5" stroke="#111" stroke-width="1.4"/>
<line x1="598.4" y1="834.9" x2="611.0" y2="834.9" stroke="#111" stroke-width="1.4"/>
<rect x="593.3" y="809.9" width="22.8" height="17.1" fill="#4a4a65" stroke="#333" stroke-width="1"/>
<line x1="593.3" y1="816" x2="616.1" y2="816" stroke="#333" stroke-width="1"/>
<circle cx="607.9" cy="819.0" r="0.9" fill="#2a2a2a" fill-opacity="0.75"/><circle cx="608.9" cy="823.4" r="0.9" fill="#2a2a2a" fill-opacity="0.75"/><circle cx="599.8" cy="828.1" r="0.9" fill="#2a2a2a" fill-opacity="0.75"/><circle cx="600.2" cy="829.6" r="0.9" fill="#2a2a2a" fill-opacity="0.75"/><circle cx="605.0" cy="814.5" r="0.9" fill="#2a2a2a" fill-opacity="0.75"/><circle cx="607.5" cy="818.0" r="0.9" fill="#2a2a2a" fill-opacity="0.75"/><circle cx="601.0" cy="810.8" r="0.9" fill="#2a2a2a" fill-opacity="0.75"/><circle cx="609.4" cy="811.1" r="0.9" fill="#2a2a2a" fill-opacity="0.75"/><circle cx="604.7" cy="799.8" r="0.9" fill="#2a2a2a" fill-opacity="0.75"/><circle cx="603.2" cy="815.3" r="0.9" fill="#2a2a2a" fill-opacity="0.75"/><circle cx="603.3" cy="819.0" r="0.9" fill="#2a2a2a" fill-opacity="0.75"/><circle cx="600.9" cy="815.5" r="0.9" fill="#2a2a2a" fill-opacity="0.75"/><circle cx="603.5" cy="822.1" r="0.9" fill="#2a2a2a" fill-opacity="0.75"/><circle cx="603.4" cy="813.0" r="0.9" fill="#2a2a2a" fill-opacity="0.75"/><circle cx="603.5" cy="826.6" r="0.9" fill="#2a2a2a" fill-opacity="0.75"/><circle cx="604.0" cy="820.4" r="0.9" fill="#2a2a2a" fill-opacity="0.75"/>
<line x1="639.8" y1="792.3" x2="639.8" y2="836.1" stroke="#111" stroke-width="1.2"/>
<line x1="633.5" y1="792.3" x2="646.1" y2="792.3" stroke="#111" stroke-width="1.4"/>
<line x1="633.5" y1="836.1" x2="646.1" y2="836.1" stroke="#111" stroke-width="1.4"/>
<rect x="628.4" y="803.5" width="22.9" height="16.2" fill="#9fb5b5" stroke="#333" stroke-width="1"/>
<line x1="628.4" y1="809.9" x2="651.3" y2="809.9" stroke="#333" stroke-width="1"/>
<circle cx="641.9" cy="811.5" r="0.9" fill="#2a2a2a" fill-opacity="0.75"/><circle cx="639.5" cy="814.7" r="0.9" fill="#2a2a2a" fill-opacity="0.75"/><circle cx="641.8" cy="812.2" r="0.9" fill="#2a2a2a" fill-opacity="0.75"/><circle cx="639.1" cy="810.4" r="0.9" fill="#2a2a2a" fill-opacity="0.75"/><circle cx="638.6" cy="833.3" r="0.9" fill="#2a2a2a" fill-opacity="0.75"/><circle cx="637.5" cy="826.9" r="0.9" fill="#2a2a2a" fill-opacity="0.75"/><circle cx="643.0" cy="805.5" r="0.9" fill="#2a2a2a" fill-opacity="0.75"/><circle cx="642.8" cy="831.2" r="0.9" fill="#2a2a2a" fill-opacity="0.75"/><circle cx="640.5" cy="824.4" r="0.9" fill="#2a2a2a" fill-opacity="0.75"/><circle cx="634.9" cy="813.0" r="0.9" fill="#2a2a2a" fill-opacity="0.75"/><circle cx="635.3" cy="816.0" r="0.9" fill="#2a2a2a" fill-opacity="0.75"/><circle cx="643.7" cy="805.1" r="0.9" fill="#2a2a2a" fill-opacity="0.75"/><circle cx="643.3" cy="803.9" r="0.9" fill="#2a2a2a" fill-opacity="0.75"/><circle cx="641.6" cy="817.2" r="0.9" fill="#2a2a2a" fill-opacity="0.75"/><circle cx="640.6" cy="834.0" r="0.9" fill="#2a2a2a" fill-opacity="0.75"/><circle cx="642.5" cy="793.9" r="0.9" fill="#2a2a2a" fill-opacity="0.75"/><circle cx="635.9" cy="815.1" r="0.9" fill="#2a2a2a" fill-opacity="0.75"/><circle cx="635.5" cy="833.2" r="0.9" fill="#2a2a2a" fill-opacity="0.75"/><circle cx="643.1" cy="812.6" r="0.9" fill="#2a2a2a" fill-opacity="0.75"/><circle cx="637.3" cy="806.4" r="0.9" fill="#2a2a2a" fill-opacity="0.75"/><circle cx="638.8" cy="825.3" r="0.9" fill="#2a2a2a" fill-opacity="0.75"/><circle cx="638.4" cy="809.9" r="0.9" fill="#2a2a2a" fill-opacity="0.75"/><circle cx="639.9" cy="804.8" r="0.9" fill="#2a2a2a" fill-opacity="0.75"/><circle cx="642.3" cy="810.4" r="0.9" fill="#2a2a2a" fill-opacity="0.75"/><circle cx="642.4" cy="814.7" r="0.9" fill="#2a2a2a" fill-opacity="0.75"/><circle cx="639.7" cy="814.9" r="0.9" fill="#2a2a2a" fill-opacity="0.75"/><circle cx="636.3" cy="831.6" r="0.9" fill="#2a2a2a" fill-opacity="0.75"/><circle cx="644.0" cy="815.6" r="0.9" fill="#2a2a2a" fill-opacity="0.75"/><circle cx="642.0" cy="810.7" r="0.9" fill="#2a2a2a" fill-opacity="0.75"/><circle cx="636.8" cy="807.8" r="0.9" fill="#2a2a2a" fill-opacity="0.75"/><circle cx="637.2" cy="808.6" r="0.9" fill="#2a2a2a" fill-opacity="0.75"/><circle cx="637.8" cy="834.1" r="0.9" fill="#2a2a2a" fill-opacity="0.75"/><circle cx="643.4" cy="810.4" r="0.9" fill="#2a2a2a" fill-opacity="0.75"/><circle cx="637.0" cy="807.8" r="0.9" fill="#2a2a2a" fill-opacity="0.75"/><circle cx="638.7" cy="811.3" r="0.9" fill="#2a2a2a" fill-opacity="0.75"/><circle cx="638.1" cy="809.3" r="0.9" fill="#2a2a2a" fill-opacity="0.75"/><circle cx="644.8" cy="798.6" r="0.9" fill="#2a2a2a" fill-opacity="0.75"/><circle cx="639.5" cy="813.2" r="0.9" fill="#2a2a2a" fill-opacity="0.75"/><circle cx="640.4" cy="828.3" r="0.9" fill="#2a2a2a" fill-opacity="0.75"/><circle cx="643.4" cy="815.2" r="0.9" fill="#2a2a2a" fill-opacity="0.75"/>
<line x1="663.6" y1="767.7" x2="663.6" y2="840" stroke="#111" stroke-width="1.2"/>
<line x1="657.4" y1="767.7" x2="669.9" y2="767.7" stroke="#111" stroke-width="1.4"/>
<line x1="657.4" y1="840" x2="669.9" y2="840" stroke="#111" stroke-width="1.4"/>
<rect x="652.3" y="792.3" width="22.7" height="20.1" fill="#4a4a65" stroke="#333" stroke-width="1"/>
<line x1="652.3" y1="801.5" x2="675.0" y2="801.5" stroke="#333" stroke-width="1"/>
<circle cx="668.3" cy="807.0" r="0.9" fill="#2a2a2a" fill-opacity="0.75"/><circle cx="661.0" cy="796.9" r="0.9" fill="#2a2a2a" fill-opacity="0.75"/><circle cx="668.2" cy="816.5" r="0.9" fill="#2a2a2a" fill-opacity="0.75"/><circle cx="660.5" cy="785.2" r="0.9" fill="#2a2a2a" fill-opacity="0.75"/><circle cx="665.7" cy="796.1" r="0.9" fill="#2a2a2a" fill-opacity="0.75"/><circle cx="661.2" cy="832.8" r="0.9" fill="#2a2a2a" fill-opacity="0.75"/><circle cx="662.9" cy="790.4" r="0.9" fill="#2a2a2a" fill-opacity="0.75"/><circle cx="659.6" cy="773.9" r="0.9" fill="#2a2a2a" fill-opacity="0.75"/><circle cx="662.2" cy="788.8" r="0.9" fill="#2a2a2a" fill-opacity="0.75"/><circle cx="658.7" cy="805.9" r="0.9" fill="#2a2a2a" fill-opacity="0.75"/><circle cx="663.5" cy="801.1" r="0.9" fill="#2a2a2a" fill-opacity="0.75"/><circle cx="668.2" cy="804.1" r="0.9" fill="#2a2a2a" fill-opacity="0.75"/><circle cx="659.8" cy="803.2" r="0.9" fill="#2a2a2a" fill-opacity="0.75"/><circle cx="659.8" cy="805.7" r="0.9" fill="#2a2a2a" fill-opacity="0.75"/><circle cx="659.6" cy="833.4" r="0.9" fill="#2a2a2a" fill-opacity="0.75"/><circle cx="666.4" cy="794.8" r="0.9" fill="#2a2a2a" fill-opacity="0.75"/><circle cx="665.4" cy="789.1" r="0.9" fill="#2a2a2a" fill-opacity="0.75"/><circle cx="661.3" cy="826.0" r="0.9" fill="#2a2a2a" fill-opacity="0.75"/><circle cx="665.4" cy="837.2" r="0.9" fill="#2a2a2a" fill-opacity="0.75"/><circle cx="663.6" cy="794.6" r="0.9" fill="#2a2a2a" fill-opacity="0.75"/><circle cx="665.4" cy="806.7" r="0.9" fill="#2a2a2a" fill-opacity="0.75"/><circle cx="665.1" cy="796.0" r="0.9" fill="#2a2a2a" fill-opacity="0.75"/>
<circle cx="580.6" cy="762.4" r="1" fill="#2a2a2a"/>
<circle cx="579.2" cy="776.5" r="1" fill="#2a2a2a"/>
<circle cx="582" cy="777" r="1" fill="#2a2a2a"/>
<circle cx="580.6" cy="835.8" r="1" fill="#2a2a2a"/>
<circle cx="580.6" cy="838.5" r="1" fill="#2a2a2a"/>
<circle cx="639.8" cy="774.3" r="1" fill="#2a2a2a"/>
<circle cx="639.8" cy="844.5" r="1" fill="#2a2a2a"/>
<circle cx="663.6" cy="736.4" r="1" fill="#2a2a2a"/>
<circle cx="663.6" cy="844.5" r="1" fill="#2a2a2a"/>
<text x="604.3" y="799.7" font-size="17" text-anchor="middle" fill="#5aa03a">**</text>
<text x="663.6" y="771.5" font-size="17" text-anchor="middle" fill="#111">*</text>
<defs><clipPath id="mitoClip"><path d="M38.0,734.0 C39.0,731.9 41.1,729.2 44.6,727.5 C48.1,725.8 53.1,724.9 59.2,723.9 C65.3,722.9 73.8,721.5 81.1,721.4 C88.4,721.3 98.2,722.6 103.0,723.1 C107.8,723.6 106.8,723.2 110.0,724.1 C113.2,725.0 117.9,726.2 122.3,728.2 C126.7,730.2 131.8,732.9 136.6,736.3 C141.4,739.7 146.1,744.5 150.9,748.6 C155.7,752.7 160.8,757.3 165.2,760.9 C169.6,764.5 173.0,767.9 177.4,770.1 C181.8,772.3 187.6,773.4 191.7,774.2 C195.8,775.0 198.2,774.8 202.0,774.8 C205.8,774.8 210.5,774.8 214.2,774.5 C217.9,774.2 220.7,773.2 224.4,773.2 C228.2,773.2 233.5,773.8 236.7,774.6 C239.9,775.4 241.9,776.7 243.5,778.0 C245.1,779.3 246.0,781.0 246.2,782.5 C246.4,784.0 246.1,785.7 244.5,787.0 C242.9,788.3 240.0,789.4 236.7,790.5 C233.3,791.6 228.2,792.5 224.4,793.6 C220.7,794.7 217.6,796.4 214.2,797.3 C210.8,798.1 207.8,798.3 204.0,798.7 C200.2,799.1 195.8,799.7 191.7,799.7 C187.6,799.7 183.6,799.7 179.5,798.7 C175.4,797.7 172.0,796.5 167.2,793.6 C162.4,790.7 156.0,785.4 150.9,781.3 C145.8,777.2 141.4,773.1 136.6,769.0 C131.8,764.9 126.7,759.8 122.3,756.8 C117.9,753.8 113.2,752.2 110.0,750.7 C106.8,749.2 107.8,748.4 103.0,747.5 C98.2,746.6 88.4,745.7 81.1,745.5 C73.8,745.3 65.3,746.6 59.2,746.5 C53.1,746.4 48.0,746.1 44.6,745.0 C41.2,743.9 39.7,741.8 38.6,740.0 C37.5,738.2 37.0,736.1 38.0,734.0Z"/></clipPath></defs>
<path d="M38.0,734.0 C39.0,731.9 41.1,729.2 44.6,727.5 C48.1,725.8 53.1,724.9 59.2,723.9 C65.3,722.9 73.8,721.5 81.1,721.4 C88.4,721.3 98.2,722.6 103.0,723.1 C107.8,723.6 106.8,723.2 110.0,724.1 C113.2,725.0 117.9,726.2 122.3,728.2 C126.7,730.2 131.8,732.9 136.6,736.3 C141.4,739.7 146.1,744.5 150.9,748.6 C155.7,752.7 160.8,757.3 165.2,760.9 C169.6,764.5 173.0,767.9 177.4,770.1 C181.8,772.3 187.6,773.4 191.7,774.2 C195.8,775.0 198.2,774.8 202.0,774.8 C205.8,774.8 210.5,774.8 214.2,774.5 C217.9,774.2 220.7,773.2 224.4,773.2 C228.2,773.2 233.5,773.8 236.7,774.6 C239.9,775.4 241.9,776.7 243.5,778.0 C245.1,779.3 246.0,781.0 246.2,782.5 C246.4,784.0 246.1,785.7 244.5,787.0 C242.9,788.3 240.0,789.4 236.7,790.5 C233.3,791.6 228.2,792.5 224.4,793.6 C220.7,794.7 217.6,796.4 214.2,797.3 C210.8,798.1 207.8,798.3 204.0,798.7 C200.2,799.1 195.8,799.7 191.7,799.7 C187.6,799.7 183.6,799.7 179.5,798.7 C175.4,797.7 172.0,796.5 167.2,793.6 C162.4,790.7 156.0,785.4 150.9,781.3 C145.8,777.2 141.4,773.1 136.6,769.0 C131.8,764.9 126.7,759.8 122.3,756.8 C117.9,753.8 113.2,752.2 110.0,750.7 C106.8,749.2 107.8,748.4 103.0,747.5 C98.2,746.6 88.4,745.7 81.1,745.5 C73.8,745.3 65.3,746.6 59.2,746.5 C53.1,746.4 48.0,746.1 44.6,745.0 C41.2,743.9 39.7,741.8 38.6,740.0 C37.5,738.2 37.0,736.1 38.0,734.0Z" fill="#c55a11"/>
<path d="M42.0,734.3 C42.6,733.1 44.3,732.1 45.4,731.5 C46.5,730.9 47.7,730.9 48.8,730.7 C49.9,730.4 51.1,730.1 52.2,729.8 C53.4,729.5 54.5,729.3 55.6,729.0 C56.8,728.7 57.9,728.3 59.0,728.1 C60.2,727.9 61.3,727.9 62.4,727.7 C63.6,727.6 64.7,727.5 65.8,727.3 C67.0,727.2 68.1,727.1 69.3,727.0 C70.4,726.8 71.5,726.7 72.7,726.6 C73.8,726.4 74.9,726.3 76.1,726.2 C77.2,726.0 78.3,725.9 79.5,725.8 C80.6,725.7 81.7,725.7 82.9,725.7 C84.0,725.8 85.2,725.9 86.3,726.0 C87.4,726.1 88.6,726.2 89.7,726.3 C90.8,726.4 92.0,726.4 93.1,726.5 C94.2,726.6 95.4,726.7 96.5,726.8 C97.6,726.9 98.8,727.0 99.9,727.1 C101.1,727.2 102.2,727.2 103.3,727.3 C104.5,727.5 105.6,727.7 106.7,727.8 C107.9,728.0 109.0,728.1 110.1,728.3 C111.3,728.6 112.4,729.1 113.5,729.5 C114.7,729.9 115.8,730.2 116.9,730.6 C118.1,731.0 119.2,731.3 120.4,731.8 C121.5,732.2 122.6,732.7 123.8,733.2 C124.9,733.8 126.0,734.5 127.2,735.2 C128.3,735.8 129.4,736.4 130.6,737.1 C131.7,737.7 132.8,738.3 134.0,739.0 C135.1,739.7 136.3,740.3 137.4,741.2 C138.5,742.0 139.7,743.1 140.8,744.1 C141.9,745.1 143.1,746.1 144.2,747.0 C145.3,748.0 146.5,749.0 147.6,750.0 C148.7,750.9 149.9,751.9 151.0,752.9 C152.2,753.9 153.3,754.9 154.4,755.8 C155.6,756.8 156.7,757.8 157.8,758.8 C159.0,759.7 160.1,760.7 161.2,761.7 C162.4,762.7 163.5,763.7 164.6,764.6 C165.8,765.5 166.9,766.4 168.1,767.2 C169.2,768.1 170.3,769.0 171.5,769.8 C172.6,770.7 173.7,771.6 174.9,772.4 C176.0,773.2 177.1,774.0 178.3,774.5 C179.4,775.1 180.5,775.2 181.7,775.5 C182.8,775.9 183.9,776.2 185.1,776.5 C186.2,776.8 187.4,777.2 188.5,777.5 C189.6,777.8 190.8,778.2 191.9,778.4 C193.0,778.6 194.2,778.5 195.3,778.6 C196.4,778.7 197.6,778.7 198.7,778.8 C199.8,778.9 201.0,779.0 202.1,779.0 C203.3,779.0 204.4,778.9 205.5,778.9 C206.7,778.9 207.8,778.9 208.9,778.8 C210.1,778.8 211.2,778.8 212.3,778.7 C213.5,778.7 214.6,778.6 215.7,778.5 C216.9,778.4 218.0,778.2 219.2,778.1 C220.3,777.9 221.4,777.7 222.6,777.6 C223.7,777.6 224.8,777.5 226.0,777.6 C227.1,777.6 228.2,777.8 229.4,778.0 C230.5,778.1 231.6,778.2 232.8,778.4 C233.9,778.5 235.1,778.4 236.2,778.7 C237.3,779.1 238.5,779.7 239.6,780.2 C240.7,780.8 242.4,781.4 243.0,782.0 C243.6,782.5 243.6,783.0 243.0,783.5 C242.4,784.0 240.7,784.5 239.6,785.0 C238.5,785.5 237.3,786.0 236.2,786.4 C235.1,786.8 233.9,787.0 232.8,787.3 C231.6,787.6 230.5,787.9 229.4,788.1 C228.2,788.4 227.1,788.7 226.0,789.0 C224.8,789.3 223.7,789.7 222.6,790.1 C221.4,790.5 220.3,790.9 219.2,791.3 C218.0,791.7 216.9,792.2 215.7,792.5 C214.6,792.9 213.5,793.1 212.3,793.4 C211.2,793.6 210.1,793.7 208.9,793.8 C207.8,794.0 206.7,794.2 205.5,794.3 C204.4,794.4 203.3,794.5 202.1,794.7 C201.0,794.8 199.8,794.8 198.7,794.9 C197.6,795.0 196.4,795.1 195.3,795.2 C194.2,795.3 193.0,795.5 191.9,795.5 C190.8,795.5 189.6,795.3 188.5,795.2 C187.4,795.1 186.2,795.1 185.1,795.0 C183.9,794.9 182.8,794.8 181.7,794.7 C180.5,794.5 179.4,794.3 178.3,794.0 C177.1,793.6 176.0,793.0 174.9,792.6 C173.7,792.1 172.6,791.6 171.5,791.2 C170.3,790.7 169.2,790.4 168.1,789.8 C166.9,789.1 165.8,788.3 164.6,787.5 C163.5,786.7 162.4,785.8 161.2,784.9 C160.1,784.0 159.0,783.2 157.8,782.3 C156.7,781.5 155.6,780.6 154.4,779.8 C153.3,778.9 152.2,778.1 151.0,777.2 C149.9,776.3 148.7,775.2 147.6,774.3 C146.5,773.3 145.3,772.3 144.2,771.3 C143.1,770.4 141.9,769.4 140.8,768.4 C139.7,767.4 138.5,766.5 137.4,765.5 C136.3,764.5 135.1,763.5 134.0,762.6 C132.8,761.6 131.7,760.6 130.6,759.7 C129.4,758.7 128.3,757.7 127.2,756.8 C126.0,755.8 124.9,754.7 123.8,753.8 C122.6,753.0 121.5,752.3 120.4,751.6 C119.2,751.0 118.1,750.5 116.9,749.9 C115.8,749.4 114.7,748.8 113.5,748.3 C112.4,747.7 111.3,747.1 110.1,746.6 C109.0,746.0 107.9,745.5 106.7,745.0 C105.6,744.5 104.5,743.8 103.3,743.4 C102.2,743.1 101.1,743.1 99.9,743.0 C98.8,742.9 97.6,742.8 96.5,742.7 C95.4,742.6 94.2,742.5 93.1,742.4 C92.0,742.3 90.8,742.2 89.7,742.1 C88.6,742.0 87.4,741.9 86.3,741.8 C85.2,741.7 84.0,741.5 82.9,741.5 C81.7,741.4 80.6,741.4 79.5,741.4 C78.3,741.4 77.2,741.5 76.1,741.5 C74.9,741.6 73.8,741.6 72.7,741.7 C71.5,741.7 70.4,741.8 69.3,741.8 C68.1,741.9 67.0,741.9 65.8,742.0 C64.7,742.0 63.6,742.1 62.4,742.2 C61.3,742.2 60.2,742.3 59.0,742.3 C57.9,742.2 56.8,742.0 55.6,741.9 C54.5,741.8 53.4,741.7 52.2,741.6 C51.1,741.5 49.9,741.3 48.8,741.2 C47.7,741.1 46.5,741.3 45.4,740.9 C44.3,740.4 42.6,739.7 42.0,738.6 C41.4,737.5 41.4,735.4 42.0,734.3Z" fill="#f4b183"/>
<path d="M43.7,731.0 L46.3,731.0 L47.2,738.5Z M48.7,742.0 L51.3,742.0 L49.4,733.7Z M53.7,728.5 L56.3,728.5 L57.2,738.6Z M58.7,742.9 L61.3,742.9 L59.4,732.4Z M63.7,726.8 L66.3,726.8 L67.2,738.2Z M68.7,742.4 L71.3,742.4 L69.4,731.4Z M73.7,725.7 L76.3,725.7 L77.2,737.6Z M78.7,742.0 L81.3,742.0 L79.4,730.5Z M83.7,725.3 L86.3,725.3 L87.2,737.5Z M88.7,742.7 L91.3,742.7 L89.4,731.1Z M93.7,726.1 L96.3,726.1 L97.2,738.4Z M98.7,743.6 L101.3,743.6 L99.4,732.0Z M103.7,727.0 L106.3,727.0 L107.2,739.8Z M108.7,747.1 L111.3,747.1 L109.4,733.9Z M113.7,729.4 L116.3,729.4 L117.2,743.9Z M118.7,752.1 L121.3,752.1 L119.4,737.8Z M123.7,733.3 L126.3,733.3 L127.2,749.3Z M128.7,759.8 L131.3,759.8 L129.4,743.7Z M133.7,739.0 L136.3,739.0 L137.2,757.0Z M138.7,768.3 L141.3,768.3 L139.4,751.0Z M143.7,747.1 L146.3,747.1 L147.2,765.5Z M148.7,776.9 L151.3,776.9 L149.4,759.6Z M153.7,755.7 L156.3,755.7 L157.2,773.8Z M158.7,784.6 L161.3,784.6 L159.4,767.9Z M163.7,764.3 L166.3,764.3 L167.2,781.6Z M168.7,791.2 L171.3,791.2 L169.4,775.5Z M173.7,771.9 L176.3,771.9 L177.2,787.3Z M178.7,795.1 L181.3,795.1 L179.4,781.1Z M183.7,775.9 L186.3,775.9 L187.2,790.0Z M188.7,796.0 L191.3,796.0 L189.4,783.3Z M193.7,778.0 L196.3,778.0 L197.2,790.8Z M198.7,795.4 L201.3,795.4 L199.4,783.8Z M203.7,778.3 L206.3,778.3 L207.2,790.3Z M208.7,794.3 L211.3,794.3 L209.4,783.3Z M213.7,778.0 L216.3,778.0 L217.2,789.1Z M218.7,791.6 L221.3,791.6 L219.4,781.9Z M223.7,776.9 L226.3,776.9 L227.2,786.2Z M228.7,788.6 L231.3,788.6 L229.4,781.0Z M233.7,778.0 L236.3,778.0 L237.2,784.7Z M238.7,785.4 L241.3,785.4 L239.4,781.6Z" fill="#c55a11" clip-path="url(#mitoClip)"/>
<path d="M206.8,763.5 Q207.5,761.0 208.8,760.2 Q210.0,759.4 212.0,759.6 Q214.0,759.8 215.2,761.3 Q216.3,762.9 215.4,766.5 Q214.6,770.0 214.0,775.6 Q213.4,781.3 213.6,788.1 Q213.8,795.0 214.1,800.4 Q214.3,805.7 212.7,808.9 Q211.0,812.0 209.7,815.0 Q208.4,818.0 208.4,821.0 Q208.4,824.0 202.2,824.8 Q196.0,825.5 205.5,827.2 Q215.0,829.0 227.2,830.5 Q239.5,832.0 232.2,833.5 Q225.0,835.0 220.8,836.8 Q216.5,838.5 218.0,844.2 Q219.5,850.0 220.9,856.0 Q222.3,862.0 223.4,867.0 Q224.6,872.0 223.9,874.9 Q223.2,877.8 221.1,878.5 Q219.0,879.2 216.9,878.1 Q214.8,877.0 213.9,872.5 Q213.0,868.0 212.0,861.5 Q211.0,855.0 210.2,849.0 Q209.5,843.0 206.2,840.8 Q203.0,838.5 199.0,837.5 Q195.0,836.5 192.5,837.6 Q190.0,838.8 189.2,835.9 Q188.4,833.0 182.2,831.5 Q176.0,830.0 168.0,831.8 Q160.0,833.5 152.5,837.0 Q145.0,840.5 139.6,843.5 Q134.2,846.4 137.6,841.5 Q141.0,836.5 145.0,829.8 Q149.0,823.0 142.5,817.0 Q136.0,811.0 127.8,806.6 Q119.7,802.3 125.3,802.8 Q131.0,803.2 135.8,801.8 Q140.7,800.4 145.3,804.2 Q150.0,808.0 157.5,811.5 Q165.0,815.0 170.5,816.0 Q176.0,817.0 178.5,812.8 Q181.0,808.5 179.9,803.8 Q178.8,799.0 183.4,802.0 Q188.0,805.0 192.0,804.2 Q196.0,803.5 199.2,801.2 Q202.5,799.0 203.8,794.5 Q205.0,790.0 205.2,783.0 Q205.3,776.0 205.7,771.0 Q206.0,766.0 206.8,763.5Z" fill="#8eaadb" stroke="#4472c4" stroke-width="0.9" stroke-linejoin="round"/>
<path d="M212.6,776 L212.2,790 L213.2,804" stroke="#2f5597" stroke-width="1.3" fill="none"/>
<g transform="rotate(-12 302.6 782)"><ellipse cx="302.6" cy="782" rx="29.5" ry="22.5" fill="#f4b183" stroke="#c55a11" stroke-width="4.2"/>
<path d="M278.7,771.3 L281.3,771.3 L282.0,788.4Z M283.3,796.5 L285.9,796.5 L283.6,774.0Z M287.9,765.1 L290.5,765.1 L291.2,792.2Z M292.5,800.4 L295.1,800.4 L292.8,771.9Z M297.1,762.7 L299.7,762.7 L300.4,793.6Z M301.7,801.5 L304.3,801.5 L302.0,771.3Z M306.3,762.8 L308.9,762.8 L309.6,793.5Z M310.9,800.2 L313.5,800.2 L311.2,772.0Z M315.5,765.4 L318.1,765.4 L318.8,792.0Z M320.1,796.0 L322.7,796.0 L320.4,774.3Z M324.7,772.3 L327.3,772.3 L328.0,787.8Z" fill="#c55a11"/></g>
<path d="M243.5,801.5 Q256,808 268,802.5" fill="none" stroke="#111" stroke-width="1.9" stroke-dasharray="1.6,1.9"/>
<path d="M271.3,800.6 L265.2,800.4 L268.6,805.2Z" fill="#111"/>
<path d="M324.4,757.3 L324.4,733.6 L319.7,733.6 L328.5,723.6 L337.3,733.6 L332.8,733.6 L332.8,757.3Z" fill="#70ad47" stroke="#507e32" stroke-width="1"/>
<path d="M324.4,801.2 L324.4,826.6 L319.7,826.6 L328.5,835.3 L337.3,826.6 L332.8,826.6 L332.8,801.2Z" fill="#c00000" stroke="#200000" stroke-width="1.1"/>
<text x="343.4" y="747.3" font-size="14.5" font-weight="bold" font-family="Liberation Serif" fill="#111">ΔΨ<tspan font-family="Liberation Sans" font-size="10.5" dy="3">m</tspan></text>
<ellipse cx="639.3" cy="291.4" rx="16.8" ry="11.8" fill="#f4b183" stroke="#c55a11" stroke-width="3"/>
<path d="M627.0,285.1 L628.2,295.8 M631.2,299.8 L630.0,286.3 M633.8,281.8 L635.0,298.1 M638.0,301.6 L636.8,285.3 M640.6,281.1 L641.8,298.6 M644.8,301.2 L643.6,285.5 M647.4,282.6 L648.6,297.5 M651.6,298.3 L650.4,287.3" stroke="#c55a11" stroke-width="1.4" fill="none"/>
<path d="M611,309.2 L615.7,309.2 L615.7,323 L617.9,323 L613.35,329 L608.8,323 L611,323Z" fill="#777" stroke="#111" stroke-width="0.9"/>
<path d="M611,424.7 L615.7,424.7 L615.7,412 L617.9,412 L613.35,406 L608.8,412 L611,412Z" fill="#777" stroke="#111" stroke-width="0.9"/>
<ellipse cx="639.3" cy="381.5" rx="24.3" ry="18.2" fill="#bfbfbf" stroke="#d42020" stroke-width="1.6"/>
<path d="M629.5,373.5 C618.5,377.5 618.5,390 631.5,393.8 C625,389 625,378.5 629.5,373.5 Z" fill="#f4b183" stroke="#c55a11" stroke-width="2.6" stroke-linejoin="round"/>
<path d="M645.5,368 C660.5,370 661,385.5 652,389.5 C655.5,384 655,374 645.5,368 Z" fill="#f4b183" stroke="#c55a11" stroke-width="2.6" stroke-linejoin="round"/>
<path d="M627.2,371 L631.2,369.6 L640.2,393 L636.2,394.4Z" fill="#f4b183" stroke="#c55a11" stroke-width="1.9"/>
<path d="M635.8,367.8 L639.8,366.4 L649.2,390 L645.2,391.4Z" fill="#f4b183" stroke="#c55a11" stroke-width="1.9"/></svg>
</body></html>
